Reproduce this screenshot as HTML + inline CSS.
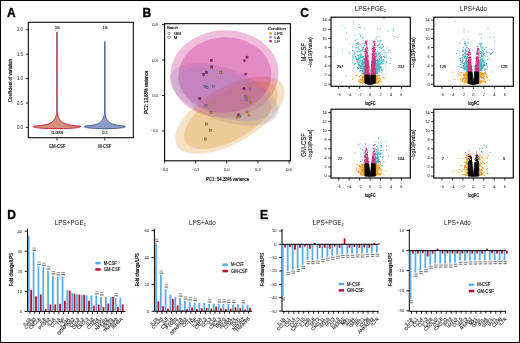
<!DOCTYPE html>
<html><head><meta charset="utf-8"><style>
html,body{margin:0;padding:0;background:#fff;}
body{width:520px;height:343px;overflow:hidden;}
svg{display:block;will-change:transform;}
text{font-family:"Liberation Sans",sans-serif;}
</style></head><body>
<svg width="520" height="343" viewBox="0 0 520 343">
<rect x="0" y="0" width="520" height="343" fill="#fff"/>
<text x="7.00" y="16.60" font-size="12" text-anchor="start" font-weight="bold" fill="#000" stroke="#000" stroke-width="0.35">A</text>
<text x="142.60" y="16.80" font-size="12" text-anchor="start" font-weight="bold" fill="#000" stroke="#000" stroke-width="0.35">B</text>
<text x="300.20" y="16.80" font-size="12" text-anchor="start" font-weight="bold" fill="#000" stroke="#000" stroke-width="0.35">C</text>
<text x="7.20" y="218.90" font-size="12" text-anchor="start" font-weight="bold" fill="#000" stroke="#000" stroke-width="0.35">D</text>
<text x="259.90" y="218.60" font-size="12" text-anchor="start" font-weight="bold" fill="#000" stroke="#000" stroke-width="0.35">E</text>
<rect x="28.3" y="22.3" width="105.00000000000001" height="115.39999999999999" fill="none" stroke="#000" stroke-width="1.05"/>
<line x1="25.80" y1="127.40" x2="28.30" y2="127.40" stroke="#000" stroke-width="0.8"/>
<text x="22.90" y="129.00" font-size="4.5" text-anchor="end" fill="#3a3a3a" stroke="#3a3a3a" stroke-width="0.05" textLength="6.0" lengthAdjust="spacingAndGlyphs">0.0</text>
<line x1="25.80" y1="103.00" x2="28.30" y2="103.00" stroke="#000" stroke-width="0.8"/>
<text x="22.90" y="104.60" font-size="4.5" text-anchor="end" fill="#3a3a3a" stroke="#3a3a3a" stroke-width="0.05" textLength="6.0" lengthAdjust="spacingAndGlyphs">0.5</text>
<line x1="25.80" y1="78.60" x2="28.30" y2="78.60" stroke="#000" stroke-width="0.8"/>
<text x="22.90" y="80.20" font-size="4.5" text-anchor="end" fill="#3a3a3a" stroke="#3a3a3a" stroke-width="0.05" textLength="6.0" lengthAdjust="spacingAndGlyphs">1.0</text>
<line x1="25.80" y1="54.20" x2="28.30" y2="54.20" stroke="#000" stroke-width="0.8"/>
<text x="22.90" y="55.80" font-size="4.5" text-anchor="end" fill="#3a3a3a" stroke="#3a3a3a" stroke-width="0.05" textLength="6.0" lengthAdjust="spacingAndGlyphs">1.5</text>
<line x1="25.80" y1="29.80" x2="28.30" y2="29.80" stroke="#000" stroke-width="0.8"/>
<text x="22.90" y="31.40" font-size="4.5" text-anchor="end" fill="#3a3a3a" stroke="#3a3a3a" stroke-width="0.05" textLength="6.0" lengthAdjust="spacingAndGlyphs">2.0</text>
<text x="12.40" y="80.60" font-size="5.4" text-anchor="middle" transform="rotate(-90 12.40 80.60)" fill="#111" stroke="#111" stroke-width="0.2" textLength="43" lengthAdjust="spacingAndGlyphs">Coefficient of variation</text>
<line x1="57.00" y1="137.70" x2="57.00" y2="140.50" stroke="#000" stroke-width="0.8"/>
<text x="57.00" y="148.30" font-size="5.0" text-anchor="middle" fill="#111" stroke="#111" stroke-width="0.14" textLength="16.5" lengthAdjust="spacingAndGlyphs">GM-CSF</text>
<text x="57.30" y="29.10" font-size="4.4" text-anchor="middle" fill="#111" stroke="#111" stroke-width="0.14" textLength="5.0" lengthAdjust="spacingAndGlyphs">15</text>
<text x="57.30" y="134.00" font-size="4.4" text-anchor="middle" fill="#111" stroke="#111" stroke-width="0.14" textLength="11.4" lengthAdjust="spacingAndGlyphs">0.088</text>
<path d="M56.75,32.00 L56.75,32.48 L56.75,32.95 L56.75,33.43 L56.75,33.90 L56.75,34.38 L56.75,34.86 L56.75,35.33 L56.75,35.81 L56.75,36.28 L56.75,36.76 L56.75,37.23 L56.75,37.71 L56.75,38.19 L56.75,38.66 L56.75,39.14 L56.75,39.61 L56.75,40.09 L56.75,40.57 L56.75,41.04 L56.75,41.52 L56.75,41.99 L56.75,42.47 L56.75,42.95 L56.75,43.42 L56.75,43.90 L56.75,44.37 L56.75,44.85 L56.75,45.32 L56.75,45.80 L56.75,46.28 L56.75,46.75 L56.75,47.23 L56.75,47.70 L56.75,48.18 L56.75,48.66 L56.75,49.13 L56.75,49.61 L56.75,50.08 L56.75,50.56 L56.75,51.04 L56.75,51.51 L56.75,51.99 L56.75,52.46 L56.75,52.94 L56.75,53.41 L56.75,53.89 L56.75,54.37 L56.75,54.84 L56.75,55.32 L56.75,55.79 L56.75,56.27 L56.75,56.75 L56.75,57.22 L56.75,57.70 L56.75,58.17 L56.75,58.65 L56.75,59.13 L56.75,59.60 L56.75,60.08 L56.75,60.55 L56.75,61.03 L56.75,61.50 L56.75,61.98 L56.75,62.46 L56.75,62.93 L56.75,63.41 L56.75,63.88 L56.75,64.36 L56.75,64.84 L56.75,65.31 L56.75,65.79 L56.75,66.26 L56.75,66.74 L56.75,67.22 L56.75,67.69 L56.75,68.17 L56.75,68.64 L56.75,69.12 L56.75,69.59 L56.75,70.07 L56.75,70.55 L56.75,71.02 L56.75,71.50 L56.75,71.97 L56.75,72.45 L56.75,72.93 L56.75,73.40 L56.75,73.88 L56.75,74.35 L56.75,74.83 L56.75,75.31 L56.75,75.78 L56.75,76.26 L56.75,76.73 L56.75,77.21 L56.75,77.68 L56.75,78.16 L56.75,78.64 L56.75,79.11 L56.75,79.59 L56.75,80.06 L56.75,80.54 L56.75,81.02 L56.75,81.49 L56.75,81.97 L56.75,82.44 L56.75,82.92 L56.75,83.39 L56.75,83.87 L56.75,84.35 L56.75,84.82 L56.75,85.30 L56.75,85.77 L56.75,86.25 L56.75,86.73 L56.75,87.20 L56.75,87.68 L56.75,88.15 L56.75,88.63 L56.75,89.11 L56.75,89.58 L56.75,90.06 L56.75,90.53 L56.75,91.01 L56.75,91.48 L56.75,91.96 L56.75,92.44 L56.75,92.91 L56.75,93.39 L56.75,93.86 L56.75,94.34 L56.75,94.82 L56.75,95.29 L56.75,95.77 L56.75,96.24 L56.75,96.72 L56.75,97.20 L56.75,97.67 L56.75,98.15 L56.75,98.62 L56.75,99.10 L56.75,99.57 L56.75,100.05 L56.75,100.53 L56.75,101.00 L56.75,101.48 L56.75,101.95 L56.75,102.43 L56.75,102.91 L56.75,103.38 L56.75,103.86 L56.75,104.33 L56.75,104.81 L56.75,105.29 L56.75,105.76 L56.75,106.24 L56.75,106.71 L56.75,107.19 L56.75,107.66 L56.75,108.14 L56.75,108.62 L56.75,109.09 L56.75,109.57 L56.75,110.04 L56.75,110.52 L56.75,111.00 L56.75,111.47 L56.75,111.95 L56.75,112.42 L56.72,112.90 L56.63,113.38 L56.54,113.85 L56.44,114.33 L56.32,114.80 L56.20,115.28 L56.06,115.75 L55.92,116.23 L55.75,116.71 L55.57,117.18 L55.38,117.66 L55.16,118.13 L54.92,118.61 L54.65,119.09 L54.36,119.56 L54.03,120.04 L53.65,120.51 L53.23,120.99 L52.75,121.47 L52.20,121.94 L51.55,122.42 L50.78,122.89 L49.84,123.37 L48.67,123.84 L47.17,124.32 L45.14,124.80 L42.25,125.27 L37.76,125.75 L33.45,126.22 L33.45,126.70 L33.41,126.77 L33.46,126.84 L33.53,126.91 L33.63,126.98 L33.75,127.04 L33.91,127.11 L34.10,127.18 L34.32,127.25 L34.57,127.32 L34.85,127.39 L35.16,127.46 L35.52,127.53 L35.90,127.60 L36.33,127.67 L36.80,127.73 L37.32,127.80 L37.88,127.87 L38.50,127.94 L39.17,128.01 L39.91,128.08 L40.72,128.15 L41.62,128.22 L42.63,128.29 L43.75,128.36 L45.04,128.42 L46.55,128.49 L48.39,128.56 L50.86,128.63 L56.70,128.70 L57.30,128.70 L63.14,128.63 L65.61,128.56 L67.45,128.49 L68.96,128.42 L70.25,128.36 L71.37,128.29 L72.38,128.22 L73.28,128.15 L74.09,128.08 L74.83,128.01 L75.50,127.94 L76.12,127.87 L76.68,127.80 L77.20,127.73 L77.67,127.67 L78.10,127.60 L78.48,127.53 L78.84,127.46 L79.15,127.39 L79.43,127.32 L79.68,127.25 L79.90,127.18 L80.09,127.11 L80.25,127.04 L80.37,126.98 L80.47,126.91 L80.54,126.84 L80.59,126.77 L80.55,126.70 L80.55,126.22 L76.24,125.75 L71.75,125.27 L68.86,124.80 L66.83,124.32 L65.33,123.84 L64.16,123.37 L63.22,122.89 L62.45,122.42 L61.80,121.94 L61.25,121.47 L60.77,120.99 L60.35,120.51 L59.97,120.04 L59.64,119.56 L59.35,119.09 L59.08,118.61 L58.84,118.13 L58.62,117.66 L58.43,117.18 L58.25,116.71 L58.08,116.23 L57.94,115.75 L57.80,115.28 L57.68,114.80 L57.56,114.33 L57.46,113.85 L57.37,113.38 L57.28,112.90 L57.25,112.42 L57.25,111.95 L57.25,111.47 L57.25,111.00 L57.25,110.52 L57.25,110.04 L57.25,109.57 L57.25,109.09 L57.25,108.62 L57.25,108.14 L57.25,107.66 L57.25,107.19 L57.25,106.71 L57.25,106.24 L57.25,105.76 L57.25,105.29 L57.25,104.81 L57.25,104.33 L57.25,103.86 L57.25,103.38 L57.25,102.91 L57.25,102.43 L57.25,101.95 L57.25,101.48 L57.25,101.00 L57.25,100.53 L57.25,100.05 L57.25,99.57 L57.25,99.10 L57.25,98.62 L57.25,98.15 L57.25,97.67 L57.25,97.20 L57.25,96.72 L57.25,96.24 L57.25,95.77 L57.25,95.29 L57.25,94.82 L57.25,94.34 L57.25,93.86 L57.25,93.39 L57.25,92.91 L57.25,92.44 L57.25,91.96 L57.25,91.48 L57.25,91.01 L57.25,90.53 L57.25,90.06 L57.25,89.58 L57.25,89.11 L57.25,88.63 L57.25,88.15 L57.25,87.68 L57.25,87.20 L57.25,86.73 L57.25,86.25 L57.25,85.77 L57.25,85.30 L57.25,84.82 L57.25,84.35 L57.25,83.87 L57.25,83.39 L57.25,82.92 L57.25,82.44 L57.25,81.97 L57.25,81.49 L57.25,81.02 L57.25,80.54 L57.25,80.06 L57.25,79.59 L57.25,79.11 L57.25,78.64 L57.25,78.16 L57.25,77.68 L57.25,77.21 L57.25,76.73 L57.25,76.26 L57.25,75.78 L57.25,75.31 L57.25,74.83 L57.25,74.35 L57.25,73.88 L57.25,73.40 L57.25,72.93 L57.25,72.45 L57.25,71.97 L57.25,71.50 L57.25,71.02 L57.25,70.55 L57.25,70.07 L57.25,69.59 L57.25,69.12 L57.25,68.64 L57.25,68.17 L57.25,67.69 L57.25,67.22 L57.25,66.74 L57.25,66.26 L57.25,65.79 L57.25,65.31 L57.25,64.84 L57.25,64.36 L57.25,63.88 L57.25,63.41 L57.25,62.93 L57.25,62.46 L57.25,61.98 L57.25,61.50 L57.25,61.03 L57.25,60.55 L57.25,60.08 L57.25,59.60 L57.25,59.13 L57.25,58.65 L57.25,58.17 L57.25,57.70 L57.25,57.22 L57.25,56.75 L57.25,56.27 L57.25,55.79 L57.25,55.32 L57.25,54.84 L57.25,54.37 L57.25,53.89 L57.25,53.41 L57.25,52.94 L57.25,52.46 L57.25,51.99 L57.25,51.51 L57.25,51.04 L57.25,50.56 L57.25,50.08 L57.25,49.61 L57.25,49.13 L57.25,48.66 L57.25,48.18 L57.25,47.70 L57.25,47.23 L57.25,46.75 L57.25,46.28 L57.25,45.80 L57.25,45.32 L57.25,44.85 L57.25,44.37 L57.25,43.90 L57.25,43.42 L57.25,42.95 L57.25,42.47 L57.25,41.99 L57.25,41.52 L57.25,41.04 L57.25,40.57 L57.25,40.09 L57.25,39.61 L57.25,39.14 L57.25,38.66 L57.25,38.19 L57.25,37.71 L57.25,37.23 L57.25,36.76 L57.25,36.28 L57.25,35.81 L57.25,35.33 L57.25,34.86 L57.25,34.38 L57.25,33.90 L57.25,33.43 L57.25,32.95 L57.25,32.48 L57.25,32.00 Z" fill="#d48f7c" stroke="#bb1535" stroke-width="0.9" stroke-linejoin="round"/>
<line x1="104.80" y1="137.70" x2="104.80" y2="140.50" stroke="#000" stroke-width="0.8"/>
<text x="104.80" y="148.30" font-size="5.0" text-anchor="middle" fill="#111" stroke="#111" stroke-width="0.14" textLength="13.2" lengthAdjust="spacingAndGlyphs">M-CSF</text>
<text x="105.10" y="29.10" font-size="4.4" text-anchor="middle" fill="#111" stroke="#111" stroke-width="0.14" textLength="5.0" lengthAdjust="spacingAndGlyphs">15</text>
<text x="105.10" y="134.00" font-size="4.4" text-anchor="middle" fill="#111" stroke="#111" stroke-width="0.14" textLength="5.6" lengthAdjust="spacingAndGlyphs">0.1</text>
<path d="M104.55,41.70 L104.55,42.13 L104.55,42.55 L104.55,42.98 L104.55,43.41 L104.55,43.84 L104.55,44.26 L104.55,44.69 L104.55,45.12 L104.55,45.54 L104.55,45.97 L104.55,46.40 L104.55,46.83 L104.55,47.25 L104.55,47.68 L104.55,48.11 L104.55,48.53 L104.55,48.96 L104.55,49.39 L104.55,49.82 L104.55,50.24 L104.55,50.67 L104.55,51.10 L104.55,51.52 L104.55,51.95 L104.55,52.38 L104.55,52.81 L104.55,53.23 L104.55,53.66 L104.55,54.09 L104.55,54.51 L104.55,54.94 L104.55,55.37 L104.55,55.80 L104.55,56.22 L104.55,56.65 L104.55,57.08 L104.55,57.50 L104.55,57.93 L104.55,58.36 L104.55,58.79 L104.55,59.21 L104.55,59.64 L104.55,60.07 L104.55,60.49 L104.55,60.92 L104.55,61.35 L104.55,61.78 L104.55,62.20 L104.55,62.63 L104.55,63.06 L104.55,63.48 L104.55,63.91 L104.55,64.34 L104.55,64.77 L104.55,65.19 L104.55,65.62 L104.55,66.05 L104.55,66.47 L104.55,66.90 L104.55,67.33 L104.55,67.76 L104.55,68.18 L104.55,68.61 L104.55,69.04 L104.55,69.46 L104.55,69.89 L104.55,70.32 L104.55,70.75 L104.55,71.17 L104.55,71.60 L104.55,72.03 L104.55,72.45 L104.55,72.88 L104.55,73.31 L104.55,73.74 L104.55,74.16 L104.55,74.59 L104.55,75.02 L104.55,75.44 L104.55,75.87 L104.55,76.30 L104.55,76.73 L104.55,77.15 L104.55,77.58 L104.55,78.01 L104.55,78.43 L104.55,78.86 L104.55,79.29 L104.55,79.72 L104.55,80.14 L104.55,80.57 L104.55,81.00 L104.55,81.42 L104.55,81.85 L104.55,82.28 L104.55,82.71 L104.55,83.13 L104.55,83.56 L104.55,83.99 L104.55,84.41 L104.55,84.84 L104.55,85.27 L104.55,85.69 L104.55,86.12 L104.55,86.55 L104.55,86.98 L104.55,87.40 L104.55,87.83 L104.55,88.26 L104.55,88.68 L104.55,89.11 L104.55,89.54 L104.55,89.97 L104.55,90.39 L104.55,90.82 L104.55,91.25 L104.55,91.67 L104.55,92.10 L104.55,92.53 L104.55,92.96 L104.55,93.38 L104.55,93.81 L104.55,94.24 L104.55,94.66 L104.55,95.09 L104.55,95.52 L104.55,95.95 L104.55,96.37 L104.55,96.80 L104.55,97.23 L104.55,97.65 L104.55,98.08 L104.55,98.51 L104.55,98.94 L104.55,99.36 L104.55,99.79 L104.55,100.22 L104.55,100.64 L104.55,101.07 L104.55,101.50 L104.55,101.93 L104.55,102.35 L104.55,102.78 L104.55,103.21 L104.55,103.63 L104.55,104.06 L104.55,104.49 L104.55,104.92 L104.55,105.34 L104.55,105.77 L104.55,106.20 L104.55,106.62 L104.55,107.05 L104.55,107.48 L104.55,107.91 L104.55,108.33 L104.55,108.76 L104.55,109.19 L104.55,109.61 L104.55,110.04 L104.55,110.47 L104.55,110.90 L104.55,111.32 L104.55,111.75 L104.55,112.18 L104.55,112.60 L104.55,113.03 L104.52,113.46 L104.45,113.89 L104.37,114.31 L104.28,114.74 L104.19,115.17 L104.08,115.59 L103.97,116.02 L103.85,116.45 L103.72,116.88 L103.57,117.30 L103.42,117.73 L103.24,118.16 L103.06,118.58 L102.85,119.01 L102.63,119.44 L102.38,119.87 L102.10,120.29 L101.79,120.72 L101.45,121.15 L101.06,121.57 L100.61,122.00 L100.10,122.43 L99.50,122.86 L98.78,123.28 L97.92,123.71 L96.84,124.14 L95.46,124.56 L93.62,124.99 L91.01,125.42 L87.01,125.85 L84.35,126.27 L84.35,126.70 L84.31,126.77 L84.35,126.84 L84.41,126.91 L84.50,126.98 L84.61,127.04 L84.74,127.11 L84.91,127.18 L85.10,127.25 L85.31,127.32 L85.56,127.39 L85.83,127.46 L86.14,127.53 L86.48,127.60 L86.85,127.67 L87.26,127.73 L87.70,127.80 L88.19,127.87 L88.73,127.94 L89.31,128.01 L89.96,128.08 L90.66,128.15 L91.44,128.22 L92.31,128.29 L93.29,128.36 L94.41,128.42 L95.72,128.49 L97.32,128.56 L99.46,128.63 L104.50,128.70 L105.10,128.70 L110.14,128.63 L112.28,128.56 L113.88,128.49 L115.19,128.42 L116.31,128.36 L117.29,128.29 L118.16,128.22 L118.94,128.15 L119.64,128.08 L120.29,128.01 L120.87,127.94 L121.41,127.87 L121.90,127.80 L122.34,127.73 L122.75,127.67 L123.12,127.60 L123.46,127.53 L123.77,127.46 L124.04,127.39 L124.29,127.32 L124.50,127.25 L124.69,127.18 L124.86,127.11 L124.99,127.04 L125.10,126.98 L125.19,126.91 L125.25,126.84 L125.29,126.77 L125.25,126.70 L125.25,126.27 L122.59,125.85 L118.59,125.42 L115.98,124.99 L114.14,124.56 L112.76,124.14 L111.68,123.71 L110.82,123.28 L110.10,122.86 L109.50,122.43 L108.99,122.00 L108.54,121.57 L108.15,121.15 L107.81,120.72 L107.50,120.29 L107.22,119.87 L106.97,119.44 L106.75,119.01 L106.54,118.58 L106.36,118.16 L106.18,117.73 L106.03,117.30 L105.88,116.88 L105.75,116.45 L105.63,116.02 L105.52,115.59 L105.41,115.17 L105.32,114.74 L105.23,114.31 L105.15,113.89 L105.08,113.46 L105.05,113.03 L105.05,112.60 L105.05,112.18 L105.05,111.75 L105.05,111.32 L105.05,110.90 L105.05,110.47 L105.05,110.04 L105.05,109.61 L105.05,109.19 L105.05,108.76 L105.05,108.33 L105.05,107.91 L105.05,107.48 L105.05,107.05 L105.05,106.62 L105.05,106.20 L105.05,105.77 L105.05,105.34 L105.05,104.92 L105.05,104.49 L105.05,104.06 L105.05,103.63 L105.05,103.21 L105.05,102.78 L105.05,102.35 L105.05,101.93 L105.05,101.50 L105.05,101.07 L105.05,100.64 L105.05,100.22 L105.05,99.79 L105.05,99.36 L105.05,98.94 L105.05,98.51 L105.05,98.08 L105.05,97.65 L105.05,97.23 L105.05,96.80 L105.05,96.37 L105.05,95.95 L105.05,95.52 L105.05,95.09 L105.05,94.66 L105.05,94.24 L105.05,93.81 L105.05,93.38 L105.05,92.96 L105.05,92.53 L105.05,92.10 L105.05,91.67 L105.05,91.25 L105.05,90.82 L105.05,90.39 L105.05,89.97 L105.05,89.54 L105.05,89.11 L105.05,88.68 L105.05,88.26 L105.05,87.83 L105.05,87.40 L105.05,86.98 L105.05,86.55 L105.05,86.12 L105.05,85.69 L105.05,85.27 L105.05,84.84 L105.05,84.41 L105.05,83.99 L105.05,83.56 L105.05,83.13 L105.05,82.71 L105.05,82.28 L105.05,81.85 L105.05,81.42 L105.05,81.00 L105.05,80.57 L105.05,80.14 L105.05,79.72 L105.05,79.29 L105.05,78.86 L105.05,78.43 L105.05,78.01 L105.05,77.58 L105.05,77.15 L105.05,76.73 L105.05,76.30 L105.05,75.87 L105.05,75.44 L105.05,75.02 L105.05,74.59 L105.05,74.16 L105.05,73.74 L105.05,73.31 L105.05,72.88 L105.05,72.45 L105.05,72.03 L105.05,71.60 L105.05,71.17 L105.05,70.75 L105.05,70.32 L105.05,69.89 L105.05,69.46 L105.05,69.04 L105.05,68.61 L105.05,68.18 L105.05,67.76 L105.05,67.33 L105.05,66.90 L105.05,66.47 L105.05,66.05 L105.05,65.62 L105.05,65.19 L105.05,64.77 L105.05,64.34 L105.05,63.91 L105.05,63.48 L105.05,63.06 L105.05,62.63 L105.05,62.20 L105.05,61.78 L105.05,61.35 L105.05,60.92 L105.05,60.49 L105.05,60.07 L105.05,59.64 L105.05,59.21 L105.05,58.79 L105.05,58.36 L105.05,57.93 L105.05,57.50 L105.05,57.08 L105.05,56.65 L105.05,56.22 L105.05,55.80 L105.05,55.37 L105.05,54.94 L105.05,54.51 L105.05,54.09 L105.05,53.66 L105.05,53.23 L105.05,52.81 L105.05,52.38 L105.05,51.95 L105.05,51.52 L105.05,51.10 L105.05,50.67 L105.05,50.24 L105.05,49.82 L105.05,49.39 L105.05,48.96 L105.05,48.53 L105.05,48.11 L105.05,47.68 L105.05,47.25 L105.05,46.83 L105.05,46.40 L105.05,45.97 L105.05,45.54 L105.05,45.12 L105.05,44.69 L105.05,44.26 L105.05,43.84 L105.05,43.41 L105.05,42.98 L105.05,42.55 L105.05,42.13 L105.05,41.70 Z" fill="#8f9cc9" stroke="#34528f" stroke-width="0.9" stroke-linejoin="round"/>
<clipPath id="cb"><rect x="164.6" y="23.7" width="125.79999999999998" height="137.10000000000002"/></clipPath>
<g clip-path="url(#cb)">
<ellipse cx="229.9" cy="115.1" rx="61" ry="28" transform="rotate(-29.65 229.9 115.1)" fill="#da9024" fill-opacity="0.27"/>
<ellipse cx="224.5" cy="74" rx="54.1" ry="43.7" transform="rotate(-2.9 224.5 74)" fill="#c5097f" fill-opacity="0.27"/>
<ellipse cx="224" cy="94.5" rx="57" ry="26" transform="rotate(20 224 94.5)" fill="#9b8abb" fill-opacity="0.27"/>
<ellipse cx="230.9" cy="115.2" rx="52.6" ry="24" transform="rotate(-31 230.9 115.2)" fill="#da9024" fill-opacity="0.27"/>
<ellipse cx="224.9" cy="74.9" rx="46.4" ry="37.7" transform="rotate(-2.2 224.9 74.9)" fill="#c5097f" fill-opacity="0.27"/>
<ellipse cx="224" cy="94.5" rx="49" ry="22.4" transform="rotate(20 224 94.5)" fill="#9b8abb" fill-opacity="0.27"/>
</g>
<rect x="164.6" y="23.7" width="125.79999999999998" height="137.10000000000002" fill="none" stroke="#000" stroke-width="1.1"/>
<line x1="162.00" y1="24.52" x2="164.60" y2="24.52" stroke="#000" stroke-width="0.8"/>
<text x="157.90" y="26.02" font-size="4.2" text-anchor="end" fill="#3a3a3a" stroke="#3a3a3a" stroke-width="0.05" textLength="5.7" lengthAdjust="spacingAndGlyphs">0.6</text>
<line x1="162.00" y1="60.01" x2="164.60" y2="60.01" stroke="#000" stroke-width="0.8"/>
<text x="157.90" y="61.51" font-size="4.2" text-anchor="end" fill="#3a3a3a" stroke="#3a3a3a" stroke-width="0.05" textLength="5.7" lengthAdjust="spacingAndGlyphs">0.3</text>
<line x1="162.00" y1="95.50" x2="164.60" y2="95.50" stroke="#000" stroke-width="0.8"/>
<text x="157.90" y="97.00" font-size="4.2" text-anchor="end" fill="#3a3a3a" stroke="#3a3a3a" stroke-width="0.05" textLength="5.7" lengthAdjust="spacingAndGlyphs">0.0</text>
<line x1="162.00" y1="130.99" x2="164.60" y2="130.99" stroke="#000" stroke-width="0.8"/>
<text x="157.90" y="132.49" font-size="4.2" text-anchor="end" fill="#3a3a3a" stroke="#3a3a3a" stroke-width="0.05" textLength="7.2" lengthAdjust="spacingAndGlyphs">−0.3</text>
<line x1="164.58" y1="160.80" x2="164.58" y2="163.40" stroke="#000" stroke-width="0.8"/>
<text x="164.58" y="170.60" font-size="4.2" text-anchor="middle" fill="#3a3a3a" stroke="#3a3a3a" stroke-width="0.05" textLength="7.2" lengthAdjust="spacingAndGlyphs">−0.6</text>
<line x1="195.69" y1="160.80" x2="195.69" y2="163.40" stroke="#000" stroke-width="0.8"/>
<text x="195.69" y="170.60" font-size="4.2" text-anchor="middle" fill="#3a3a3a" stroke="#3a3a3a" stroke-width="0.05" textLength="7.2" lengthAdjust="spacingAndGlyphs">−0.3</text>
<line x1="226.80" y1="160.80" x2="226.80" y2="163.40" stroke="#000" stroke-width="0.8"/>
<text x="226.80" y="170.60" font-size="4.2" text-anchor="middle" fill="#3a3a3a" stroke="#3a3a3a" stroke-width="0.05" textLength="5.7" lengthAdjust="spacingAndGlyphs">0.0</text>
<line x1="257.91" y1="160.80" x2="257.91" y2="163.40" stroke="#000" stroke-width="0.8"/>
<text x="257.91" y="170.60" font-size="4.2" text-anchor="middle" fill="#3a3a3a" stroke="#3a3a3a" stroke-width="0.05" textLength="5.7" lengthAdjust="spacingAndGlyphs">0.3</text>
<line x1="289.02" y1="160.80" x2="289.02" y2="163.40" stroke="#000" stroke-width="0.8"/>
<text x="289.02" y="170.60" font-size="4.2" text-anchor="middle" fill="#3a3a3a" stroke="#3a3a3a" stroke-width="0.05" textLength="5.7" lengthAdjust="spacingAndGlyphs">0.6</text>
<text x="227.60" y="180.60" font-size="6.2" text-anchor="middle" fill="#111" stroke="#111" stroke-width="0.22" textLength="43" lengthAdjust="spacingAndGlyphs">PC1: 54.33% variance</text>
<text x="147.80" y="92.20" font-size="5.6" text-anchor="middle" transform="rotate(-90 147.80 92.20)" fill="#111" stroke="#111" stroke-width="0.22" textLength="43" lengthAdjust="spacingAndGlyphs">PC2: 13.68% variance</text>
<text x="166.90" y="29.40" font-size="4.2" text-anchor="start" fill="#111" stroke="#111" stroke-width="0.14" textLength="11.0" lengthAdjust="spacingAndGlyphs">Batch</text>
<circle cx="169.0" cy="33.5" r="1.15" fill="none" stroke="#555" stroke-width="0.6"/>
<rect x="167.9" y="36.2" width="2.2" height="2.2" fill="none" stroke="#555" stroke-width="0.6"/>
<text x="173.90" y="35.00" font-size="4.3" text-anchor="start" fill="#111" stroke="#111" stroke-width="0.14" textLength="7.0" lengthAdjust="spacingAndGlyphs">GM</text>
<text x="173.90" y="38.80" font-size="4.3" text-anchor="start" fill="#111" stroke="#111" stroke-width="0.14" textLength="3.3" lengthAdjust="spacingAndGlyphs">M</text>
<text x="267.80" y="29.70" font-size="4.3" text-anchor="start" fill="#111" stroke="#111" stroke-width="0.14" textLength="18.1" lengthAdjust="spacingAndGlyphs">Condition</text>
<circle cx="270.5" cy="33.50" r="1.3" fill="#f08c1a"/>
<text x="274.60" y="35.00" font-size="4.3" text-anchor="start" fill="#111" stroke="#111" stroke-width="0.14">LPS</text>
<circle cx="270.5" cy="37.30" r="1.3" fill="#8c86cc"/>
<text x="274.60" y="38.80" font-size="4.3" text-anchor="start" fill="#111" stroke="#111" stroke-width="0.14">LA</text>
<circle cx="270.5" cy="41.10" r="1.3" fill="#c0107a"/>
<text x="274.60" y="42.60" font-size="4.3" text-anchor="start" fill="#111" stroke="#111" stroke-width="0.14">LP</text>
<rect x="210.30" y="59.30" width="2.2" height="2.2" fill="#b0126e" stroke="#333" stroke-width="0.35"/>
<rect x="210.70" y="65.90" width="2.2" height="2.2" fill="#b0126e" stroke="#333" stroke-width="0.35"/>
<rect x="205.40" y="71.40" width="2.2" height="2.2" fill="#b0126e" stroke="#333" stroke-width="0.35"/>
<rect x="202.70" y="73.40" width="2.2" height="2.2" fill="#b0126e" stroke="#333" stroke-width="0.35"/>
<rect x="219.70" y="71.10" width="2.2" height="2.2" fill="#e8921c" stroke="#333" stroke-width="0.35"/>
<rect x="203.90" y="85.30" width="2.2" height="2.2" fill="#8a86c6" stroke="#333" stroke-width="0.35"/>
<rect x="206.10" y="86.50" width="2.2" height="2.2" fill="#8a86c6" stroke="#333" stroke-width="0.35"/>
<rect x="212.30" y="85.40" width="2.2" height="2.2" fill="#8a86c6" stroke="#333" stroke-width="0.35"/>
<circle cx="247.00" cy="57.20" r="1.2" fill="#b0126e" stroke="#333" stroke-width="0.35"/>
<circle cx="244.40" cy="60.60" r="1.2" fill="#b0126e" stroke="#333" stroke-width="0.35"/>
<circle cx="245.60" cy="74.10" r="1.2" fill="#b0126e" stroke="#333" stroke-width="0.35"/>
<circle cx="244.00" cy="88.50" r="1.2" fill="#b0126e" stroke="#333" stroke-width="0.35"/>
<circle cx="250.00" cy="89.00" r="1.2" fill="#8a86c6" stroke="#333" stroke-width="0.35"/>
<rect x="198.70" y="97.50" width="2.2" height="2.2" fill="#b0126e" stroke="#333" stroke-width="0.35"/>
<rect x="204.90" y="104.20" width="2.2" height="2.2" fill="#8a86c6" stroke="#333" stroke-width="0.35"/>
<rect x="209.90" y="111.40" width="2.2" height="2.2" fill="#e8921c" stroke="#333" stroke-width="0.35"/>
<rect x="205.50" y="122.90" width="2.2" height="2.2" fill="#e8921c" stroke="#333" stroke-width="0.35"/>
<rect x="209.30" y="129.40" width="2.2" height="2.2" fill="#e8921c" stroke="#333" stroke-width="0.35"/>
<rect x="204.40" y="137.90" width="2.2" height="2.2" fill="#e8921c" stroke="#333" stroke-width="0.35"/>
<circle cx="245.40" cy="96.70" r="1.2" fill="#8a86c6" stroke="#333" stroke-width="0.35"/>
<circle cx="246.30" cy="99.80" r="1.2" fill="#8a86c6" stroke="#333" stroke-width="0.35"/>
<circle cx="248.50" cy="97.50" r="1.2" fill="#e8921c" stroke="#333" stroke-width="0.35"/>
<circle cx="250.60" cy="102.30" r="1.2" fill="#e8921c" stroke="#333" stroke-width="0.35"/>
<circle cx="247.00" cy="112.00" r="1.2" fill="#e8921c" stroke="#333" stroke-width="0.35"/>
<circle cx="249.00" cy="115.30" r="1.2" fill="#e8921c" stroke="#333" stroke-width="0.35"/>
<circle cx="238.50" cy="114.80" r="1.2" fill="#b0126e" stroke="#333" stroke-width="0.35"/>
<circle cx="237.00" cy="117.30" r="1.2" fill="#e8921c" stroke="#333" stroke-width="0.35"/>
<circle cx="240.00" cy="116.30" r="1.2" fill="#8a86c6" stroke="#333" stroke-width="0.35"/>
<text x="354.70" y="10.60" font-size="6.4" text-anchor="start" fill="#111">LPS+PGE<tspan font-size="3.8" dy="1.3">2</tspan></text>
<text x="460.10" y="10.60" font-size="6.4" text-anchor="start" fill="#111" textLength="26.8" lengthAdjust="spacingAndGlyphs">LPS+Ado</text>
<text x="306.00" y="52.30" font-size="7.0" text-anchor="middle" transform="rotate(-90 306.00 52.30)" fill="#111" stroke="#111" stroke-width="0.1" textLength="18.5" lengthAdjust="spacingAndGlyphs">M-CSF</text>
<text x="306.00" y="144.90" font-size="7.0" text-anchor="middle" transform="rotate(-90 306.00 144.90)" fill="#111" stroke="#111" stroke-width="0.1" textLength="23.6" lengthAdjust="spacingAndGlyphs">GM-CSF</text>
<text x="311.80" y="52.30" font-size="4.8" text-anchor="middle" transform="rotate(-90 311.80 52.30)" fill="#111" stroke="#111" stroke-width="0.1" textLength="30.0" lengthAdjust="spacingAndGlyphs">−log10(Pvalue)</text>
<text x="311.80" y="144.50" font-size="4.8" text-anchor="middle" transform="rotate(-90 311.80 144.50)" fill="#111" stroke="#111" stroke-width="0.1" textLength="30.0" lengthAdjust="spacingAndGlyphs">−log10(Pvalue)</text>
<text x="414.60" y="52.30" font-size="4.8" text-anchor="middle" transform="rotate(-90 414.60 52.30)" fill="#111" stroke="#111" stroke-width="0.1" textLength="30.0" lengthAdjust="spacingAndGlyphs">−log10(Pvalue)</text>
<text x="414.60" y="144.50" font-size="4.8" text-anchor="middle" transform="rotate(-90 414.60 144.50)" fill="#111" stroke="#111" stroke-width="0.1" textLength="30.0" lengthAdjust="spacingAndGlyphs">−log10(Pvalue)</text>
<rect x="331.0" y="17.2" width="79.30000000000001" height="69.1" fill="none" stroke="#000" stroke-width="1.15"/>
<line x1="328.20" y1="84.30" x2="331.00" y2="84.30" stroke="#000" stroke-width="0.75"/>
<text x="326.80" y="85.65" font-size="3.9" text-anchor="end" fill="#3a3a3a" stroke="#3a3a3a" stroke-width="0.05" textLength="2.2" lengthAdjust="spacingAndGlyphs">0</text>
<line x1="328.20" y1="75.12" x2="331.00" y2="75.12" stroke="#000" stroke-width="0.75"/>
<text x="326.80" y="76.47" font-size="3.9" text-anchor="end" fill="#3a3a3a" stroke="#3a3a3a" stroke-width="0.05" textLength="2.2" lengthAdjust="spacingAndGlyphs">2</text>
<line x1="328.20" y1="65.94" x2="331.00" y2="65.94" stroke="#000" stroke-width="0.75"/>
<text x="326.80" y="67.29" font-size="3.9" text-anchor="end" fill="#3a3a3a" stroke="#3a3a3a" stroke-width="0.05" textLength="2.2" lengthAdjust="spacingAndGlyphs">4</text>
<line x1="328.20" y1="56.76" x2="331.00" y2="56.76" stroke="#000" stroke-width="0.75"/>
<text x="326.80" y="58.11" font-size="3.9" text-anchor="end" fill="#3a3a3a" stroke="#3a3a3a" stroke-width="0.05" textLength="2.2" lengthAdjust="spacingAndGlyphs">6</text>
<line x1="328.20" y1="47.58" x2="331.00" y2="47.58" stroke="#000" stroke-width="0.75"/>
<text x="326.80" y="48.93" font-size="3.9" text-anchor="end" fill="#3a3a3a" stroke="#3a3a3a" stroke-width="0.05" textLength="2.2" lengthAdjust="spacingAndGlyphs">8</text>
<line x1="328.20" y1="38.40" x2="331.00" y2="38.40" stroke="#000" stroke-width="0.75"/>
<text x="326.80" y="39.75" font-size="3.9" text-anchor="end" fill="#3a3a3a" stroke="#3a3a3a" stroke-width="0.05" textLength="4.4" lengthAdjust="spacingAndGlyphs">10</text>
<line x1="328.20" y1="29.22" x2="331.00" y2="29.22" stroke="#000" stroke-width="0.75"/>
<text x="326.80" y="30.57" font-size="3.9" text-anchor="end" fill="#3a3a3a" stroke="#3a3a3a" stroke-width="0.05" textLength="4.4" lengthAdjust="spacingAndGlyphs">12</text>
<line x1="328.20" y1="20.04" x2="331.00" y2="20.04" stroke="#000" stroke-width="0.75"/>
<text x="326.80" y="21.39" font-size="3.9" text-anchor="end" fill="#3a3a3a" stroke="#3a3a3a" stroke-width="0.05" textLength="4.4" lengthAdjust="spacingAndGlyphs">14</text>
<line x1="338.72" y1="86.30" x2="338.72" y2="88.90" stroke="#000" stroke-width="0.75"/>
<text x="338.72" y="96.30" font-size="3.9" text-anchor="middle" fill="#3a3a3a" stroke="#3a3a3a" stroke-width="0.05" textLength="4.0" lengthAdjust="spacingAndGlyphs">−6</text>
<line x1="349.18" y1="86.30" x2="349.18" y2="88.90" stroke="#000" stroke-width="0.75"/>
<text x="349.18" y="96.30" font-size="3.9" text-anchor="middle" fill="#3a3a3a" stroke="#3a3a3a" stroke-width="0.05" textLength="4.0" lengthAdjust="spacingAndGlyphs">−4</text>
<line x1="359.64" y1="86.30" x2="359.64" y2="88.90" stroke="#000" stroke-width="0.75"/>
<text x="359.64" y="96.30" font-size="3.9" text-anchor="middle" fill="#3a3a3a" stroke="#3a3a3a" stroke-width="0.05" textLength="4.0" lengthAdjust="spacingAndGlyphs">−2</text>
<line x1="370.10" y1="86.30" x2="370.10" y2="88.90" stroke="#000" stroke-width="0.75"/>
<text x="370.10" y="96.30" font-size="3.9" text-anchor="middle" fill="#3a3a3a" stroke="#3a3a3a" stroke-width="0.05" textLength="2.2" lengthAdjust="spacingAndGlyphs">0</text>
<line x1="380.56" y1="86.30" x2="380.56" y2="88.90" stroke="#000" stroke-width="0.75"/>
<text x="380.56" y="96.30" font-size="3.9" text-anchor="middle" fill="#3a3a3a" stroke="#3a3a3a" stroke-width="0.05" textLength="2.2" lengthAdjust="spacingAndGlyphs">2</text>
<line x1="391.02" y1="86.30" x2="391.02" y2="88.90" stroke="#000" stroke-width="0.75"/>
<text x="391.02" y="96.30" font-size="3.9" text-anchor="middle" fill="#3a3a3a" stroke="#3a3a3a" stroke-width="0.05" textLength="2.2" lengthAdjust="spacingAndGlyphs">4</text>
<line x1="401.48" y1="86.30" x2="401.48" y2="88.90" stroke="#000" stroke-width="0.75"/>
<text x="401.48" y="96.30" font-size="3.9" text-anchor="middle" fill="#3a3a3a" stroke="#3a3a3a" stroke-width="0.05" textLength="2.2" lengthAdjust="spacingAndGlyphs">6</text>
<text x="370.40" y="105.30" font-size="5.2" text-anchor="middle" fill="#111" stroke="#111" stroke-width="0.22" textLength="10.7" lengthAdjust="spacingAndGlyphs">logFC</text>
<text x="340.00" y="68.00" font-size="4.0" text-anchor="middle" fill="#111" stroke="#111" stroke-width="0.14" textLength="6.6000000000000005" lengthAdjust="spacingAndGlyphs">257</text>
<text x="401.10" y="68.00" font-size="4.0" text-anchor="middle" fill="#111" stroke="#111" stroke-width="0.14" textLength="6.6000000000000005" lengthAdjust="spacingAndGlyphs">232</text>
<path d="M352 78.5h1.5v1h-1.5zM362.5 78.5h1v1h-1zM364 78.5h1v1h-1zM375 78.5h1.5v1h-1.5zM377 78.5h1v1h-1zM380 78.5h1v1h-1zM362 78h1.5v1h-1.5zM364 78h1v1h-1zM375 78h2v1h-2zM377 78h1.5v1h-1.5zM379.5 78h1v1h-1zM384 78h1v1h-1zM346 75.5h1v1h-1zM362.5 75.5h1.5v1h-1.5zM375 75.5h1v1h-1zM377 75.5h1v1h-1zM356 75h1v1h-1zM360 75h1v1h-1zM361.5 75h1v1h-1zM363 75h1v1h-1zM364 75h1v1h-1zM375.5 75h1v1h-1zM376.5 75h1v1h-1zM377.5 75h1v1h-1zM379 75h1.5v1h-1.5zM362 83h1v1h-1zM375 83h1.5v1h-1.5zM377 83h1v1h-1zM359 79.5h1v1h-1zM360 79.5h1.5v1h-1.5zM361.5 79.5h2.5v1h-2.5zM364 79.5h1.5v1h-1.5zM375 79.5h2.5v1h-2.5zM379.5 79.5h1v1h-1zM359.5 81h1v1h-1zM362.5 81h1v1h-1zM363.5 81h1v1h-1zM375 81h1.5v1h-1.5zM376.5 81h1v1h-1zM380.5 81h1v1h-1zM360.5 82h1.5v1h-1.5zM363 82h2v1h-2zM375 82h1v1h-1zM376 82h1v1h-1zM377 82h1v1h-1zM378 82h1v1h-1zM362 76.5h2v1h-2zM364 76.5h1v1h-1zM375 76.5h2v1h-2zM377.5 76.5h1v1h-1zM382.5 76.5h1v1h-1zM363 74.5h1v1h-1zM364 74.5h1v1h-1zM360 79h1v1h-1zM361 79h1v1h-1zM362 79h1.5v1h-1.5zM363.5 79h1.5v1h-1.5zM375.5 79h1.5v1h-1.5zM377 79h1v1h-1zM359 76h1v1h-1zM364 76h1v1h-1zM375 76h2v1h-2zM379 76h1v1h-1zM358.5 80.5h1v1h-1zM361.5 80.5h1v1h-1zM363.5 80.5h2v1h-2zM375.5 80.5h1.5v1h-1.5zM377.5 80.5h1.5v1h-1.5zM380 80.5h1v1h-1zM361.5 77h2v1h-2zM363.5 77h1.5v1h-1.5zM375 77h1v1h-1zM377 77h1v1h-1zM359 82.5h1v1h-1zM363 82.5h1v1h-1zM375 82.5h3v1h-3zM359.5 77.5h1v1h-1zM362 77.5h1v1h-1zM363 77.5h2v1h-2zM375.5 77.5h1v1h-1zM377 77.5h1v1h-1zM378 77.5h1.5v1h-1.5zM383 77.5h1v1h-1zM358 81.5h1v1h-1zM360 81.5h1v1h-1zM362.5 81.5h1v1h-1zM364 81.5h1.5v1h-1.5zM375 81.5h1v1h-1zM376 81.5h1.5v1h-1.5zM378.5 81.5h1.5v1h-1.5zM380.5 81.5h1v1h-1zM360.5 80h1v1h-1zM363 80h1.5v1h-1.5zM375 80h1v1h-1zM376 80h1v1h-1zM379 80h1v1h-1z" fill="#f0a020"/>
<path d="M358 65.5h1v1h-1zM359.5 65.5h1v1h-1zM360.5 65.5h1.5v1h-1.5zM362.5 65.5h2v1h-2zM376 65.5h3v1h-3zM353.5 54h1v1h-1zM359 54h1.5v1h-1.5zM361 54h1v1h-1zM376 54h1v1h-1zM378 54h1v1h-1zM380.5 54h1v1h-1zM357 42.5h1.5v1h-1.5zM379 42.5h1v1h-1zM358 64h1v1h-1zM359 64h1v1h-1zM361.5 64h2v1h-2zM377 64h2v1h-2zM379.5 64h1.5v1h-1.5zM353.5 67.5h1v1h-1zM359 67.5h1v1h-1zM360 67.5h1.5v1h-1.5zM362.5 67.5h2.5v1h-2.5zM375.5 67.5h1v1h-1zM377.5 67.5h1.5v1h-1.5zM379 67.5h1.5v1h-1.5zM357 68.5h1v1h-1zM360 68.5h2v1h-2zM362.5 68.5h3v1h-3zM375 68.5h1.5v1h-1.5zM377 68.5h3.5v1h-3.5zM381 68.5h1v1h-1zM382.5 68.5h1v1h-1zM354 63.5h2v1h-2zM360.5 63.5h1v1h-1zM361.5 63.5h1v1h-1zM362.5 63.5h1v1h-1zM363.5 63.5h1v1h-1zM375 63.5h1v1h-1zM376 63.5h1v1h-1zM377.5 63.5h1v1h-1zM378.5 63.5h1.5v1h-1.5zM380 63.5h1.5v1h-1.5zM382.5 63.5h1.5v1h-1.5zM384.5 63.5h1v1h-1zM359.5 70h2v1h-2zM362 70h1v1h-1zM363 70h2v1h-2zM375 70h2.5v1h-2.5zM379 70h1v1h-1zM381.5 70h1v1h-1zM346 32.5h1v1h-1zM353 50.5h1v1h-1zM357.5 50.5h1v1h-1zM359 50.5h1.5v1h-1.5zM360.5 50.5h1.5v1h-1.5zM384.5 50.5h1v1h-1zM389.5 50.5h1v1h-1zM357 61.5h1.5v1h-1.5zM361.5 61.5h2v1h-2zM364.5 61.5h1v1h-1zM375.5 61.5h1v1h-1zM377 61.5h2v1h-2zM382.5 61.5h1v1h-1zM352 62.5h1v1h-1zM358 62.5h1v1h-1zM359 62.5h1.5v1h-1.5zM361 62.5h1v1h-1zM362 62.5h1.5v1h-1.5zM363.5 62.5h1v1h-1zM376 62.5h2.5v1h-2.5zM380 62.5h1.5v1h-1.5zM381.5 62.5h1v1h-1zM359.5 66.5h1v1h-1zM362.5 66.5h1v1h-1zM375.5 66.5h1v1h-1zM377.5 66.5h2v1h-2zM379.5 66.5h2v1h-2zM385 66.5h1v1h-1zM357 55h1v1h-1zM358 55h1v1h-1zM360 55h1v1h-1zM376 55h1.5v1h-1.5zM380 55h1v1h-1zM363.5 69h1.5v1h-1.5zM375 69h1.5v1h-1.5zM376.5 69h1v1h-1zM377.5 69h1v1h-1zM379 69h1v1h-1zM359 57.5h1v1h-1zM360 57.5h1v1h-1zM361 57.5h1.5v1h-1.5zM362.5 57.5h1v1h-1zM375 57.5h2v1h-2zM378.5 57.5h1v1h-1zM385.5 57.5h1v1h-1zM352 55.5h1v1h-1zM361 55.5h1v1h-1zM375.5 55.5h1v1h-1zM384.5 55.5h1v1h-1zM386 55.5h1v1h-1zM363.5 73.5h2v1h-2zM375 73.5h3v1h-3zM356 44.5h1v1h-1zM376.5 44.5h1v1h-1zM378 44.5h1.5v1h-1.5zM362.5 71.5h1v1h-1zM364 71.5h1v1h-1zM375 71.5h3v1h-3zM379 71.5h1v1h-1zM358 58.5h1v1h-1zM364 58.5h1v1h-1zM359 65h1.5v1h-1.5zM360.5 65h1.5v1h-1.5zM362.5 65h2.5v1h-2.5zM375 65h2v1h-2zM377 65h1v1h-1zM378 65h1.5v1h-1.5zM360 66h1v1h-1zM361 66h4v1h-4zM375.5 66h2v1h-2zM377.5 66h1v1h-1zM378.5 66h2v1h-2zM355.5 63h1v1h-1zM362 63h1v1h-1zM364 63h1v1h-1zM375 63h1v1h-1zM376 63h1v1h-1zM378.5 63h1v1h-1zM382 63h1v1h-1zM389.5 63h1v1h-1zM363.5 72h1.5v1h-1.5zM375.5 72h2v1h-2zM361.5 70.5h1.5v1h-1.5zM363.5 70.5h1.5v1h-1.5zM375 70.5h2.5v1h-2.5zM378 70.5h1.5v1h-1.5zM382 70.5h1v1h-1zM352.5 57h1v1h-1zM355.5 57h1v1h-1zM358 57h1v1h-1zM360.5 57h1v1h-1zM361.5 57h1v1h-1zM362.5 57h1v1h-1zM375 57h1v1h-1zM380 57h1v1h-1zM381 57h1v1h-1zM384 57h1v1h-1zM349.5 43h1v1h-1zM355.5 43h1v1h-1zM362.5 43h1v1h-1zM359.5 62h1v1h-1zM361.5 62h1.5v1h-1.5zM363 62h1.5v1h-1.5zM380.5 62h1.5v1h-1.5zM385.5 62h1v1h-1zM355 47.5h1v1h-1zM357.5 47.5h1v1h-1zM379.5 47.5h1v1h-1zM386.5 47.5h1v1h-1zM359.5 71h1v1h-1zM362 71h3.5v1h-3.5zM375 71h2.5v1h-2.5zM378.5 71h1v1h-1zM353.5 56h1v1h-1zM355 56h1v1h-1zM358.5 56h1v1h-1zM360 56h1v1h-1zM361.5 56h1.5v1h-1.5zM363 56h1v1h-1zM375 56h1.5v1h-1.5zM376.5 56h1v1h-1zM378.5 56h1.5v1h-1.5zM380.5 56h1v1h-1zM383 56h1.5v1h-1.5zM357 60.5h1v1h-1zM358.5 60.5h1.5v1h-1.5zM360 60.5h1v1h-1zM362 60.5h1v1h-1zM364 60.5h1v1h-1zM377 60.5h2v1h-2zM379 60.5h1v1h-1zM380 60.5h1v1h-1zM381.5 60.5h1v1h-1zM383.5 60.5h1v1h-1zM362 69.5h1v1h-1zM363.5 69.5h1.5v1h-1.5zM375.5 69.5h1v1h-1zM376.5 69.5h2v1h-2zM381.5 69.5h1v1h-1zM375 52h1v1h-1zM380 52h1v1h-1zM383.5 52h1v1h-1zM387.5 52h1v1h-1zM358 64.5h1.5v1h-1.5zM362.5 64.5h1.5v1h-1.5zM364 64.5h1v1h-1zM375 64.5h1v1h-1zM376.5 64.5h1v1h-1zM377.5 64.5h3v1h-3zM361.5 61h1v1h-1zM362.5 61h1v1h-1zM363.5 61h1v1h-1zM375.5 61h1v1h-1zM378 61h1v1h-1zM383.5 61h1v1h-1zM386 61h1v1h-1zM356 59h1v1h-1zM357 59h1v1h-1zM362.5 59h2.5v1h-2.5zM377 59h1v1h-1zM378.5 59h1v1h-1zM379.5 59h1v1h-1zM381.5 59h1v1h-1zM383 59h1v1h-1zM358 44h1v1h-1zM379 44h1v1h-1zM381.5 44h1v1h-1zM358 68h1v1h-1zM360.5 68h2.5v1h-2.5zM363 68h1v1h-1zM364 68h1v1h-1zM375 68h1.5v1h-1.5zM376.5 68h1v1h-1zM377.5 68h1.5v1h-1.5zM361 72.5h1v1h-1zM362.5 72.5h3v1h-3zM375 72.5h1v1h-1zM376 72.5h2v1h-2zM381 72.5h1v1h-1zM352 59.5h1v1h-1zM358 59.5h1v1h-1zM360 59.5h1v1h-1zM361.5 59.5h2.5v1h-2.5zM375 59.5h1v1h-1zM377 59.5h1v1h-1zM381 59.5h1v1h-1zM383 59.5h1v1h-1zM362 73h1v1h-1zM363 73h1v1h-1zM364 73h1v1h-1zM375 73h2.5v1h-2.5zM357 43.5h1v1h-1zM358.5 43.5h1v1h-1zM360 43.5h1v1h-1zM375 43.5h1v1h-1zM358.5 49h1v1h-1zM361.5 49h1.5v1h-1.5zM363.5 49h1v1h-1zM355.5 58h1v1h-1zM356.5 58h1v1h-1zM358.5 58h1v1h-1zM363.5 58h1v1h-1zM379.5 58h1v1h-1zM381 58h1v1h-1zM390.5 58h1v1h-1zM376 36.5h1v1h-1zM349 52.5h1v1h-1zM375.5 52.5h1v1h-1zM378 52.5h1.5v1h-1.5zM385.5 52.5h1v1h-1zM360 60h1v1h-1zM361.5 60h1v1h-1zM364 60h1v1h-1zM376 60h1v1h-1zM377.5 60h1v1h-1zM378.5 60h1v1h-1zM381.5 60h1v1h-1zM377 40.5h1v1h-1zM378.5 40.5h1v1h-1zM379.5 40.5h1v1h-1zM380.5 40.5h1v1h-1zM356.5 51h1v1h-1zM359.5 51h1v1h-1zM364 51h1v1h-1zM376.5 51h1v1h-1zM387.5 30.5h1v1h-1zM355 40h1v1h-1zM352 50h1v1h-1zM361.5 50h1.5v1h-1.5zM353.5 23.5h1v1h-1zM375 53.5h1v1h-1zM384.5 53.5h1v1h-1zM355.5 38.5h1v1h-1zM357.5 38.5h1v1h-1zM375.5 38.5h1v1h-1zM361.5 56.5h1.5v1h-1.5zM376.5 56.5h1v1h-1zM381 56.5h1v1h-1zM356 47h1v1h-1zM361.5 47h1v1h-1zM363 47h1v1h-1zM379 47h1v1h-1zM382 47h1v1h-1zM383 46h1v1h-1zM357 67h1v1h-1zM360 67h1v1h-1zM361 67h1v1h-1zM363 67h1v1h-1zM375.5 67h1.5v1h-1.5zM380 67h1.5v1h-1.5zM364 28.5h1v1h-1zM377 28.5h1v1h-1zM379.5 28.5h1v1h-1zM392.5 28.5h1v1h-1zM352 46.5h1v1h-1zM357.5 46.5h1v1h-1zM363 46.5h1v1h-1zM379.5 46.5h1v1h-1zM380.5 46.5h1v1h-1zM354 53h1v1h-1zM360.5 53h1v1h-1zM376.5 53h1v1h-1zM378.5 53h1.5v1h-1.5zM364 45h1v1h-1zM377 45h1v1h-1zM393 30h1v1h-1zM354.5 34.5h1v1h-1zM360.5 34.5h1v1h-1zM354 51.5h1v1h-1zM357.5 51.5h1v1h-1zM363 51.5h1v1h-1zM362.5 74h1v1h-1zM363.5 74h1.5v1h-1.5zM362 37.5h1v1h-1zM362.5 36h1v1h-1zM378.5 36h1v1h-1zM393.5 36h1v1h-1zM357.5 42h1v1h-1zM342 49.5h1v1h-1zM383 49.5h1v1h-1zM388 49.5h1v1h-1zM397 37h1v1h-1zM359 27h1v1h-1zM360 27h1v1h-1zM362.5 48h1v1h-1zM381 48h1v1h-1zM361.5 45.5h1v1h-1zM383 45.5h1v1h-1zM354.5 54.5h1v1h-1zM379 54.5h1v1h-1zM358.5 24.5h1v1h-1zM358.5 33.5h1v1h-1zM383.5 18h1v1h-1zM341.5 25h1v1h-1zM353 21h1v1h-1zM360 35.5h1v1h-1zM344.5 27.5h1v1h-1z" fill="#4fb5c5"/>
<path d="M365 63.5h2v1h-2zM367 63.5h2v1h-2zM371 63.5h2v1h-2zM373 63.5h2.5v1h-2.5zM364.5 69h4v1h-4zM370.5 69h4v1h-4zM374.5 69h1v1h-1zM365 68h4.5v1h-4.5zM371 68h4.5v1h-4.5zM364.5 73.5h5.5v1h-5.5zM370.5 73.5h5.5v1h-5.5zM365 56h1v1h-1zM367 56h1.5v1h-1.5zM372 56h1v1h-1zM374 56h1.5v1h-1.5zM364.5 71.5h5v1h-5zM370.5 71.5h2.5v1h-2.5zM373 71.5h3v1h-3zM364.5 72.5h5v1h-5zM370.5 72.5h5.5v1h-5.5zM364.5 63h2.5v1h-2.5zM367.5 63h1.5v1h-1.5zM371.5 63h1v1h-1zM372.5 63h2.5v1h-2.5zM364.5 69.5h1.5v1h-1.5zM366.5 69.5h1v1h-1zM367.5 69.5h2v1h-2zM370.5 69.5h1.5v1h-1.5zM372 69.5h3.5v1h-3.5zM364.5 67.5h5v1h-5zM371.5 67.5h2v1h-2zM373.5 67.5h2v1h-2zM365.5 50h1v1h-1zM367.5 50h1v1h-1zM372.5 50h1v1h-1zM374 50h1.5v1h-1.5zM364.5 74h5.5v1h-5.5zM370.5 74h5v1h-5zM364.5 72h5v1h-5zM371 72h5v1h-5zM365 54.5h1v1h-1zM367 54.5h1.5v1h-1.5zM371.5 54.5h2v1h-2zM373.5 54.5h1.5v1h-1.5zM365.5 59h1v1h-1zM366.5 59h2v1h-2zM372 59h3v1h-3zM375 59h1v1h-1zM364.5 61.5h2.5v1h-2.5zM367 61.5h1v1h-1zM368 61.5h1v1h-1zM371 61.5h1v1h-1zM372 61.5h2.5v1h-2.5zM374.5 61.5h1v1h-1zM364.5 66h2.5v1h-2.5zM367 66h2.5v1h-2.5zM371 66h2v1h-2zM373 66h2v1h-2zM365 51h1v1h-1zM366.5 51h1v1h-1zM372 51h1.5v1h-1.5zM373.5 51h2v1h-2zM364.5 55.5h1v1h-1zM365.5 55.5h2v1h-2zM372 55.5h1.5v1h-1.5zM373.5 55.5h1.5v1h-1.5zM364.5 62h4v1h-4zM371 62h1v1h-1zM372.5 62h1v1h-1zM375 62h1v1h-1zM364.5 66.5h1v1h-1zM365.5 66.5h1v1h-1zM366.5 66.5h2.5v1h-2.5zM371 66.5h4.5v1h-4.5zM365 64.5h1.5v1h-1.5zM366.5 64.5h2.5v1h-2.5zM371 64.5h1v1h-1zM372.5 64.5h1.5v1h-1.5zM374 64.5h1.5v1h-1.5zM364.5 65.5h4.5v1h-4.5zM371 65.5h1v1h-1zM372 65.5h2.5v1h-2.5zM374.5 65.5h1v1h-1zM364.5 71h1v1h-1zM365.5 71h3.5v1h-3.5zM370.5 71h5.5v1h-5.5zM365 70h3v1h-3zM368 70h1.5v1h-1.5zM370.5 70h1v1h-1zM371.5 70h4v1h-4zM364.5 74.5h5.5v1h-5.5zM370.5 74.5h1.5v1h-1.5zM372 74.5h3.5v1h-3.5zM365 62.5h1v1h-1zM366.5 62.5h1.5v1h-1.5zM371.5 62.5h1.5v1h-1.5zM373 62.5h3v1h-3zM364.5 60.5h1.5v1h-1.5zM366 60.5h1v1h-1zM367 60.5h1v1h-1zM368 60.5h1v1h-1zM373 60.5h1.5v1h-1.5zM375 60.5h1v1h-1zM364.5 43h1v1h-1zM366 43h1v1h-1zM374 43h1v1h-1zM365 67h4.5v1h-4.5zM371 67h1v1h-1zM372 67h1.5v1h-1.5zM373.5 67h1v1h-1zM374.5 67h1v1h-1zM364.5 65h2v1h-2zM366.5 65h2.5v1h-2.5zM371 65h1.5v1h-1.5zM372.5 65h3v1h-3zM365.5 47.5h2v1h-2zM373 47.5h1v1h-1zM374 47.5h1v1h-1zM365 61h1.5v1h-1.5zM367 61h1v1h-1zM368 61h1v1h-1zM371 61h2v1h-2zM374 61h1.5v1h-1.5zM364.5 73h5.5v1h-5.5zM370.5 73h1.5v1h-1.5zM372 73h3.5v1h-3.5zM364.5 53h3v1h-3zM372 53h1.5v1h-1.5zM374 53h1v1h-1zM366.5 54h1v1h-1zM373 54h2.5v1h-2.5zM364.5 59.5h1v1h-1zM366 59.5h2.5v1h-2.5zM371.5 59.5h1.5v1h-1.5zM373.5 59.5h1v1h-1zM374.5 59.5h1v1h-1zM365 58.5h2v1h-2zM367.5 58.5h1v1h-1zM372 58.5h1.5v1h-1.5zM373.5 58.5h1v1h-1zM365 64h2.5v1h-2.5zM367.5 64h1.5v1h-1.5zM371 64h1.5v1h-1.5zM372.5 64h1.5v1h-1.5zM374 64h1.5v1h-1.5zM364.5 68.5h2v1h-2zM366.5 68.5h3v1h-3zM371 68.5h3.5v1h-3.5zM374.5 68.5h1.5v1h-1.5zM365 70.5h4v1h-4zM370.5 70.5h2v1h-2zM372.5 70.5h1.5v1h-1.5zM374 70.5h1.5v1h-1.5zM366.5 46h1v1h-1zM372.5 46h1v1h-1zM366.5 47h1v1h-1zM373.5 47h1v1h-1zM374.5 47h1v1h-1zM364.5 51.5h1v1h-1zM365.5 51.5h1v1h-1zM366.5 51.5h1.5v1h-1.5zM373 51.5h1.5v1h-1.5zM366 57h1v1h-1zM367.5 57h1v1h-1zM372 57h1.5v1h-1.5zM374 57h1v1h-1zM364.5 55h1v1h-1zM366.5 55h1v1h-1zM367.5 55h1v1h-1zM372.5 55h1.5v1h-1.5zM365 49h1.5v1h-1.5zM372.5 49h1v1h-1zM373.5 49h1v1h-1zM375 49h1v1h-1zM364.5 58h2v1h-2zM366.5 58h1.5v1h-1.5zM371.5 58h1v1h-1zM372.5 58h3v1h-3zM366 52h1v1h-1zM367 52h1v1h-1zM366.5 48h1.5v1h-1.5zM372 48h1v1h-1zM365 53.5h2.5v1h-2.5zM372.5 53.5h1.5v1h-1.5zM366 49.5h1v1h-1zM372 49.5h1v1h-1zM365 56.5h1.5v1h-1.5zM366.5 56.5h2v1h-2zM372.5 56.5h1v1h-1zM374.5 56.5h1.5v1h-1.5zM364.5 60h1v1h-1zM365.5 60h1v1h-1zM367.5 60h1v1h-1zM371.5 60h1v1h-1zM373 60h2v1h-2zM364.5 57.5h2.5v1h-2.5zM371.5 57.5h1v1h-1zM373.5 57.5h1.5v1h-1.5zM365.5 44.5h2v1h-2zM365 50.5h1v1h-1zM366 50.5h1v1h-1zM373.5 50.5h1.5v1h-1.5zM365 41h1v1h-1zM366.5 41h1v1h-1zM373.5 41h1v1h-1zM374.5 41h1v1h-1zM366 46.5h1v1h-1zM372.5 46.5h1v1h-1zM373.5 45h1v1h-1zM374.5 45h1v1h-1zM364.5 48.5h1.5v1h-1.5zM367 48.5h1v1h-1zM372.5 48.5h1.5v1h-1.5zM374.5 48.5h1v1h-1zM372.5 41.5h1v1h-1zM374 44h1v1h-1zM365.5 40.5h1v1h-1zM366.5 40.5h1v1h-1zM373.5 40.5h1v1h-1zM372.5 52.5h1v1h-1zM373.5 52.5h1v1h-1zM365 42h1v1h-1zM366 42h1v1h-1zM373 42h1v1h-1zM366 43.5h1v1h-1zM365.5 42.5h1v1h-1zM373.5 42.5h1v1h-1z" fill="#c8397f"/>
<path d="M364.87,75.12 L364.96,75.12 L365.05,75.12 L365.14,75.12 L365.22,75.12 L365.31,75.12 L365.40,75.12 L365.49,75.12 L365.58,75.12 L365.67,75.12 L365.76,75.12 L365.85,75.12 L365.93,75.12 L366.02,75.12 L366.11,75.12 L366.20,75.12 L366.29,75.12 L366.38,75.12 L366.47,75.12 L366.55,75.12 L366.64,75.12 L366.73,75.12 L366.82,75.12 L366.91,75.12 L367.00,75.12 L367.09,75.12 L367.17,75.12 L367.26,75.12 L367.35,75.12 L367.44,75.12 L367.53,75.12 L367.62,75.12 L367.71,75.12 L367.80,75.12 L367.88,75.12 L367.97,75.12 L368.06,75.12 L368.15,75.12 L368.24,75.12 L368.33,75.12 L368.42,75.12 L368.50,75.12 L368.59,75.12 L368.68,75.12 L368.77,75.12 L368.86,75.12 L368.95,75.12 L369.04,75.12 L369.12,75.12 L369.21,75.12 L369.30,75.12 L369.39,75.12 L369.48,75.22 L369.57,76.52 L369.66,77.82 L369.75,79.11 L369.83,80.41 L369.92,81.71 L370.01,83.00 L370.10,84.30 L370.19,83.00 L370.28,81.71 L370.37,80.41 L370.45,79.11 L370.54,77.82 L370.63,76.52 L370.72,75.22 L370.81,75.12 L370.90,75.12 L370.99,75.12 L371.08,75.12 L371.16,75.12 L371.25,75.12 L371.34,75.12 L371.43,75.12 L371.52,75.12 L371.61,75.12 L371.70,75.12 L371.78,75.12 L371.87,75.12 L371.96,75.12 L372.05,75.12 L372.14,75.12 L372.23,75.12 L372.32,75.12 L372.40,75.12 L372.49,75.12 L372.58,75.12 L372.67,75.12 L372.76,75.12 L372.85,75.12 L372.94,75.12 L373.03,75.12 L373.11,75.12 L373.20,75.12 L373.29,75.12 L373.38,75.12 L373.47,75.12 L373.56,75.12 L373.65,75.12 L373.73,75.12 L373.82,75.12 L373.91,75.12 L374.00,75.12 L374.09,75.12 L374.18,75.12 L374.27,75.12 L374.35,75.12 L374.44,75.12 L374.53,75.12 L374.62,75.12 L374.71,75.12 L374.80,75.12 L374.89,75.12 L374.98,75.12 L375.06,75.12 L375.15,75.12 L375.24,75.12 L375.33,75.12 L375.33,83.17 L375.24,83.21 L375.15,83.24 L375.06,83.27 L374.98,83.31 L374.89,83.34 L374.80,83.38 L374.71,83.41 L374.62,83.44 L374.53,83.48 L374.44,83.51 L374.35,83.54 L374.27,83.57 L374.18,83.60 L374.09,83.63 L374.00,83.67 L373.91,83.70 L373.82,83.73 L373.73,83.76 L373.65,83.79 L373.56,83.82 L373.47,83.85 L373.38,83.88 L373.29,83.91 L373.20,83.94 L373.11,83.96 L373.03,83.99 L372.94,84.02 L372.85,84.05 L372.76,84.08 L372.67,84.10 L372.58,84.13 L372.49,84.16 L372.40,84.19 L372.32,84.21 L372.23,84.24 L372.14,84.26 L372.05,84.29 L371.96,84.32 L371.87,84.34 L371.78,84.37 L371.70,84.39 L371.61,84.42 L371.52,84.44 L371.43,84.46 L371.34,84.49 L371.25,84.51 L371.16,84.54 L371.08,84.56 L370.99,84.58 L370.90,84.60 L370.81,84.63 L370.72,84.65 L370.63,84.67 L370.54,84.69 L370.45,84.72 L370.37,84.74 L370.28,84.76 L370.19,84.78 L370.10,84.80 L370.01,84.78 L369.92,84.76 L369.83,84.74 L369.75,84.72 L369.66,84.69 L369.57,84.67 L369.48,84.65 L369.39,84.63 L369.30,84.60 L369.21,84.58 L369.12,84.56 L369.04,84.54 L368.95,84.51 L368.86,84.49 L368.77,84.46 L368.68,84.44 L368.59,84.42 L368.50,84.39 L368.42,84.37 L368.33,84.34 L368.24,84.32 L368.15,84.29 L368.06,84.26 L367.97,84.24 L367.88,84.21 L367.80,84.19 L367.71,84.16 L367.62,84.13 L367.53,84.10 L367.44,84.08 L367.35,84.05 L367.26,84.02 L367.17,83.99 L367.09,83.96 L367.00,83.94 L366.91,83.91 L366.82,83.88 L366.73,83.85 L366.64,83.82 L366.55,83.79 L366.47,83.76 L366.38,83.73 L366.29,83.70 L366.20,83.67 L366.11,83.63 L366.02,83.60 L365.93,83.57 L365.85,83.54 L365.76,83.51 L365.67,83.48 L365.58,83.44 L365.49,83.41 L365.40,83.38 L365.31,83.34 L365.22,83.31 L365.14,83.27 L365.05,83.24 L364.96,83.21 L364.87,83.17Z" fill="#000" stroke="#000" stroke-width="0.8" stroke-linejoin="round"/>
<rect x="433.8" y="17.2" width="79.49999999999994" height="69.1" fill="none" stroke="#000" stroke-width="1.15"/>
<line x1="431.00" y1="84.30" x2="433.80" y2="84.30" stroke="#000" stroke-width="0.75"/>
<text x="429.60" y="85.65" font-size="3.9" text-anchor="end" fill="#3a3a3a" stroke="#3a3a3a" stroke-width="0.05" textLength="2.2" lengthAdjust="spacingAndGlyphs">0</text>
<line x1="431.00" y1="75.12" x2="433.80" y2="75.12" stroke="#000" stroke-width="0.75"/>
<text x="429.60" y="76.47" font-size="3.9" text-anchor="end" fill="#3a3a3a" stroke="#3a3a3a" stroke-width="0.05" textLength="2.2" lengthAdjust="spacingAndGlyphs">2</text>
<line x1="431.00" y1="65.94" x2="433.80" y2="65.94" stroke="#000" stroke-width="0.75"/>
<text x="429.60" y="67.29" font-size="3.9" text-anchor="end" fill="#3a3a3a" stroke="#3a3a3a" stroke-width="0.05" textLength="2.2" lengthAdjust="spacingAndGlyphs">4</text>
<line x1="431.00" y1="56.76" x2="433.80" y2="56.76" stroke="#000" stroke-width="0.75"/>
<text x="429.60" y="58.11" font-size="3.9" text-anchor="end" fill="#3a3a3a" stroke="#3a3a3a" stroke-width="0.05" textLength="2.2" lengthAdjust="spacingAndGlyphs">6</text>
<line x1="431.00" y1="47.58" x2="433.80" y2="47.58" stroke="#000" stroke-width="0.75"/>
<text x="429.60" y="48.93" font-size="3.9" text-anchor="end" fill="#3a3a3a" stroke="#3a3a3a" stroke-width="0.05" textLength="2.2" lengthAdjust="spacingAndGlyphs">8</text>
<line x1="431.00" y1="38.40" x2="433.80" y2="38.40" stroke="#000" stroke-width="0.75"/>
<text x="429.60" y="39.75" font-size="3.9" text-anchor="end" fill="#3a3a3a" stroke="#3a3a3a" stroke-width="0.05" textLength="4.4" lengthAdjust="spacingAndGlyphs">10</text>
<line x1="431.00" y1="29.22" x2="433.80" y2="29.22" stroke="#000" stroke-width="0.75"/>
<text x="429.60" y="30.57" font-size="3.9" text-anchor="end" fill="#3a3a3a" stroke="#3a3a3a" stroke-width="0.05" textLength="4.4" lengthAdjust="spacingAndGlyphs">12</text>
<line x1="431.00" y1="20.04" x2="433.80" y2="20.04" stroke="#000" stroke-width="0.75"/>
<text x="429.60" y="21.39" font-size="3.9" text-anchor="end" fill="#3a3a3a" stroke="#3a3a3a" stroke-width="0.05" textLength="4.4" lengthAdjust="spacingAndGlyphs">14</text>
<line x1="442.02" y1="86.30" x2="442.02" y2="88.90" stroke="#000" stroke-width="0.75"/>
<text x="442.02" y="96.30" font-size="3.9" text-anchor="middle" fill="#3a3a3a" stroke="#3a3a3a" stroke-width="0.05" textLength="4.0" lengthAdjust="spacingAndGlyphs">−6</text>
<line x1="452.48" y1="86.30" x2="452.48" y2="88.90" stroke="#000" stroke-width="0.75"/>
<text x="452.48" y="96.30" font-size="3.9" text-anchor="middle" fill="#3a3a3a" stroke="#3a3a3a" stroke-width="0.05" textLength="4.0" lengthAdjust="spacingAndGlyphs">−4</text>
<line x1="462.94" y1="86.30" x2="462.94" y2="88.90" stroke="#000" stroke-width="0.75"/>
<text x="462.94" y="96.30" font-size="3.9" text-anchor="middle" fill="#3a3a3a" stroke="#3a3a3a" stroke-width="0.05" textLength="4.0" lengthAdjust="spacingAndGlyphs">−2</text>
<line x1="473.40" y1="86.30" x2="473.40" y2="88.90" stroke="#000" stroke-width="0.75"/>
<text x="473.40" y="96.30" font-size="3.9" text-anchor="middle" fill="#3a3a3a" stroke="#3a3a3a" stroke-width="0.05" textLength="2.2" lengthAdjust="spacingAndGlyphs">0</text>
<line x1="483.86" y1="86.30" x2="483.86" y2="88.90" stroke="#000" stroke-width="0.75"/>
<text x="483.86" y="96.30" font-size="3.9" text-anchor="middle" fill="#3a3a3a" stroke="#3a3a3a" stroke-width="0.05" textLength="2.2" lengthAdjust="spacingAndGlyphs">2</text>
<line x1="494.32" y1="86.30" x2="494.32" y2="88.90" stroke="#000" stroke-width="0.75"/>
<text x="494.32" y="96.30" font-size="3.9" text-anchor="middle" fill="#3a3a3a" stroke="#3a3a3a" stroke-width="0.05" textLength="2.2" lengthAdjust="spacingAndGlyphs">4</text>
<line x1="504.78" y1="86.30" x2="504.78" y2="88.90" stroke="#000" stroke-width="0.75"/>
<text x="504.78" y="96.30" font-size="3.9" text-anchor="middle" fill="#3a3a3a" stroke="#3a3a3a" stroke-width="0.05" textLength="2.2" lengthAdjust="spacingAndGlyphs">6</text>
<text x="473.70" y="105.30" font-size="5.2" text-anchor="middle" fill="#111" stroke="#111" stroke-width="0.22" textLength="10.7" lengthAdjust="spacingAndGlyphs">logFC</text>
<text x="442.80" y="68.00" font-size="4.0" text-anchor="middle" fill="#111" stroke="#111" stroke-width="0.14" textLength="6.6000000000000005" lengthAdjust="spacingAndGlyphs">128</text>
<text x="504.10" y="68.00" font-size="4.0" text-anchor="middle" fill="#111" stroke="#111" stroke-width="0.14" textLength="6.6000000000000005" lengthAdjust="spacingAndGlyphs">128</text>
<path d="M459.5 72h1v1h-1zM461 72h1v1h-1zM465.5 72h3v1h-3zM478.5 72h2.5v1h-2.5zM484.5 72h1v1h-1zM459.5 75h1v1h-1zM463 75h1v1h-1zM464 75h1.5v1h-1.5zM465.5 75h1.5v1h-1.5zM467 75h1v1h-1zM478.5 75h3v1h-3zM482.5 75h1v1h-1zM464 76h1v1h-1zM465.5 76h1v1h-1zM466.5 76h1.5v1h-1.5zM478.5 76h3.5v1h-3.5zM483.5 76h1v1h-1zM462 81.5h1v1h-1zM463.5 81.5h1.5v1h-1.5zM466 81.5h1v1h-1zM467 81.5h1.5v1h-1.5zM478 81.5h3.5v1h-3.5zM483.5 81.5h1v1h-1zM485 81.5h1v1h-1zM461.5 81h1v1h-1zM464 81h3.5v1h-3.5zM467.5 81h1v1h-1zM478.5 81h1.5v1h-1.5zM481 81h1v1h-1zM483 81h1v1h-1zM484.5 81h1v1h-1zM463 74.5h1.5v1h-1.5zM464.5 74.5h1.5v1h-1.5zM466 74.5h1v1h-1zM467 74.5h1.5v1h-1.5zM478 74.5h1v1h-1zM479 74.5h1v1h-1zM480.5 74.5h1v1h-1zM483 74.5h1v1h-1zM484.5 74.5h1v1h-1zM465 73h1v1h-1zM466.5 73h1v1h-1zM478.5 73h1.5v1h-1.5zM480 73h1v1h-1zM481 73h1v1h-1zM482.5 73h1v1h-1zM483.5 73h1v1h-1zM462.5 72.5h1v1h-1zM464.5 72.5h1v1h-1zM465.5 72.5h2v1h-2zM478.5 72.5h2v1h-2zM480.5 72.5h1v1h-1zM482 72.5h1v1h-1zM484 72.5h1v1h-1zM485 72.5h1v1h-1zM459.5 74h1v1h-1zM464 74h1v1h-1zM478 74h2.5v1h-2.5zM481 74h1.5v1h-1.5zM483.5 74h1v1h-1zM463.5 82.5h1v1h-1zM464.5 82.5h1v1h-1zM467.5 82.5h1v1h-1zM479 82.5h1.5v1h-1.5zM480.5 82.5h1v1h-1zM481.5 82.5h1v1h-1zM463.5 77.5h1v1h-1zM465 77.5h1v1h-1zM466 77.5h2.5v1h-2.5zM478.5 77.5h1.5v1h-1.5zM481 77.5h2v1h-2zM462.5 77h1v1h-1zM464 77h1v1h-1zM465 77h1v1h-1zM467.5 77h1v1h-1zM478.5 77h1.5v1h-1.5zM480.5 77h1v1h-1zM482 77h1.5v1h-1.5zM487 77h1v1h-1zM463.5 82h1.5v1h-1.5zM466.5 82h1v1h-1zM478.5 82h1.5v1h-1.5zM480 82h1.5v1h-1.5zM484.5 82h1v1h-1zM452.5 78h1v1h-1zM462.5 78h1v1h-1zM464.5 78h1.5v1h-1.5zM466 78h1v1h-1zM467 78h1v1h-1zM478.5 78h1.5v1h-1.5zM483 78h1v1h-1zM484.5 78h1v1h-1zM460 78.5h1v1h-1zM464.5 78.5h1v1h-1zM480.5 78.5h1v1h-1zM462 80h1v1h-1zM464.5 80h4v1h-4zM478 80h1.5v1h-1.5zM480 80h1v1h-1zM483.5 80h1v1h-1zM457.5 73.5h1v1h-1zM459.5 73.5h1v1h-1zM463 73.5h1v1h-1zM465.5 73.5h1.5v1h-1.5zM467 73.5h1v1h-1zM479.5 73.5h1.5v1h-1.5zM482 73.5h2v1h-2zM485 73.5h1v1h-1zM486 73.5h1v1h-1zM459.5 80.5h1v1h-1zM464.5 80.5h1.5v1h-1.5zM467 80.5h1v1h-1zM479 80.5h1.5v1h-1.5zM480.5 80.5h2v1h-2zM482.5 80.5h1v1h-1zM452.5 71.5h1v1h-1zM466 71.5h1.5v1h-1.5zM467.5 71.5h1v1h-1zM481 71.5h1v1h-1zM491.5 71.5h1v1h-1zM460.5 79.5h1v1h-1zM465 79.5h1v1h-1zM466.5 79.5h2v1h-2zM479 79.5h1v1h-1zM489 79.5h1v1h-1zM454.5 79h1v1h-1zM462 79h2v1h-2zM465 79h1.5v1h-1.5zM466.5 79h2v1h-2zM478.5 79h1.5v1h-1.5zM483.5 79h1v1h-1zM461 75.5h1v1h-1zM463.5 75.5h1v1h-1zM466 75.5h1v1h-1zM467.5 75.5h1v1h-1zM478 75.5h1.5v1h-1.5zM480 75.5h1.5v1h-1.5zM481.5 75.5h1v1h-1zM482.5 75.5h1v1h-1zM486 75.5h1v1h-1zM487.5 75.5h1v1h-1zM466.5 76.5h1v1h-1zM479 76.5h1v1h-1zM480 76.5h1v1h-1zM481 76.5h1v1h-1zM486 76.5h1v1h-1zM467 83h1v1h-1zM479 83h1v1h-1z" fill="#f0a020"/>
<path d="M480.5 46.5h1v1h-1zM482.5 46.5h1v1h-1zM461 66.5h1v1h-1zM463.5 66.5h4.5v1h-4.5zM479 66.5h2.5v1h-2.5zM481.5 66.5h2v1h-2zM487 66.5h1v1h-1zM463 55.5h1v1h-1zM481 55.5h1v1h-1zM482.5 55.5h1.5v1h-1.5zM484.5 55.5h1v1h-1zM487 55.5h1v1h-1zM463 65h1v1h-1zM466 65h1v1h-1zM467 65h1.5v1h-1.5zM479 65h2v1h-2zM481 65h1v1h-1zM482.5 65h1v1h-1zM483.5 65h1.5v1h-1.5zM485.5 65h1v1h-1zM465.5 59h1v1h-1zM480 59h1.5v1h-1.5zM482 59h1v1h-1zM487 59h1v1h-1zM461.5 57h1v1h-1zM464 57h1v1h-1zM467 57h1.5v1h-1.5zM479 57h1v1h-1zM480 57h1v1h-1zM483.5 57h1v1h-1zM461.5 64.5h1v1h-1zM463 64.5h1v1h-1zM464 64.5h1.5v1h-1.5zM465.5 64.5h2v1h-2zM467.5 64.5h1v1h-1zM478 64.5h1.5v1h-1.5zM479.5 64.5h1v1h-1zM481 64.5h1v1h-1zM485.5 64.5h1v1h-1zM463.5 63.5h1v1h-1zM464.5 63.5h1v1h-1zM467 63.5h1.5v1h-1.5zM478.5 63.5h1.5v1h-1.5zM480 63.5h1v1h-1zM486 63.5h1v1h-1zM464 69h1v1h-1zM465.5 69h3v1h-3zM478 69h1v1h-1zM479 69h3v1h-3zM485.5 69h1v1h-1zM466.5 51.5h1v1h-1zM478.5 51.5h1.5v1h-1.5zM481 51.5h1v1h-1zM482.5 51.5h1v1h-1zM463.5 70h1v1h-1zM466 70h1v1h-1zM467 70h1.5v1h-1.5zM478.5 70h3v1h-3zM484 70h1v1h-1zM460.5 67h1v1h-1zM463 67h1v1h-1zM464 67h3v1h-3zM467 67h1v1h-1zM478.5 67h1.5v1h-1.5zM480 67h2.5v1h-2.5zM465 52h1v1h-1zM478.5 52h1v1h-1zM486.5 52h1v1h-1zM488.5 52h1v1h-1zM492 52h1v1h-1zM464.5 45.5h1v1h-1zM480.5 45.5h1v1h-1zM465.5 69.5h2.5v1h-2.5zM478 69.5h3v1h-3zM481.5 69.5h1v1h-1zM460 60h1v1h-1zM461.5 60h1v1h-1zM463 60h1v1h-1zM465.5 60h1.5v1h-1.5zM467.5 60h1v1h-1zM479 60h1v1h-1zM480 60h1v1h-1zM482 60h1v1h-1zM484.5 60h1v1h-1zM460 64h1v1h-1zM463.5 64h1v1h-1zM464.5 64h1v1h-1zM466 64h2v1h-2zM479.5 64h1v1h-1zM480.5 64h1.5v1h-1.5zM482.5 64h1v1h-1zM483.5 64h1.5v1h-1.5zM462.5 51h1.5v1h-1.5zM467.5 51h1v1h-1zM480 51h1v1h-1zM485.5 51h1v1h-1zM463.5 56.5h1v1h-1zM465.5 56.5h1v1h-1zM466.5 56.5h1v1h-1zM479 56.5h1.5v1h-1.5zM462.5 66h1v1h-1zM465 66h1.5v1h-1.5zM466.5 66h1.5v1h-1.5zM478.5 66h2v1h-2zM481.5 66h1v1h-1zM482.5 66h1.5v1h-1.5zM466.5 70.5h2v1h-2zM478 70.5h2v1h-2zM458.5 58h1v1h-1zM460 58h1v1h-1zM464.5 58h1v1h-1zM465.5 58h1.5v1h-1.5zM467 58h1v1h-1zM481 58h1.5v1h-1.5zM478.5 49h1v1h-1zM482.5 49h1v1h-1zM484 49h1v1h-1zM458.5 65.5h1v1h-1zM463 65.5h1.5v1h-1.5zM478 65.5h3.5v1h-3.5zM482 65.5h1.5v1h-1.5zM463.5 49.5h1v1h-1zM465 49.5h1v1h-1zM466.5 49.5h1v1h-1zM479 49.5h1v1h-1zM460.5 62.5h1v1h-1zM463.5 62.5h1v1h-1zM465 62.5h1v1h-1zM466 62.5h2.5v1h-2.5zM478.5 62.5h1v1h-1zM479.5 62.5h1v1h-1zM481.5 62.5h1v1h-1zM483 62.5h1v1h-1zM460 58.5h1v1h-1zM462 58.5h1v1h-1zM463 58.5h1v1h-1zM465 58.5h2.5v1h-2.5zM483.5 58.5h1v1h-1zM489 58.5h1v1h-1zM462.5 67.5h1v1h-1zM464 67.5h3v1h-3zM467 67.5h1.5v1h-1.5zM478.5 67.5h2.5v1h-2.5zM481 67.5h1v1h-1zM482 67.5h1v1h-1zM464 57.5h1v1h-1zM466 57.5h1.5v1h-1.5zM478.5 57.5h1v1h-1zM480 57.5h1v1h-1zM487.5 57.5h1v1h-1zM466.5 45h1v1h-1zM480 45h1v1h-1zM463 68h1v1h-1zM464 68h1.5v1h-1.5zM465.5 68h2v1h-2zM479 68h1.5v1h-1.5zM482 68h1v1h-1zM484.5 68h1v1h-1zM457.5 50h1v1h-1zM463 50h1v1h-1zM482 50h1v1h-1zM466 59.5h1v1h-1zM478 59.5h1v1h-1zM479 59.5h1v1h-1zM480 59.5h1v1h-1zM481 59.5h1v1h-1zM482 59.5h1v1h-1zM483 59.5h1v1h-1zM464 56h1v1h-1zM465 56h1.5v1h-1.5zM467 56h1v1h-1zM481 56h1.5v1h-1.5zM465 60.5h3.5v1h-3.5zM479.5 60.5h1.5v1h-1.5zM481.5 60.5h1v1h-1zM483 60.5h1v1h-1zM461.5 61h1.5v1h-1.5zM466.5 61h1v1h-1zM478.5 61h1.5v1h-1.5zM480.5 61h1.5v1h-1.5zM482 61h1.5v1h-1.5zM465 61.5h1.5v1h-1.5zM466.5 61.5h1v1h-1zM467.5 61.5h1v1h-1zM478 61.5h1.5v1h-1.5zM481 61.5h1v1h-1zM482.5 61.5h1v1h-1zM484.5 61.5h1v1h-1zM456 53h1v1h-1zM464.5 53h1.5v1h-1.5zM467 53h1v1h-1zM480 53h1v1h-1zM482.5 53h1.5v1h-1.5zM484 53h1v1h-1zM490 53h1v1h-1zM491 53h1v1h-1zM480.5 38h1v1h-1zM458 42.5h1v1h-1zM459.5 42.5h1v1h-1zM467.5 42.5h1v1h-1zM480.5 42.5h1v1h-1zM462 63h1v1h-1zM463 63h1v1h-1zM464 63h1v1h-1zM466 63h2.5v1h-2.5zM479 63h1v1h-1zM480.5 63h1v1h-1zM481.5 63h1v1h-1zM484.5 63h1v1h-1zM486 63h1v1h-1zM464.5 68.5h1v1h-1zM465.5 68.5h2.5v1h-2.5zM478.5 68.5h2v1h-2zM480.5 68.5h1.5v1h-1.5zM483.5 68.5h1v1h-1zM484.5 68.5h1v1h-1zM462 55h1v1h-1zM464.5 55h1v1h-1zM467.5 55h1v1h-1zM478.5 55h1v1h-1zM480.5 55h1v1h-1zM482.5 55h1v1h-1zM484.5 55h1v1h-1zM463 47h1v1h-1zM466.5 47h1v1h-1zM480.5 47h1v1h-1zM485.5 47h1v1h-1zM493.5 37h1v1h-1zM462.5 54h1.5v1h-1.5zM466 54h1v1h-1zM467 54h1v1h-1zM483 54h1v1h-1zM490 54h1v1h-1zM465 44h1v1h-1zM461.5 62h1v1h-1zM463.5 62h1.5v1h-1.5zM479.5 62h1.5v1h-1.5zM482.5 62h1v1h-1zM484 62h1v1h-1zM466 47.5h1v1h-1zM482 47.5h1v1h-1zM464 53.5h1v1h-1zM466 53.5h2v1h-2zM479 53.5h1.5v1h-1.5zM481.5 53.5h1v1h-1zM464.5 41h1v1h-1zM494 41h1v1h-1zM462 50.5h1.5v1h-1.5zM465 50.5h1v1h-1zM466 50.5h1v1h-1zM465.5 43.5h1v1h-1zM479.5 43.5h1v1h-1zM480.5 43.5h1v1h-1zM481.5 43.5h1v1h-1zM466.5 71h2v1h-2zM478.5 71h1v1h-1zM464 52.5h1v1h-1zM481 52.5h1v1h-1zM482.5 52.5h1v1h-1zM479.5 34h1v1h-1zM459.5 54.5h1v1h-1zM465 54.5h1v1h-1zM466.5 54.5h1v1h-1zM478.5 54.5h1v1h-1zM481 54.5h1v1h-1zM484.5 54.5h1v1h-1zM481 33.5h1v1h-1zM463.5 38.5h1v1h-1zM467.5 38.5h1v1h-1zM465 48.5h1v1h-1zM463.5 31.5h1v1h-1zM467.5 31.5h1v1h-1zM454.5 21h1v1h-1zM463.5 29h1v1h-1zM464 43h1v1h-1zM465 43h1v1h-1zM478.5 43h1v1h-1zM487.5 28h1v1h-1zM489 36.5h1v1h-1zM480.5 48h1v1h-1z" fill="#4fb5c5"/>
<path d="M468 64h1.5v1h-1.5zM469.5 64h2v1h-2zM475.5 64h3v1h-3zM468 70.5h1v1h-1zM469 70.5h2.5v1h-2.5zM471.5 70.5h1v1h-1zM474.5 70.5h4.5v1h-4.5zM468 60h1v1h-1zM469 60h1v1h-1zM470 60h1v1h-1zM476 60h1.5v1h-1.5zM478 60h1v1h-1zM468 64.5h2v1h-2zM470 64.5h1.5v1h-1.5zM475.5 64.5h2.5v1h-2.5zM478 64.5h1v1h-1zM468 62.5h2v1h-2zM470 62.5h1.5v1h-1.5zM475.5 62.5h1v1h-1zM477 62.5h2v1h-2zM467.5 69h4v1h-4zM471.5 69h1v1h-1zM474.5 69h4.5v1h-4.5zM468 67h2.5v1h-2.5zM471 67h1v1h-1zM475 67h2v1h-2zM477 67h2v1h-2zM469 49.5h1v1h-1zM478 49.5h1v1h-1zM469 63h2.5v1h-2.5zM477.5 63h1.5v1h-1.5zM467.5 67.5h4.5v1h-4.5zM474.5 67.5h2.5v1h-2.5zM477.5 67.5h1v1h-1zM468 65.5h1v1h-1zM469.5 65.5h2.5v1h-2.5zM475 65.5h3v1h-3zM468 70h4v1h-4zM475 70h4v1h-4zM468.5 61.5h1v1h-1zM469.5 61.5h1v1h-1zM476 61.5h1.5v1h-1.5zM477.5 61.5h1.5v1h-1.5zM467.5 71h5v1h-5zM474.5 71h4.5v1h-4.5zM468 63.5h1.5v1h-1.5zM469.5 63.5h1v1h-1zM475.5 63.5h2v1h-2zM477.5 63.5h1.5v1h-1.5zM468 68h2v1h-2zM470 68h2v1h-2zM474.5 68h4.5v1h-4.5zM468 68.5h2.5v1h-2.5zM470.5 68.5h1.5v1h-1.5zM475 68.5h3.5v1h-3.5zM468 62h1.5v1h-1.5zM469.5 62h1.5v1h-1.5zM477 62h1v1h-1zM478 62h1v1h-1zM467.5 66.5h1v1h-1zM468.5 66.5h3.5v1h-3.5zM475 66.5h4v1h-4zM467.5 65h1v1h-1zM468.5 65h2v1h-2zM470.5 65h1v1h-1zM475 65h2.5v1h-2.5zM478 65h1v1h-1zM467.5 69.5h4.5v1h-4.5zM475 69.5h1.5v1h-1.5zM476.5 69.5h2.5v1h-2.5zM477 46h1v1h-1zM467.5 66h3v1h-3zM470.5 66h1v1h-1zM474.5 66h1.5v1h-1.5zM476 66h2v1h-2zM468 59.5h1v1h-1zM469 59.5h1v1h-1zM476.5 59.5h2.5v1h-2.5zM468 60.5h1v1h-1zM469.5 60.5h2v1h-2zM475.5 60.5h1.5v1h-1.5zM468.5 52h1v1h-1zM469.5 52h1v1h-1zM476.5 52h1v1h-1zM467.5 58.5h2v1h-2zM470 58.5h1v1h-1zM476 58.5h1v1h-1zM477 58.5h1v1h-1zM478 58.5h1v1h-1zM468 48h1v1h-1zM477 48h1v1h-1zM478 48h1v1h-1zM468 57h2v1h-2zM470 57h1v1h-1zM476 57h1v1h-1zM477 57h2v1h-2zM468 55h1.5v1h-1.5zM467.5 61h2v1h-2zM469.5 61h1.5v1h-1.5zM475.5 61h1v1h-1zM476.5 61h1.5v1h-1.5zM478 61h1v1h-1zM469.5 71.5h1v1h-1zM470.5 71.5h1.5v1h-1.5zM475 71.5h2v1h-2zM477 71.5h2v1h-2zM476 53.5h1v1h-1zM469.5 58h1v1h-1zM475.5 58h1.5v1h-1.5zM467.5 54h1v1h-1zM468.5 54h1v1h-1zM470 54h1v1h-1zM476.5 54h1v1h-1zM477.5 54h1v1h-1zM468 51.5h1v1h-1zM476.5 51.5h2v1h-2zM469 59h1.5v1h-1.5zM470.5 59h1v1h-1zM476 59h1v1h-1zM477 59h1v1h-1zM469.5 57.5h1v1h-1zM477 57.5h1v1h-1zM477 50h1v1h-1zM469 50.5h1v1h-1zM477.5 50.5h1v1h-1zM468.5 56.5h1.5v1h-1.5zM470 56.5h1v1h-1zM476 56.5h1v1h-1zM477 56.5h1v1h-1zM476.5 55.5h1v1h-1zM478 55.5h1v1h-1zM469.5 53h1v1h-1zM476.5 53h1v1h-1zM477.5 53h1.5v1h-1.5zM468.5 51h1v1h-1zM468 52.5h1v1h-1zM477.5 52.5h1v1h-1zM477 49h1v1h-1z" fill="#c8397f"/>
<path d="M468.17,71.91 L468.26,71.91 L468.35,71.91 L468.44,71.91 L468.52,71.91 L468.61,71.91 L468.70,71.91 L468.79,71.91 L468.88,71.91 L468.97,71.91 L469.06,71.91 L469.15,71.91 L469.23,71.91 L469.32,71.91 L469.41,71.91 L469.50,71.91 L469.59,71.91 L469.68,71.91 L469.77,71.91 L469.85,71.91 L469.94,71.91 L470.03,71.91 L470.12,71.91 L470.21,71.91 L470.30,71.91 L470.39,71.91 L470.47,71.91 L470.56,71.91 L470.65,71.91 L470.74,71.91 L470.83,71.91 L470.92,71.91 L471.01,71.91 L471.10,71.91 L471.18,71.91 L471.27,71.91 L471.36,71.91 L471.45,71.91 L471.54,71.91 L471.63,71.91 L471.72,71.91 L471.80,71.91 L471.89,71.91 L471.98,71.91 L472.07,71.91 L472.16,72.20 L472.25,73.06 L472.34,73.93 L472.42,74.79 L472.51,75.66 L472.60,76.52 L472.69,77.38 L472.78,78.25 L472.87,79.11 L472.96,79.98 L473.05,80.84 L473.13,81.71 L473.22,82.57 L473.31,83.44 L473.40,84.30 L473.49,83.44 L473.58,82.57 L473.67,81.71 L473.75,80.84 L473.84,79.98 L473.93,79.11 L474.02,78.25 L474.11,77.38 L474.20,76.52 L474.29,75.66 L474.38,74.79 L474.46,73.93 L474.55,73.06 L474.64,72.20 L474.73,71.91 L474.82,71.91 L474.91,71.91 L475.00,71.91 L475.08,71.91 L475.17,71.91 L475.26,71.91 L475.35,71.91 L475.44,71.91 L475.53,71.91 L475.62,71.91 L475.70,71.91 L475.79,71.91 L475.88,71.91 L475.97,71.91 L476.06,71.91 L476.15,71.91 L476.24,71.91 L476.33,71.91 L476.41,71.91 L476.50,71.91 L476.59,71.91 L476.68,71.91 L476.77,71.91 L476.86,71.91 L476.95,71.91 L477.03,71.91 L477.12,71.91 L477.21,71.91 L477.30,71.91 L477.39,71.91 L477.48,71.91 L477.57,71.91 L477.65,71.91 L477.74,71.91 L477.83,71.91 L477.92,71.91 L478.01,71.91 L478.10,71.91 L478.19,71.91 L478.28,71.91 L478.36,71.91 L478.45,71.91 L478.54,71.91 L478.63,71.91 L478.63,83.44 L478.54,83.47 L478.45,83.49 L478.36,83.52 L478.28,83.55 L478.19,83.58 L478.10,83.61 L478.01,83.63 L477.92,83.66 L477.83,83.69 L477.74,83.71 L477.65,83.74 L477.57,83.77 L477.48,83.79 L477.39,83.82 L477.30,83.84 L477.21,83.87 L477.12,83.90 L477.03,83.92 L476.95,83.95 L476.86,83.97 L476.77,83.99 L476.68,84.02 L476.59,84.04 L476.50,84.07 L476.41,84.09 L476.33,84.12 L476.24,84.14 L476.15,84.16 L476.06,84.19 L475.97,84.21 L475.88,84.23 L475.79,84.25 L475.70,84.28 L475.62,84.30 L475.53,84.32 L475.44,84.34 L475.35,84.36 L475.26,84.39 L475.17,84.41 L475.08,84.43 L475.00,84.45 L474.91,84.47 L474.82,84.49 L474.73,84.51 L474.64,84.53 L474.55,84.55 L474.46,84.57 L474.38,84.59 L474.29,84.61 L474.20,84.63 L474.11,84.65 L474.02,84.67 L473.93,84.69 L473.84,84.71 L473.75,84.73 L473.67,84.75 L473.58,84.76 L473.49,84.78 L473.40,84.80 L473.31,84.78 L473.22,84.76 L473.13,84.75 L473.05,84.73 L472.96,84.71 L472.87,84.69 L472.78,84.67 L472.69,84.65 L472.60,84.63 L472.51,84.61 L472.42,84.59 L472.34,84.57 L472.25,84.55 L472.16,84.53 L472.07,84.51 L471.98,84.49 L471.89,84.47 L471.80,84.45 L471.72,84.43 L471.63,84.41 L471.54,84.39 L471.45,84.36 L471.36,84.34 L471.27,84.32 L471.18,84.30 L471.10,84.28 L471.01,84.25 L470.92,84.23 L470.83,84.21 L470.74,84.19 L470.65,84.16 L470.56,84.14 L470.47,84.12 L470.39,84.09 L470.30,84.07 L470.21,84.04 L470.12,84.02 L470.03,83.99 L469.94,83.97 L469.85,83.95 L469.77,83.92 L469.68,83.90 L469.59,83.87 L469.50,83.84 L469.41,83.82 L469.32,83.79 L469.23,83.77 L469.15,83.74 L469.06,83.71 L468.97,83.69 L468.88,83.66 L468.79,83.63 L468.70,83.61 L468.61,83.58 L468.52,83.55 L468.44,83.52 L468.35,83.49 L468.26,83.47 L468.17,83.44Z" fill="#000" stroke="#000" stroke-width="0.8" stroke-linejoin="round"/>
<rect x="331.0" y="109.2" width="79.30000000000001" height="68.8" fill="none" stroke="#000" stroke-width="1.15"/>
<line x1="328.20" y1="176.10" x2="331.00" y2="176.10" stroke="#000" stroke-width="0.75"/>
<text x="326.80" y="177.45" font-size="3.9" text-anchor="end" fill="#3a3a3a" stroke="#3a3a3a" stroke-width="0.05" textLength="2.2" lengthAdjust="spacingAndGlyphs">0</text>
<line x1="328.20" y1="167.02" x2="331.00" y2="167.02" stroke="#000" stroke-width="0.75"/>
<text x="326.80" y="168.37" font-size="3.9" text-anchor="end" fill="#3a3a3a" stroke="#3a3a3a" stroke-width="0.05" textLength="2.2" lengthAdjust="spacingAndGlyphs">2</text>
<line x1="328.20" y1="157.94" x2="331.00" y2="157.94" stroke="#000" stroke-width="0.75"/>
<text x="326.80" y="159.29" font-size="3.9" text-anchor="end" fill="#3a3a3a" stroke="#3a3a3a" stroke-width="0.05" textLength="2.2" lengthAdjust="spacingAndGlyphs">4</text>
<line x1="328.20" y1="148.86" x2="331.00" y2="148.86" stroke="#000" stroke-width="0.75"/>
<text x="326.80" y="150.21" font-size="3.9" text-anchor="end" fill="#3a3a3a" stroke="#3a3a3a" stroke-width="0.05" textLength="2.2" lengthAdjust="spacingAndGlyphs">6</text>
<line x1="328.20" y1="139.78" x2="331.00" y2="139.78" stroke="#000" stroke-width="0.75"/>
<text x="326.80" y="141.13" font-size="3.9" text-anchor="end" fill="#3a3a3a" stroke="#3a3a3a" stroke-width="0.05" textLength="2.2" lengthAdjust="spacingAndGlyphs">8</text>
<line x1="328.20" y1="130.70" x2="331.00" y2="130.70" stroke="#000" stroke-width="0.75"/>
<text x="326.80" y="132.05" font-size="3.9" text-anchor="end" fill="#3a3a3a" stroke="#3a3a3a" stroke-width="0.05" textLength="4.4" lengthAdjust="spacingAndGlyphs">10</text>
<line x1="328.20" y1="121.62" x2="331.00" y2="121.62" stroke="#000" stroke-width="0.75"/>
<text x="326.80" y="122.97" font-size="3.9" text-anchor="end" fill="#3a3a3a" stroke="#3a3a3a" stroke-width="0.05" textLength="4.4" lengthAdjust="spacingAndGlyphs">12</text>
<line x1="328.20" y1="112.54" x2="331.00" y2="112.54" stroke="#000" stroke-width="0.75"/>
<text x="326.80" y="113.89" font-size="3.9" text-anchor="end" fill="#3a3a3a" stroke="#3a3a3a" stroke-width="0.05" textLength="4.4" lengthAdjust="spacingAndGlyphs">14</text>
<line x1="338.72" y1="178.00" x2="338.72" y2="180.60" stroke="#000" stroke-width="0.75"/>
<text x="338.72" y="188.00" font-size="3.9" text-anchor="middle" fill="#3a3a3a" stroke="#3a3a3a" stroke-width="0.05" textLength="4.0" lengthAdjust="spacingAndGlyphs">−6</text>
<line x1="349.18" y1="178.00" x2="349.18" y2="180.60" stroke="#000" stroke-width="0.75"/>
<text x="349.18" y="188.00" font-size="3.9" text-anchor="middle" fill="#3a3a3a" stroke="#3a3a3a" stroke-width="0.05" textLength="4.0" lengthAdjust="spacingAndGlyphs">−4</text>
<line x1="359.64" y1="178.00" x2="359.64" y2="180.60" stroke="#000" stroke-width="0.75"/>
<text x="359.64" y="188.00" font-size="3.9" text-anchor="middle" fill="#3a3a3a" stroke="#3a3a3a" stroke-width="0.05" textLength="4.0" lengthAdjust="spacingAndGlyphs">−2</text>
<line x1="370.10" y1="178.00" x2="370.10" y2="180.60" stroke="#000" stroke-width="0.75"/>
<text x="370.10" y="188.00" font-size="3.9" text-anchor="middle" fill="#3a3a3a" stroke="#3a3a3a" stroke-width="0.05" textLength="2.2" lengthAdjust="spacingAndGlyphs">0</text>
<line x1="380.56" y1="178.00" x2="380.56" y2="180.60" stroke="#000" stroke-width="0.75"/>
<text x="380.56" y="188.00" font-size="3.9" text-anchor="middle" fill="#3a3a3a" stroke="#3a3a3a" stroke-width="0.05" textLength="2.2" lengthAdjust="spacingAndGlyphs">2</text>
<line x1="391.02" y1="178.00" x2="391.02" y2="180.60" stroke="#000" stroke-width="0.75"/>
<text x="391.02" y="188.00" font-size="3.9" text-anchor="middle" fill="#3a3a3a" stroke="#3a3a3a" stroke-width="0.05" textLength="2.2" lengthAdjust="spacingAndGlyphs">4</text>
<line x1="401.48" y1="178.00" x2="401.48" y2="180.60" stroke="#000" stroke-width="0.75"/>
<text x="401.48" y="188.00" font-size="3.9" text-anchor="middle" fill="#3a3a3a" stroke="#3a3a3a" stroke-width="0.05" textLength="2.2" lengthAdjust="spacingAndGlyphs">6</text>
<text x="370.40" y="197.00" font-size="5.2" text-anchor="middle" fill="#111" stroke="#111" stroke-width="0.22" textLength="10.7" lengthAdjust="spacingAndGlyphs">logFC</text>
<text x="340.00" y="159.80" font-size="4.0" text-anchor="middle" fill="#111" stroke="#111" stroke-width="0.14" textLength="4.4" lengthAdjust="spacingAndGlyphs">22</text>
<text x="401.10" y="159.80" font-size="4.0" text-anchor="middle" fill="#111" stroke="#111" stroke-width="0.14" textLength="6.6000000000000005" lengthAdjust="spacingAndGlyphs">104</text>
<path d="M359.5 172h1v1h-1zM362.5 172h1v1h-1zM363.5 172h1.5v1h-1.5zM375 172h1.5v1h-1.5zM376.5 172h1v1h-1zM377.5 172h1v1h-1zM362 168.5h1.5v1h-1.5zM375 168.5h1.5v1h-1.5zM378 168.5h1.5v1h-1.5zM361.5 167h1v1h-1zM362.5 167h2.5v1h-2.5zM375.5 167h1.5v1h-1.5zM378 167h1v1h-1zM379 167h1v1h-1zM358.5 165.5h1v1h-1zM361.5 165.5h1v1h-1zM363 165.5h2v1h-2zM375 165.5h2v1h-2zM378 165.5h1v1h-1zM359 166.5h1v1h-1zM360 166.5h1v1h-1zM362 166.5h1v1h-1zM363.5 166.5h2v1h-2zM375 166.5h2v1h-2zM377 166.5h1.5v1h-1.5zM359 165h1v1h-1zM360.5 165h1v1h-1zM362.5 165h1.5v1h-1.5zM364 165h1v1h-1zM375 165h2.5v1h-2.5zM377.5 165h1v1h-1zM379 165h1v1h-1zM381.5 165h1v1h-1zM360 173.5h1v1h-1zM361 173.5h1v1h-1zM362.5 173.5h2.5v1h-2.5zM375 173.5h1.5v1h-1.5zM377 173.5h1v1h-1zM378.5 173.5h1v1h-1zM380 173.5h1v1h-1zM361 173h1v1h-1zM363.5 173h1.5v1h-1.5zM375 173h4v1h-4zM379 173h1v1h-1zM380 173h1v1h-1zM359.5 171h1v1h-1zM362 171h3v1h-3zM375 171h3v1h-3zM385.5 171h1v1h-1zM356 169.5h1.5v1h-1.5zM363 169.5h2v1h-2zM375 169.5h2.5v1h-2.5zM377.5 169.5h1v1h-1zM379 169.5h1v1h-1zM360.5 174h1v1h-1zM361.5 174h1v1h-1zM362.5 174h1v1h-1zM363.5 174h1.5v1h-1.5zM375 174h2v1h-2zM377.5 174h1v1h-1zM378.5 174h1.5v1h-1.5zM380 174h1v1h-1zM383.5 174h1v1h-1zM359 166h1v1h-1zM360 166h1.5v1h-1.5zM363 166h1.5v1h-1.5zM375 166h1v1h-1zM376 166h1v1h-1zM377.5 166h1v1h-1zM360 167.5h2v1h-2zM362 167.5h1v1h-1zM363 167.5h2.5v1h-2.5zM375 167.5h2.5v1h-2.5zM377.5 167.5h2.5v1h-2.5zM356.5 164h1.5v1h-1.5zM361.5 164h3.5v1h-3.5zM375 164h2v1h-2zM377.5 164h1v1h-1zM379.5 164h1v1h-1zM356.5 170h1v1h-1zM358 170h1v1h-1zM360.5 170h1v1h-1zM361.5 170h1.5v1h-1.5zM364 170h1.5v1h-1.5zM375 170h1v1h-1zM376 170h1.5v1h-1.5zM377.5 170h1v1h-1zM379.5 170h1v1h-1zM380.5 170h1v1h-1zM362 163.5h1.5v1h-1.5zM375 163.5h1.5v1h-1.5zM377 163.5h1v1h-1zM380 163.5h1v1h-1zM357 171.5h1v1h-1zM358 171.5h1v1h-1zM361 171.5h1v1h-1zM362 171.5h1v1h-1zM364.5 171.5h1v1h-1zM375 171.5h3.5v1h-3.5zM358.5 168h1v1h-1zM361 168h1.5v1h-1.5zM362.5 168h1v1h-1zM363.5 168h1v1h-1zM375 168h1.5v1h-1.5zM376.5 168h1v1h-1zM377.5 168h1v1h-1zM380 168h1v1h-1zM358.5 172.5h1v1h-1zM360.5 172.5h1.5v1h-1.5zM362.5 172.5h1.5v1h-1.5zM364 172.5h1v1h-1zM375 172.5h1v1h-1zM376 172.5h1v1h-1zM377.5 172.5h1v1h-1zM381 172.5h1v1h-1zM358 170.5h1.5v1h-1.5zM361.5 170.5h1.5v1h-1.5zM363.5 170.5h1v1h-1zM375.5 170.5h1.5v1h-1.5zM377 170.5h1v1h-1zM356 169h1v1h-1zM359.5 169h1v1h-1zM360.5 169h1v1h-1zM362 169h1.5v1h-1.5zM363.5 169h1.5v1h-1.5zM375 169h2v1h-2zM377.5 169h1.5v1h-1.5zM381 169h1v1h-1zM361 164.5h4.5v1h-4.5zM376 164.5h1v1h-1zM377.5 164.5h1v1h-1zM361.5 175h1v1h-1zM363.5 175h1v1h-1zM375 175h2v1h-2zM360.5 174.5h1v1h-1zM361.5 174.5h3v1h-3zM375.5 174.5h1v1h-1zM376.5 174.5h1v1h-1zM377.5 174.5h1v1h-1zM379.5 174.5h1v1h-1z" fill="#f0a020"/>
<path d="M375 162h1v1h-1zM376 162h2v1h-2zM375 160.5h2v1h-2zM377 160.5h2.5v1h-2.5zM362 149h1v1h-1zM375.5 149h1.5v1h-1.5zM386 149h1v1h-1zM375.5 161.5h2v1h-2zM377.5 161.5h1.5v1h-1.5zM380 161.5h1v1h-1zM383.5 161.5h1v1h-1zM376 151.5h1v1h-1zM377 151.5h1v1h-1zM379.5 151.5h1v1h-1zM354.5 152.5h1v1h-1zM363 152.5h1v1h-1zM380.5 152.5h1.5v1h-1.5zM382.5 152.5h1v1h-1zM380.5 145h1v1h-1zM380 150h1.5v1h-1.5zM382.5 150h1v1h-1zM364 155.5h1v1h-1zM379.5 155.5h1v1h-1zM388 155.5h1v1h-1zM375 154h2v1h-2zM377 154h1v1h-1zM379 154h1v1h-1zM380 154h1.5v1h-1.5zM375 157h1v1h-1zM376 157h1v1h-1zM382 157h1v1h-1zM375 163h1v1h-1zM376 163h1v1h-1zM381 145.5h1v1h-1zM386 145.5h1v1h-1zM378 137.5h1v1h-1zM375 158h2v1h-2zM377.5 158h1v1h-1zM375.5 158.5h2v1h-2zM377.5 158.5h1v1h-1zM381.5 158.5h1v1h-1zM376.5 159h1v1h-1zM378 159h1.5v1h-1.5zM360.5 153.5h1v1h-1zM376 153.5h1v1h-1zM377.5 153.5h1v1h-1zM376.5 154.5h1v1h-1zM377.5 154.5h1v1h-1zM378 142.5h1v1h-1zM380.5 142.5h1v1h-1zM377 153h1v1h-1zM378 153h1v1h-1zM379.5 153h1v1h-1zM360.5 156h1v1h-1zM375 156h1v1h-1zM376.5 156h1v1h-1zM378 156h1v1h-1zM380 156h1v1h-1zM382.5 156h1v1h-1zM363 162.5h1.5v1h-1.5zM375 162.5h2v1h-2zM378 162.5h1v1h-1zM364 160h1v1h-1zM375 160h1.5v1h-1.5zM377 160h1.5v1h-1.5zM360 161h1v1h-1zM375 161h2.5v1h-2.5zM379 161h1v1h-1zM376 151h1v1h-1zM364 156.5h1v1h-1zM375.5 156.5h1v1h-1zM377 156.5h1.5v1h-1.5zM377 157.5h2v1h-2zM378 152h1v1h-1zM359.5 143.5h1v1h-1zM377 155h1.5v1h-1.5zM362 159.5h1v1h-1zM377.5 159.5h1v1h-1zM377 149.5h1v1h-1zM378 149.5h1v1h-1zM377 147.5h1v1h-1zM375.5 141.5h1v1h-1zM385.5 141.5h1v1h-1zM378 138h1v1h-1zM375.5 150.5h1v1h-1zM379.5 146.5h1v1h-1zM358 144h1v1h-1zM381 147h1v1h-1zM376 146h1v1h-1z" fill="#4fb5c5"/>
<path d="M364.5 162.5h4.5v1h-4.5zM371 162.5h4.5v1h-4.5zM365 154h1v1h-1zM366 154h2v1h-2zM374 154h1v1h-1zM373 151h1v1h-1zM374 151h1v1h-1zM364.5 157h2v1h-2zM367.5 157h1v1h-1zM372.5 157h1.5v1h-1.5zM374.5 157h1v1h-1zM366.5 149.5h1v1h-1zM374 149.5h1v1h-1zM365 155.5h1v1h-1zM366.5 155.5h1.5v1h-1.5zM372 155.5h2v1h-2zM374 155.5h1.5v1h-1.5zM364.5 152h1v1h-1zM367 152h1v1h-1zM365.5 150.5h1v1h-1zM364.5 160h2v1h-2zM366.5 160h2v1h-2zM371.5 160h3.5v1h-3.5zM365 159.5h1v1h-1zM366 159.5h1v1h-1zM367 159.5h1.5v1h-1.5zM371.5 159.5h3.5v1h-3.5zM366 158.5h1v1h-1zM367.5 158.5h1v1h-1zM372.5 158.5h1v1h-1zM373.5 158.5h1.5v1h-1.5zM375 158.5h1v1h-1zM364.5 156.5h2v1h-2zM366.5 156.5h1v1h-1zM372 156.5h1v1h-1zM364.5 156h1.5v1h-1.5zM366.5 156h1v1h-1zM373 156h1v1h-1zM364.5 163h4.5v1h-4.5zM371 163h4.5v1h-4.5zM364.5 160.5h4v1h-4zM371.5 160.5h1v1h-1zM372.5 160.5h3v1h-3zM364.5 155h1v1h-1zM366.5 155h1.5v1h-1.5zM372 155h1v1h-1zM374.5 155h1v1h-1zM364.5 161.5h1.5v1h-1.5zM366 161.5h3v1h-3zM371.5 161.5h4v1h-4zM364.5 151.5h1v1h-1zM365.5 151.5h1v1h-1zM367 151.5h1v1h-1zM372.5 151.5h1.5v1h-1.5zM364.5 159h2.5v1h-2.5zM367 159h1v1h-1zM371.5 159h1.5v1h-1.5zM373 159h2.5v1h-2.5zM364.5 162h3.5v1h-3.5zM368 162h1v1h-1zM371 162h1v1h-1zM372 162h3.5v1h-3.5zM366.5 157.5h1.5v1h-1.5zM372 157.5h1.5v1h-1.5zM373.5 157.5h1v1h-1zM374.5 157.5h1v1h-1zM364.5 158h1v1h-1zM366 158h1.5v1h-1.5zM367.5 158h1v1h-1zM372 158h2v1h-2zM374 158h1v1h-1zM365 161h4v1h-4zM371.5 161h1v1h-1zM373.5 161h2v1h-2zM366 153.5h1v1h-1zM373 153.5h1.5v1h-1.5zM365 163.5h2.5v1h-2.5zM371 163.5h1.5v1h-1.5zM372.5 163.5h1.5v1h-1.5zM365 154.5h1.5v1h-1.5zM366.5 154.5h1.5v1h-1.5zM372.5 154.5h1v1h-1zM374.5 144h1v1h-1zM365.5 153h1v1h-1zM372.5 153h1v1h-1zM374.5 153h1.5v1h-1.5zM364.5 150h1v1h-1zM366.5 150h1v1h-1zM374 150h1v1h-1zM364.5 152.5h1v1h-1zM372.5 152.5h1v1h-1zM374.5 152.5h1v1h-1zM366 148h1v1h-1zM373 148h1v1h-1zM374.5 148h1v1h-1zM365 148.5h1v1h-1zM373.5 145h1v1h-1zM364.5 146.5h1v1h-1zM365 143.5h1v1h-1zM366 149h1v1h-1z" fill="#c8397f"/>
<path d="M364.87,163.84 L364.96,163.84 L365.05,163.84 L365.14,163.84 L365.22,163.84 L365.31,163.84 L365.40,163.84 L365.49,163.84 L365.58,163.84 L365.67,163.84 L365.76,163.84 L365.85,163.84 L365.93,163.84 L366.02,163.84 L366.11,163.84 L366.20,163.84 L366.29,163.84 L366.38,163.84 L366.47,163.84 L366.55,163.84 L366.64,163.84 L366.73,163.84 L366.82,163.84 L366.91,163.84 L367.00,163.84 L367.09,163.84 L367.17,163.84 L367.26,163.84 L367.35,163.84 L367.44,163.84 L367.53,163.84 L367.62,163.84 L367.71,163.84 L367.80,163.84 L367.88,163.84 L367.97,163.84 L368.06,163.84 L368.15,163.84 L368.24,163.84 L368.33,163.84 L368.42,163.84 L368.50,163.84 L368.59,163.84 L368.68,163.84 L368.77,163.95 L368.86,164.76 L368.95,165.57 L369.04,166.38 L369.12,167.19 L369.21,168.00 L369.30,168.81 L369.39,169.62 L369.48,170.43 L369.57,171.24 L369.66,172.05 L369.75,172.86 L369.83,173.67 L369.92,174.48 L370.01,175.29 L370.10,176.10 L370.19,175.29 L370.28,174.48 L370.37,173.67 L370.45,172.86 L370.54,172.05 L370.63,171.24 L370.72,170.43 L370.81,169.62 L370.90,168.81 L370.99,168.00 L371.08,167.19 L371.16,166.38 L371.25,165.57 L371.34,164.76 L371.43,163.95 L371.52,163.84 L371.61,163.84 L371.70,163.84 L371.78,163.84 L371.87,163.84 L371.96,163.84 L372.05,163.84 L372.14,163.84 L372.23,163.84 L372.32,163.84 L372.40,163.84 L372.49,163.84 L372.58,163.84 L372.67,163.84 L372.76,163.84 L372.85,163.84 L372.94,163.84 L373.03,163.84 L373.11,163.84 L373.20,163.84 L373.29,163.84 L373.38,163.84 L373.47,163.84 L373.56,163.84 L373.65,163.84 L373.73,163.84 L373.82,163.84 L373.91,163.84 L374.00,163.84 L374.09,163.84 L374.18,163.84 L374.27,163.84 L374.35,163.84 L374.44,163.84 L374.53,163.84 L374.62,163.84 L374.71,163.84 L374.80,163.84 L374.89,163.84 L374.98,163.84 L375.06,163.84 L375.15,163.84 L375.24,163.84 L375.33,163.84 L375.33,176.10 L375.24,176.11 L375.15,176.12 L375.06,176.13 L374.98,176.14 L374.89,176.14 L374.80,176.15 L374.71,176.16 L374.62,176.17 L374.53,176.18 L374.44,176.19 L374.35,176.20 L374.27,176.21 L374.18,176.22 L374.09,176.23 L374.00,176.24 L373.91,176.24 L373.82,176.25 L373.73,176.26 L373.65,176.27 L373.56,176.28 L373.47,176.29 L373.38,176.30 L373.29,176.31 L373.20,176.31 L373.11,176.32 L373.03,176.33 L372.94,176.34 L372.85,176.35 L372.76,176.36 L372.67,176.37 L372.58,176.37 L372.49,176.38 L372.40,176.39 L372.32,176.40 L372.23,176.41 L372.14,176.42 L372.05,176.43 L371.96,176.43 L371.87,176.44 L371.78,176.45 L371.70,176.46 L371.61,176.47 L371.52,176.47 L371.43,176.48 L371.34,176.49 L371.25,176.50 L371.16,176.51 L371.08,176.51 L370.99,176.52 L370.90,176.53 L370.81,176.54 L370.72,176.55 L370.63,176.55 L370.54,176.56 L370.45,176.57 L370.37,176.58 L370.28,176.58 L370.19,176.59 L370.10,176.60 L370.01,176.59 L369.92,176.58 L369.83,176.58 L369.75,176.57 L369.66,176.56 L369.57,176.55 L369.48,176.55 L369.39,176.54 L369.30,176.53 L369.21,176.52 L369.12,176.51 L369.04,176.51 L368.95,176.50 L368.86,176.49 L368.77,176.48 L368.68,176.47 L368.59,176.47 L368.50,176.46 L368.42,176.45 L368.33,176.44 L368.24,176.43 L368.15,176.43 L368.06,176.42 L367.97,176.41 L367.88,176.40 L367.80,176.39 L367.71,176.38 L367.62,176.37 L367.53,176.37 L367.44,176.36 L367.35,176.35 L367.26,176.34 L367.17,176.33 L367.09,176.32 L367.00,176.31 L366.91,176.31 L366.82,176.30 L366.73,176.29 L366.64,176.28 L366.55,176.27 L366.47,176.26 L366.38,176.25 L366.29,176.24 L366.20,176.24 L366.11,176.23 L366.02,176.22 L365.93,176.21 L365.85,176.20 L365.76,176.19 L365.67,176.18 L365.58,176.17 L365.49,176.16 L365.40,176.15 L365.31,176.14 L365.22,176.14 L365.14,176.13 L365.05,176.12 L364.96,176.11 L364.87,176.10Z" fill="#000" stroke="#000" stroke-width="0.8" stroke-linejoin="round"/>
<rect x="433.8" y="109.2" width="79.49999999999994" height="68.8" fill="none" stroke="#000" stroke-width="1.15"/>
<line x1="431.00" y1="176.10" x2="433.80" y2="176.10" stroke="#000" stroke-width="0.75"/>
<text x="429.60" y="177.45" font-size="3.9" text-anchor="end" fill="#3a3a3a" stroke="#3a3a3a" stroke-width="0.05" textLength="2.2" lengthAdjust="spacingAndGlyphs">0</text>
<line x1="431.00" y1="167.02" x2="433.80" y2="167.02" stroke="#000" stroke-width="0.75"/>
<text x="429.60" y="168.37" font-size="3.9" text-anchor="end" fill="#3a3a3a" stroke="#3a3a3a" stroke-width="0.05" textLength="2.2" lengthAdjust="spacingAndGlyphs">2</text>
<line x1="431.00" y1="157.94" x2="433.80" y2="157.94" stroke="#000" stroke-width="0.75"/>
<text x="429.60" y="159.29" font-size="3.9" text-anchor="end" fill="#3a3a3a" stroke="#3a3a3a" stroke-width="0.05" textLength="2.2" lengthAdjust="spacingAndGlyphs">4</text>
<line x1="431.00" y1="148.86" x2="433.80" y2="148.86" stroke="#000" stroke-width="0.75"/>
<text x="429.60" y="150.21" font-size="3.9" text-anchor="end" fill="#3a3a3a" stroke="#3a3a3a" stroke-width="0.05" textLength="2.2" lengthAdjust="spacingAndGlyphs">6</text>
<line x1="431.00" y1="139.78" x2="433.80" y2="139.78" stroke="#000" stroke-width="0.75"/>
<text x="429.60" y="141.13" font-size="3.9" text-anchor="end" fill="#3a3a3a" stroke="#3a3a3a" stroke-width="0.05" textLength="2.2" lengthAdjust="spacingAndGlyphs">8</text>
<line x1="431.00" y1="130.70" x2="433.80" y2="130.70" stroke="#000" stroke-width="0.75"/>
<text x="429.60" y="132.05" font-size="3.9" text-anchor="end" fill="#3a3a3a" stroke="#3a3a3a" stroke-width="0.05" textLength="4.4" lengthAdjust="spacingAndGlyphs">10</text>
<line x1="431.00" y1="121.62" x2="433.80" y2="121.62" stroke="#000" stroke-width="0.75"/>
<text x="429.60" y="122.97" font-size="3.9" text-anchor="end" fill="#3a3a3a" stroke="#3a3a3a" stroke-width="0.05" textLength="4.4" lengthAdjust="spacingAndGlyphs">12</text>
<line x1="431.00" y1="112.54" x2="433.80" y2="112.54" stroke="#000" stroke-width="0.75"/>
<text x="429.60" y="113.89" font-size="3.9" text-anchor="end" fill="#3a3a3a" stroke="#3a3a3a" stroke-width="0.05" textLength="4.4" lengthAdjust="spacingAndGlyphs">14</text>
<line x1="442.02" y1="178.00" x2="442.02" y2="180.60" stroke="#000" stroke-width="0.75"/>
<text x="442.02" y="188.00" font-size="3.9" text-anchor="middle" fill="#3a3a3a" stroke="#3a3a3a" stroke-width="0.05" textLength="4.0" lengthAdjust="spacingAndGlyphs">−6</text>
<line x1="452.48" y1="178.00" x2="452.48" y2="180.60" stroke="#000" stroke-width="0.75"/>
<text x="452.48" y="188.00" font-size="3.9" text-anchor="middle" fill="#3a3a3a" stroke="#3a3a3a" stroke-width="0.05" textLength="4.0" lengthAdjust="spacingAndGlyphs">−4</text>
<line x1="462.94" y1="178.00" x2="462.94" y2="180.60" stroke="#000" stroke-width="0.75"/>
<text x="462.94" y="188.00" font-size="3.9" text-anchor="middle" fill="#3a3a3a" stroke="#3a3a3a" stroke-width="0.05" textLength="4.0" lengthAdjust="spacingAndGlyphs">−2</text>
<line x1="473.40" y1="178.00" x2="473.40" y2="180.60" stroke="#000" stroke-width="0.75"/>
<text x="473.40" y="188.00" font-size="3.9" text-anchor="middle" fill="#3a3a3a" stroke="#3a3a3a" stroke-width="0.05" textLength="2.2" lengthAdjust="spacingAndGlyphs">0</text>
<line x1="483.86" y1="178.00" x2="483.86" y2="180.60" stroke="#000" stroke-width="0.75"/>
<text x="483.86" y="188.00" font-size="3.9" text-anchor="middle" fill="#3a3a3a" stroke="#3a3a3a" stroke-width="0.05" textLength="2.2" lengthAdjust="spacingAndGlyphs">2</text>
<line x1="494.32" y1="178.00" x2="494.32" y2="180.60" stroke="#000" stroke-width="0.75"/>
<text x="494.32" y="188.00" font-size="3.9" text-anchor="middle" fill="#3a3a3a" stroke="#3a3a3a" stroke-width="0.05" textLength="2.2" lengthAdjust="spacingAndGlyphs">4</text>
<line x1="504.78" y1="178.00" x2="504.78" y2="180.60" stroke="#000" stroke-width="0.75"/>
<text x="504.78" y="188.00" font-size="3.9" text-anchor="middle" fill="#3a3a3a" stroke="#3a3a3a" stroke-width="0.05" textLength="2.2" lengthAdjust="spacingAndGlyphs">6</text>
<text x="473.70" y="197.00" font-size="5.2" text-anchor="middle" fill="#111" stroke="#111" stroke-width="0.22" textLength="10.7" lengthAdjust="spacingAndGlyphs">logFC</text>
<text x="442.80" y="159.80" font-size="4.0" text-anchor="middle" fill="#111" stroke="#111" stroke-width="0.14" textLength="2.2" lengthAdjust="spacingAndGlyphs">2</text>
<text x="504.10" y="159.80" font-size="4.0" text-anchor="middle" fill="#111" stroke="#111" stroke-width="0.14" textLength="2.2" lengthAdjust="spacingAndGlyphs">5</text>
<path d="M464 167h1v1h-1zM465 167h1v1h-1zM466 167h1v1h-1zM478 167h1.5v1h-1.5zM482 167h1v1h-1zM478.5 163.5h1v1h-1zM479.5 163.5h1v1h-1zM465.5 173.5h1v1h-1zM478 173.5h1v1h-1zM479 173.5h1v1h-1zM480 173.5h1.5v1h-1.5zM481.5 173.5h1v1h-1zM462 174.5h1v1h-1zM464 174.5h1v1h-1zM465.5 174.5h2v1h-2zM478.5 174.5h1.5v1h-1.5zM480.5 174.5h1.5v1h-1.5zM482.5 174.5h1v1h-1zM484 174.5h1v1h-1zM479 159.5h1v1h-1zM480 159.5h1v1h-1zM463 174h1v1h-1zM464 174h1v1h-1zM465 174h1v1h-1zM481.5 174h1v1h-1zM482.5 174h1v1h-1zM467.5 157.5h1v1h-1zM478.5 157.5h1.5v1h-1.5zM481.5 157.5h1v1h-1zM482.5 157.5h1v1h-1zM487 157.5h1v1h-1zM465.5 164.5h1v1h-1zM467.5 164.5h1v1h-1zM478.5 164.5h1.5v1h-1.5zM480 164.5h1v1h-1zM466 164h1v1h-1zM479 164h1v1h-1zM458.5 169h1v1h-1zM463.5 169h1v1h-1zM465.5 169h1.5v1h-1.5zM478.5 169h2v1h-2zM481 169h1v1h-1zM466 159h1v1h-1zM464 168.5h1v1h-1zM467 168.5h1.5v1h-1.5zM479 168.5h1.5v1h-1.5zM486 168.5h1v1h-1zM466 155h1v1h-1zM467.5 155h1v1h-1zM480 155h1v1h-1zM488 155h1v1h-1zM464 166h2.5v1h-2.5zM467.5 166h1v1h-1zM479.5 166h1v1h-1zM465.5 165.5h1v1h-1zM478.5 165.5h1v1h-1zM485.5 165.5h1v1h-1zM465 157h1v1h-1zM466 157h1v1h-1zM467.5 157h1v1h-1zM479.5 157h1v1h-1zM481.5 157h1v1h-1zM465.5 175h1.5v1h-1.5zM478.5 175h2v1h-2zM466.5 173h1.5v1h-1.5zM478.5 173h1v1h-1zM482 173h1v1h-1zM487 173h1v1h-1zM489 173h1v1h-1zM466 161h1v1h-1zM467.5 161h1v1h-1zM460 165h1v1h-1zM461.5 165h1v1h-1zM464.5 165h1v1h-1zM478.5 165h1v1h-1zM480 165h1v1h-1zM452.5 170.5h1v1h-1zM456.5 170.5h1v1h-1zM461 170.5h1v1h-1zM465.5 170.5h1v1h-1zM478 170.5h1v1h-1zM479 170.5h1.5v1h-1.5zM480.5 170.5h1v1h-1zM481.5 170.5h1v1h-1zM464.5 162h1v1h-1zM465.5 162h1v1h-1zM466.5 162h1.5v1h-1.5zM480 162h1v1h-1zM467 160h1v1h-1zM462 171h1v1h-1zM464.5 171h1v1h-1zM465.5 172h1v1h-1zM467 172h1.5v1h-1.5zM479.5 172h1v1h-1zM480.5 172h1.5v1h-1.5zM483.5 172h1v1h-1zM465.5 163h1v1h-1zM466.5 163h1v1h-1zM467.5 163h1v1h-1zM478 163h1v1h-1zM481 163h1v1h-1zM484 163h1v1h-1zM467.5 166.5h1v1h-1zM481 166.5h1v1h-1zM464.5 161.5h1v1h-1zM478.5 161.5h1v1h-1zM482 161.5h1v1h-1zM459.5 172.5h1v1h-1zM466.5 172.5h1v1h-1zM481 172.5h1v1h-1zM466 158.5h1v1h-1zM467.5 158.5h1v1h-1zM479 158.5h1.5v1h-1.5zM481 156.5h1.5v1h-1.5zM466.5 168h1v1h-1zM478 168h1.5v1h-1.5zM481.5 168h1v1h-1zM487 168h1v1h-1zM465.5 169.5h1v1h-1zM467 169.5h1.5v1h-1.5zM480.5 169.5h1v1h-1zM466.5 156h2v1h-2zM479 155.5h1v1h-1zM466 160.5h1v1h-1zM467.5 160.5h1v1h-1zM481.5 160.5h1v1h-1zM466.5 162.5h1v1h-1zM483.5 162.5h1v1h-1zM458.5 158h1v1h-1zM462.5 158h1v1h-1zM485.5 158h1v1h-1zM483 167.5h1v1h-1zM479 170h1v1h-1zM482 170h1v1h-1zM458 171.5h1v1h-1zM466.5 171.5h1v1h-1zM467.5 171.5h1v1h-1z" fill="#f0a020"/>
<path d="M486.5 145h1v1h-1zM481.5 152h1v1h-1zM479 148.5h1v1h-1zM484.5 145.5h1v1h-1zM481 151h1v1h-1zM465.5 153.5h1v1h-1z" fill="#4fb5c5"/>
<path d="M468 154h1v1h-1zM476.5 154h1v1h-1zM468.5 150.5h1v1h-1zM468.5 153.5h1v1h-1zM476 153.5h1v1h-1zM469.5 154.5h1v1h-1zM477.5 154.5h1v1h-1zM476 151.5h1v1h-1z" fill="#c8397f"/>
<path d="M468 156h2v1h-2zM470 156h1v1h-1zM476 156h1v1h-1zM477.5 156h1v1h-1zM469.5 157h1v1h-1zM475.5 157h1.5v1h-1.5zM477 157h1v1h-1zM468.5 162h1v1h-1zM470 162h1v1h-1zM471 162h1.5v1h-1.5zM474.5 162h1.5v1h-1.5zM477 162h1.5v1h-1.5zM469 160h1v1h-1zM470 160h2v1h-2zM475 160h1.5v1h-1.5zM476.5 160h1v1h-1zM469 162.5h1v1h-1zM470.5 162.5h1.5v1h-1.5zM475.5 162.5h1v1h-1zM476.5 162.5h2.5v1h-2.5zM469 161h1v1h-1zM470 161h2v1h-2zM477 161h1v1h-1zM478 161h1v1h-1zM467.5 158.5h2v1h-2zM469.5 158.5h1v1h-1zM471 158.5h1v1h-1zM476 158.5h1v1h-1zM469.5 156.5h1v1h-1zM471 156.5h1v1h-1zM475.5 156.5h1v1h-1zM469 159h1v1h-1zM474.5 159h1v1h-1zM476.5 159h2v1h-2zM470.5 157.5h1.5v1h-1.5zM476.5 157.5h1.5v1h-1.5zM471 159.5h1v1h-1zM476 159.5h1v1h-1zM477 159.5h1v1h-1zM468.5 160.5h1v1h-1zM469.5 160.5h1.5v1h-1.5zM476.5 160.5h2v1h-2zM468 161.5h1v1h-1zM470 161.5h1v1h-1zM475 161.5h1v1h-1zM476 161.5h1.5v1h-1.5zM469.5 155.5h1v1h-1zM476 155.5h1v1h-1zM477 155.5h1v1h-1zM468 158h1v1h-1zM470 158h1v1h-1zM475 158h1v1h-1zM477.5 158h1v1h-1zM475.5 155h1v1h-1zM477 155h1v1h-1z" fill="#000"/>
<path d="M468.17,162.93 L468.26,162.93 L468.35,162.93 L468.44,162.93 L468.52,162.93 L468.61,162.93 L468.70,162.93 L468.79,162.93 L468.88,162.93 L468.97,162.93 L469.06,162.93 L469.15,162.93 L469.23,162.93 L469.32,162.93 L469.41,162.93 L469.50,162.93 L469.59,162.93 L469.68,162.93 L469.77,162.93 L469.85,162.93 L469.94,162.93 L470.03,162.93 L470.12,162.93 L470.21,162.93 L470.30,162.93 L470.39,162.93 L470.47,162.93 L470.56,162.93 L470.65,162.93 L470.74,162.93 L470.83,162.93 L470.92,162.93 L471.01,162.93 L471.10,162.93 L471.18,162.93 L471.27,162.93 L471.36,162.93 L471.45,162.93 L471.54,162.93 L471.63,162.93 L471.72,162.93 L471.80,162.93 L471.89,162.93 L471.98,162.93 L472.07,163.28 L472.16,164.13 L472.25,164.99 L472.34,165.84 L472.42,166.70 L472.51,167.55 L472.60,168.41 L472.69,169.26 L472.78,170.12 L472.87,170.97 L472.96,171.83 L473.05,172.68 L473.13,173.54 L473.22,174.39 L473.31,175.25 L473.40,176.10 L473.49,175.25 L473.58,174.39 L473.67,173.54 L473.75,172.68 L473.84,171.83 L473.93,170.97 L474.02,170.12 L474.11,169.26 L474.20,168.41 L474.29,167.55 L474.38,166.70 L474.46,165.84 L474.55,164.99 L474.64,164.13 L474.73,163.28 L474.82,162.93 L474.91,162.93 L475.00,162.93 L475.08,162.93 L475.17,162.93 L475.26,162.93 L475.35,162.93 L475.44,162.93 L475.53,162.93 L475.62,162.93 L475.70,162.93 L475.79,162.93 L475.88,162.93 L475.97,162.93 L476.06,162.93 L476.15,162.93 L476.24,162.93 L476.33,162.93 L476.41,162.93 L476.50,162.93 L476.59,162.93 L476.68,162.93 L476.77,162.93 L476.86,162.93 L476.95,162.93 L477.03,162.93 L477.12,162.93 L477.21,162.93 L477.30,162.93 L477.39,162.93 L477.48,162.93 L477.57,162.93 L477.65,162.93 L477.74,162.93 L477.83,162.93 L477.92,162.93 L478.01,162.93 L478.10,162.93 L478.19,162.93 L478.28,162.93 L478.36,162.93 L478.45,162.93 L478.54,162.93 L478.63,162.93 L478.63,176.10 L478.54,176.11 L478.45,176.12 L478.36,176.13 L478.28,176.14 L478.19,176.14 L478.10,176.15 L478.01,176.16 L477.92,176.17 L477.83,176.18 L477.74,176.19 L477.65,176.20 L477.57,176.21 L477.48,176.22 L477.39,176.23 L477.30,176.24 L477.21,176.24 L477.12,176.25 L477.03,176.26 L476.95,176.27 L476.86,176.28 L476.77,176.29 L476.68,176.30 L476.59,176.31 L476.50,176.31 L476.41,176.32 L476.33,176.33 L476.24,176.34 L476.15,176.35 L476.06,176.36 L475.97,176.37 L475.88,176.37 L475.79,176.38 L475.70,176.39 L475.62,176.40 L475.53,176.41 L475.44,176.42 L475.35,176.43 L475.26,176.43 L475.17,176.44 L475.08,176.45 L475.00,176.46 L474.91,176.47 L474.82,176.47 L474.73,176.48 L474.64,176.49 L474.55,176.50 L474.46,176.51 L474.38,176.51 L474.29,176.52 L474.20,176.53 L474.11,176.54 L474.02,176.55 L473.93,176.55 L473.84,176.56 L473.75,176.57 L473.67,176.58 L473.58,176.58 L473.49,176.59 L473.40,176.60 L473.31,176.59 L473.22,176.58 L473.13,176.58 L473.05,176.57 L472.96,176.56 L472.87,176.55 L472.78,176.55 L472.69,176.54 L472.60,176.53 L472.51,176.52 L472.42,176.51 L472.34,176.51 L472.25,176.50 L472.16,176.49 L472.07,176.48 L471.98,176.47 L471.89,176.47 L471.80,176.46 L471.72,176.45 L471.63,176.44 L471.54,176.43 L471.45,176.43 L471.36,176.42 L471.27,176.41 L471.18,176.40 L471.10,176.39 L471.01,176.38 L470.92,176.37 L470.83,176.37 L470.74,176.36 L470.65,176.35 L470.56,176.34 L470.47,176.33 L470.39,176.32 L470.30,176.31 L470.21,176.31 L470.12,176.30 L470.03,176.29 L469.94,176.28 L469.85,176.27 L469.77,176.26 L469.68,176.25 L469.59,176.24 L469.50,176.24 L469.41,176.23 L469.32,176.22 L469.23,176.21 L469.15,176.20 L469.06,176.19 L468.97,176.18 L468.88,176.17 L468.79,176.16 L468.70,176.15 L468.61,176.14 L468.52,176.14 L468.44,176.13 L468.35,176.12 L468.26,176.11 L468.17,176.10Z" fill="#000" stroke="#000" stroke-width="0.8" stroke-linejoin="round"/>
<path d="M464.95 151.95h1.1v1.1h-1.1zM489.45 151.95h1.1v1.1h-1.1zM478.95 156.45h1.1v1.1h-1.1zM466.95 154.45h1.1v1.1h-1.1zM485.95 146.45h1.1v1.1h-1.1zM483.45 144.45h1.1v1.1h-1.1zM481.95 147.95h1.1v1.1h-1.1z" fill="#4fb5c5"/>
<path d="M469.45 154.95h1.1v1.1h-1.1zM476.95 157.45h1.1v1.1h-1.1zM470.45 156.45h1.1v1.1h-1.1zM476.45 155.95h1.1v1.1h-1.1z" fill="#c8397f"/>
<line x1="27.50" y1="228.70" x2="27.50" y2="311.50" stroke="#000" stroke-width="1.0"/>
<line x1="24.70" y1="311.50" x2="27.50" y2="311.50" stroke="#000" stroke-width="0.9"/>
<text x="22.10" y="312.95" font-size="4.1" text-anchor="end" fill="#3a3a3a" stroke="#3a3a3a" stroke-width="0.03" textLength="2.25" lengthAdjust="spacingAndGlyphs">0</text>
<line x1="24.70" y1="291.40" x2="27.50" y2="291.40" stroke="#000" stroke-width="0.9"/>
<text x="22.10" y="292.85" font-size="4.1" text-anchor="end" fill="#3a3a3a" stroke="#3a3a3a" stroke-width="0.03" textLength="4.5" lengthAdjust="spacingAndGlyphs">10</text>
<line x1="24.70" y1="271.30" x2="27.50" y2="271.30" stroke="#000" stroke-width="0.9"/>
<text x="22.10" y="272.75" font-size="4.1" text-anchor="end" fill="#3a3a3a" stroke="#3a3a3a" stroke-width="0.03" textLength="4.5" lengthAdjust="spacingAndGlyphs">20</text>
<line x1="24.70" y1="251.20" x2="27.50" y2="251.20" stroke="#000" stroke-width="0.9"/>
<text x="22.10" y="252.65" font-size="4.1" text-anchor="end" fill="#3a3a3a" stroke="#3a3a3a" stroke-width="0.03" textLength="4.5" lengthAdjust="spacingAndGlyphs">30</text>
<line x1="24.70" y1="231.10" x2="27.50" y2="231.10" stroke="#000" stroke-width="0.9"/>
<text x="22.10" y="232.55" font-size="4.1" text-anchor="end" fill="#3a3a3a" stroke="#3a3a3a" stroke-width="0.03" textLength="4.5" lengthAdjust="spacingAndGlyphs">40</text>
<rect x="27.90" y="235.52" width="1.75" height="75.98" fill="#5aaae6"/>
<rect x="30.25" y="289.99" width="1.80" height="21.51" fill="#b5122e"/>
<line x1="29.90" y1="311.50" x2="29.90" y2="313.90" stroke="#000" stroke-width="0.9"/>
<text x="31.30" y="319.50" font-size="4.5" text-anchor="end" transform="rotate(-45 31.30 319.50)" fill="#111" stroke="#111" stroke-width="0.1">IL1B</text>
<rect x="32.72" y="252.21" width="1.75" height="59.29" fill="#5aaae6"/>
<rect x="35.07" y="296.22" width="1.80" height="15.28" fill="#b5122e"/>
<line x1="34.72" y1="311.50" x2="34.72" y2="313.90" stroke="#000" stroke-width="0.9"/>
<text x="36.12" y="319.50" font-size="4.5" text-anchor="end" transform="rotate(-45 36.12 319.50)" fill="#111" stroke="#111" stroke-width="0.1">CCL20</text>
<rect x="37.54" y="266.27" width="1.75" height="45.23" fill="#5aaae6"/>
<rect x="39.89" y="294.42" width="1.80" height="17.08" fill="#b5122e"/>
<line x1="39.54" y1="311.50" x2="39.54" y2="313.90" stroke="#000" stroke-width="0.9"/>
<text x="40.94" y="319.50" font-size="4.5" text-anchor="end" transform="rotate(-45 40.94 319.50)" fill="#111" stroke="#111" stroke-width="0.1">CXCL8</text>
<rect x="42.36" y="267.28" width="1.75" height="44.22" fill="#5aaae6"/>
<rect x="44.71" y="308.89" width="1.80" height="2.61" fill="#b5122e"/>
<line x1="44.36" y1="311.50" x2="44.36" y2="313.90" stroke="#000" stroke-width="0.9"/>
<text x="45.76" y="319.50" font-size="4.5" text-anchor="end" transform="rotate(-45 45.76 319.50)" fill="#111" stroke="#111" stroke-width="0.1">IL6</text>
<rect x="47.18" y="270.90" width="1.75" height="40.60" fill="#5aaae6"/>
<rect x="49.53" y="304.46" width="1.80" height="7.04" fill="#b5122e"/>
<line x1="49.18" y1="311.50" x2="49.18" y2="313.90" stroke="#000" stroke-width="0.9"/>
<text x="50.58" y="319.50" font-size="4.5" text-anchor="end" transform="rotate(-45 50.58 319.50)" fill="#111" stroke="#111" stroke-width="0.1">PTGS2</text>
<rect x="52.00" y="275.72" width="1.75" height="35.78" fill="#5aaae6"/>
<rect x="54.35" y="304.46" width="1.80" height="7.04" fill="#b5122e"/>
<line x1="54.00" y1="311.50" x2="54.00" y2="313.90" stroke="#000" stroke-width="0.9"/>
<text x="55.40" y="319.50" font-size="4.5" text-anchor="end" transform="rotate(-45 55.40 319.50)" fill="#111" stroke="#111" stroke-width="0.1">IL1A</text>
<rect x="56.82" y="276.73" width="1.75" height="34.77" fill="#5aaae6"/>
<rect x="59.17" y="303.86" width="1.80" height="7.64" fill="#b5122e"/>
<line x1="58.82" y1="311.50" x2="58.82" y2="313.90" stroke="#000" stroke-width="0.9"/>
<text x="60.22" y="319.50" font-size="4.5" text-anchor="end" transform="rotate(-45 60.22 319.50)" fill="#111" stroke="#111" stroke-width="0.1">CCL4</text>
<rect x="61.64" y="276.53" width="1.75" height="34.97" fill="#5aaae6"/>
<rect x="63.99" y="300.85" width="1.80" height="10.65" fill="#b5122e"/>
<line x1="63.64" y1="311.50" x2="63.64" y2="313.90" stroke="#000" stroke-width="0.9"/>
<text x="65.04" y="319.50" font-size="4.5" text-anchor="end" transform="rotate(-45 65.04 319.50)" fill="#111" stroke="#111" stroke-width="0.1">TNF</text>
<rect x="66.46" y="289.99" width="1.75" height="21.51" fill="#5aaae6"/>
<rect x="68.81" y="290.60" width="1.80" height="20.90" fill="#b5122e"/>
<line x1="68.46" y1="311.50" x2="68.46" y2="313.90" stroke="#000" stroke-width="0.9"/>
<text x="69.86" y="319.50" font-size="4.5" text-anchor="end" transform="rotate(-45 69.86 319.50)" fill="#111" stroke="#111" stroke-width="0.1">IL23A</text>
<rect x="71.28" y="293.01" width="1.75" height="18.49" fill="#5aaae6"/>
<rect x="73.63" y="293.81" width="1.80" height="17.69" fill="#b5122e"/>
<line x1="73.28" y1="311.50" x2="73.28" y2="313.90" stroke="#000" stroke-width="0.9"/>
<text x="74.68" y="319.50" font-size="4.5" text-anchor="end" transform="rotate(-45 74.68 319.50)" fill="#111" stroke="#111" stroke-width="0.1">SERPINB2</text>
<rect x="76.10" y="294.42" width="1.75" height="17.08" fill="#5aaae6"/>
<rect x="78.45" y="294.62" width="1.80" height="16.88" fill="#b5122e"/>
<line x1="78.10" y1="311.50" x2="78.10" y2="313.90" stroke="#000" stroke-width="0.9"/>
<text x="79.50" y="319.50" font-size="4.5" text-anchor="end" transform="rotate(-45 79.50 319.50)" fill="#111" stroke="#111" stroke-width="0.1">CCL3</text>
<rect x="80.92" y="295.02" width="1.75" height="16.48" fill="#5aaae6"/>
<rect x="83.27" y="295.02" width="1.80" height="16.48" fill="#b5122e"/>
<line x1="82.92" y1="311.50" x2="82.92" y2="313.90" stroke="#000" stroke-width="0.9"/>
<text x="84.32" y="319.50" font-size="4.5" text-anchor="end" transform="rotate(-45 84.32 319.50)" fill="#111" stroke="#111" stroke-width="0.1">CXCL2</text>
<rect x="85.74" y="295.42" width="1.75" height="16.08" fill="#5aaae6"/>
<rect x="88.09" y="300.85" width="1.80" height="10.65" fill="#b5122e"/>
<line x1="87.74" y1="311.50" x2="87.74" y2="313.90" stroke="#000" stroke-width="0.9"/>
<text x="89.14" y="319.50" font-size="4.5" text-anchor="end" transform="rotate(-45 89.14 319.50)" fill="#111" stroke="#111" stroke-width="0.1">CXCL3</text>
<rect x="90.56" y="295.42" width="1.75" height="16.08" fill="#5aaae6"/>
<rect x="92.91" y="305.67" width="1.80" height="5.83" fill="#b5122e"/>
<line x1="92.56" y1="311.50" x2="92.56" y2="313.90" stroke="#000" stroke-width="0.9"/>
<text x="93.96" y="319.50" font-size="4.5" text-anchor="end" transform="rotate(-45 93.96 319.50)" fill="#111" stroke="#111" stroke-width="0.1">IL10</text>
<rect x="95.38" y="295.82" width="1.75" height="15.68" fill="#5aaae6"/>
<rect x="97.73" y="304.46" width="1.80" height="7.04" fill="#b5122e"/>
<line x1="97.38" y1="311.50" x2="97.38" y2="313.90" stroke="#000" stroke-width="0.9"/>
<text x="98.78" y="319.50" font-size="4.5" text-anchor="end" transform="rotate(-45 98.78 319.50)" fill="#111" stroke="#111" stroke-width="0.1">CD274</text>
<rect x="100.20" y="296.83" width="1.75" height="14.67" fill="#5aaae6"/>
<rect x="102.55" y="306.88" width="1.80" height="4.62" fill="#b5122e"/>
<line x1="102.20" y1="311.50" x2="102.20" y2="313.90" stroke="#000" stroke-width="0.9"/>
<text x="103.60" y="319.50" font-size="4.5" text-anchor="end" transform="rotate(-45 103.60 319.50)" fill="#111" stroke="#111" stroke-width="0.1">IDO1</text>
<rect x="105.02" y="296.83" width="1.75" height="14.67" fill="#5aaae6"/>
<rect x="107.37" y="303.46" width="1.80" height="8.04" fill="#b5122e"/>
<line x1="107.02" y1="311.50" x2="107.02" y2="313.90" stroke="#000" stroke-width="0.9"/>
<text x="108.42" y="319.50" font-size="4.5" text-anchor="end" transform="rotate(-45 108.42 319.50)" fill="#111" stroke="#111" stroke-width="0.1">NFKBIZ</text>
<rect x="109.84" y="296.83" width="1.75" height="14.67" fill="#5aaae6"/>
<rect x="112.19" y="296.83" width="1.80" height="14.67" fill="#b5122e"/>
<line x1="111.84" y1="311.50" x2="111.84" y2="313.90" stroke="#000" stroke-width="0.9"/>
<text x="113.24" y="319.50" font-size="4.5" text-anchor="end" transform="rotate(-45 113.24 319.50)" fill="#111" stroke="#111" stroke-width="0.1">EREG</text>
<rect x="114.66" y="297.63" width="1.75" height="13.87" fill="#5aaae6"/>
<rect x="117.01" y="306.88" width="1.80" height="4.62" fill="#b5122e"/>
<line x1="116.66" y1="311.50" x2="116.66" y2="313.90" stroke="#000" stroke-width="0.9"/>
<text x="118.06" y="319.50" font-size="4.5" text-anchor="end" transform="rotate(-45 118.06 319.50)" fill="#111" stroke="#111" stroke-width="0.1">TNFAIP6</text>
<rect x="119.48" y="297.63" width="1.75" height="13.87" fill="#5aaae6"/>
<rect x="121.83" y="304.46" width="1.80" height="7.04" fill="#b5122e"/>
<line x1="121.48" y1="311.50" x2="121.48" y2="313.90" stroke="#000" stroke-width="0.9"/>
<text x="122.88" y="319.50" font-size="4.5" text-anchor="end" transform="rotate(-45 122.88 319.50)" fill="#111" stroke="#111" stroke-width="0.1">INHBA</text>
<line x1="27.50" y1="311.50" x2="125.50" y2="311.50" stroke="#000" stroke-width="1.0"/>
<text x="54.80" y="224.50" font-size="6.3" text-anchor="start" fill="#111">LPS+PGE<tspan font-size="3.8" dy="1.3">2</tspan></text>
<rect x="95.30" y="261.90" width="5.40" height="2.40" fill="#5aaae6"/>
<text x="103.70" y="264.70" font-size="4.6" text-anchor="start" fill="#111" stroke="#111" stroke-width="0.14" textLength="13.1" lengthAdjust="spacingAndGlyphs">M-CSF</text>
<rect x="95.30" y="268.20" width="5.40" height="2.50" fill="#b5122e"/>
<text x="103.70" y="271.00" font-size="4.6" text-anchor="start" fill="#111" stroke="#111" stroke-width="0.14" textLength="16.6" lengthAdjust="spacingAndGlyphs">GM-CSF</text>
<text x="12.60" y="269.60" font-size="5.3" text-anchor="middle" transform="rotate(-90 12.60 269.60)" fill="#111" stroke="#111" stroke-width="0.2" textLength="33.3" lengthAdjust="spacingAndGlyphs">Fold change/LPS</text>
<line x1="32.32" y1="250.31" x2="36.12" y2="250.31" stroke="#666" stroke-width="1.1"/>
<line x1="32.52" y1="248.11" x2="35.92" y2="248.11" stroke="#222" stroke-width="0.5"/>
<line x1="37.14" y1="264.38" x2="40.94" y2="264.38" stroke="#666" stroke-width="1.1"/>
<line x1="37.34" y1="262.18" x2="40.74" y2="262.18" stroke="#222" stroke-width="0.5"/>
<line x1="41.96" y1="265.38" x2="45.76" y2="265.38" stroke="#666" stroke-width="1.1"/>
<line x1="42.16" y1="263.18" x2="45.56" y2="263.18" stroke="#222" stroke-width="0.5"/>
<line x1="46.78" y1="269.00" x2="50.58" y2="269.00" stroke="#666" stroke-width="1.1"/>
<line x1="46.98" y1="266.80" x2="50.38" y2="266.80" stroke="#222" stroke-width="0.5"/>
<line x1="51.60" y1="273.82" x2="55.40" y2="273.82" stroke="#666" stroke-width="1.1"/>
<line x1="51.80" y1="271.62" x2="55.20" y2="271.62" stroke="#222" stroke-width="0.5"/>
<line x1="56.42" y1="274.83" x2="60.22" y2="274.83" stroke="#666" stroke-width="1.1"/>
<line x1="56.62" y1="272.63" x2="60.02" y2="272.63" stroke="#222" stroke-width="0.5"/>
<line x1="61.24" y1="274.63" x2="65.04" y2="274.63" stroke="#666" stroke-width="1.1"/>
<line x1="61.44" y1="272.43" x2="64.84" y2="272.43" stroke="#222" stroke-width="0.5"/>
<line x1="94.98" y1="293.92" x2="98.78" y2="293.92" stroke="#666" stroke-width="1.1"/>
<line x1="95.18" y1="291.72" x2="98.58" y2="291.72" stroke="#222" stroke-width="0.5"/>
<line x1="99.80" y1="294.93" x2="103.60" y2="294.93" stroke="#666" stroke-width="1.1"/>
<line x1="100.00" y1="292.73" x2="103.40" y2="292.73" stroke="#222" stroke-width="0.5"/>
<line x1="114.26" y1="295.73" x2="118.06" y2="295.73" stroke="#666" stroke-width="1.1"/>
<line x1="114.46" y1="293.53" x2="117.86" y2="293.53" stroke="#222" stroke-width="0.5"/>
<line x1="154.40" y1="228.80" x2="154.40" y2="311.30" stroke="#000" stroke-width="1.0"/>
<line x1="151.60" y1="311.30" x2="154.40" y2="311.30" stroke="#000" stroke-width="0.9"/>
<text x="149.00" y="312.75" font-size="4.1" text-anchor="end" fill="#3a3a3a" stroke="#3a3a3a" stroke-width="0.03" textLength="2.25" lengthAdjust="spacingAndGlyphs">0</text>
<line x1="151.60" y1="284.40" x2="154.40" y2="284.40" stroke="#000" stroke-width="0.9"/>
<text x="149.00" y="285.85" font-size="4.1" text-anchor="end" fill="#3a3a3a" stroke="#3a3a3a" stroke-width="0.03" textLength="4.5" lengthAdjust="spacingAndGlyphs">20</text>
<line x1="151.60" y1="257.50" x2="154.40" y2="257.50" stroke="#000" stroke-width="0.9"/>
<text x="149.00" y="258.95" font-size="4.1" text-anchor="end" fill="#3a3a3a" stroke="#3a3a3a" stroke-width="0.03" textLength="4.5" lengthAdjust="spacingAndGlyphs">40</text>
<line x1="151.60" y1="230.60" x2="154.40" y2="230.60" stroke="#000" stroke-width="0.9"/>
<text x="149.00" y="232.05" font-size="4.1" text-anchor="end" fill="#3a3a3a" stroke="#3a3a3a" stroke-width="0.03" textLength="4.5" lengthAdjust="spacingAndGlyphs">60</text>
<rect x="155.10" y="243.24" width="1.75" height="68.06" fill="#5aaae6"/>
<rect x="157.45" y="301.35" width="1.80" height="9.95" fill="#b5122e"/>
<line x1="157.10" y1="311.30" x2="157.10" y2="313.70" stroke="#000" stroke-width="0.9"/>
<text x="158.50" y="319.30" font-size="4.5" text-anchor="end" transform="rotate(-45 158.50 319.30)" fill="#111" stroke="#111" stroke-width="0.1">IL1B</text>
<rect x="159.92" y="275.12" width="1.75" height="36.18" fill="#5aaae6"/>
<rect x="162.27" y="306.19" width="1.80" height="5.11" fill="#b5122e"/>
<line x1="161.92" y1="311.30" x2="161.92" y2="313.70" stroke="#000" stroke-width="0.9"/>
<text x="163.32" y="319.30" font-size="4.5" text-anchor="end" transform="rotate(-45 163.32 319.30)" fill="#111" stroke="#111" stroke-width="0.1">CCL20</text>
<rect x="164.74" y="288.97" width="1.75" height="22.33" fill="#5aaae6"/>
<rect x="167.09" y="308.61" width="1.80" height="2.69" fill="#b5122e"/>
<line x1="166.74" y1="311.30" x2="166.74" y2="313.70" stroke="#000" stroke-width="0.9"/>
<text x="168.14" y="319.30" font-size="4.5" text-anchor="end" transform="rotate(-45 168.14 319.30)" fill="#111" stroke="#111" stroke-width="0.1">IL6</text>
<rect x="169.56" y="294.49" width="1.75" height="16.81" fill="#5aaae6"/>
<rect x="171.91" y="298.93" width="1.80" height="12.37" fill="#b5122e"/>
<line x1="171.56" y1="311.30" x2="171.56" y2="313.70" stroke="#000" stroke-width="0.9"/>
<text x="172.96" y="319.30" font-size="4.5" text-anchor="end" transform="rotate(-45 172.96 319.30)" fill="#111" stroke="#111" stroke-width="0.1">CXCL8</text>
<rect x="174.38" y="297.31" width="1.75" height="13.99" fill="#5aaae6"/>
<rect x="176.73" y="305.38" width="1.80" height="5.92" fill="#b5122e"/>
<line x1="176.38" y1="311.30" x2="176.38" y2="313.70" stroke="#000" stroke-width="0.9"/>
<text x="177.78" y="319.30" font-size="4.5" text-anchor="end" transform="rotate(-45 177.78 319.30)" fill="#111" stroke="#111" stroke-width="0.1">PTGS2</text>
<rect x="179.20" y="297.98" width="1.75" height="13.32" fill="#5aaae6"/>
<rect x="181.55" y="310.09" width="1.80" height="1.21" fill="#b5122e"/>
<line x1="181.20" y1="311.30" x2="181.20" y2="313.70" stroke="#000" stroke-width="0.9"/>
<text x="182.60" y="319.30" font-size="4.5" text-anchor="end" transform="rotate(-45 182.60 319.30)" fill="#111" stroke="#111" stroke-width="0.1">IL1A</text>
<rect x="184.02" y="300.94" width="1.75" height="10.36" fill="#5aaae6"/>
<rect x="186.37" y="309.15" width="1.80" height="2.15" fill="#b5122e"/>
<line x1="186.02" y1="311.30" x2="186.02" y2="313.70" stroke="#000" stroke-width="0.9"/>
<text x="187.42" y="319.30" font-size="4.5" text-anchor="end" transform="rotate(-45 187.42 319.30)" fill="#111" stroke="#111" stroke-width="0.1">SERPINB2</text>
<rect x="188.84" y="301.75" width="1.75" height="9.55" fill="#5aaae6"/>
<rect x="191.19" y="307.53" width="1.80" height="3.77" fill="#b5122e"/>
<line x1="190.84" y1="311.30" x2="190.84" y2="313.70" stroke="#000" stroke-width="0.9"/>
<text x="192.24" y="319.30" font-size="4.5" text-anchor="end" transform="rotate(-45 192.24 319.30)" fill="#111" stroke="#111" stroke-width="0.1">CCL4</text>
<rect x="193.66" y="302.42" width="1.75" height="8.88" fill="#5aaae6"/>
<rect x="196.01" y="309.15" width="1.80" height="2.15" fill="#b5122e"/>
<line x1="195.66" y1="311.30" x2="195.66" y2="313.70" stroke="#000" stroke-width="0.9"/>
<text x="197.06" y="319.30" font-size="4.5" text-anchor="end" transform="rotate(-45 197.06 319.30)" fill="#111" stroke="#111" stroke-width="0.1">TNF</text>
<rect x="198.48" y="302.83" width="1.75" height="8.47" fill="#5aaae6"/>
<rect x="200.83" y="308.21" width="1.80" height="3.09" fill="#b5122e"/>
<line x1="200.48" y1="311.30" x2="200.48" y2="313.70" stroke="#000" stroke-width="0.9"/>
<text x="201.88" y="319.30" font-size="4.5" text-anchor="end" transform="rotate(-45 201.88 319.30)" fill="#111" stroke="#111" stroke-width="0.1">IL23A</text>
<rect x="203.30" y="302.83" width="1.75" height="8.47" fill="#5aaae6"/>
<rect x="205.65" y="307.80" width="1.80" height="3.50" fill="#b5122e"/>
<line x1="205.30" y1="311.30" x2="205.30" y2="313.70" stroke="#000" stroke-width="0.9"/>
<text x="206.70" y="319.30" font-size="4.5" text-anchor="end" transform="rotate(-45 206.70 319.30)" fill="#111" stroke="#111" stroke-width="0.1">CXCL2</text>
<rect x="208.12" y="303.90" width="1.75" height="7.40" fill="#5aaae6"/>
<rect x="210.47" y="308.61" width="1.80" height="2.69" fill="#b5122e"/>
<line x1="210.12" y1="311.30" x2="210.12" y2="313.70" stroke="#000" stroke-width="0.9"/>
<text x="211.52" y="319.30" font-size="4.5" text-anchor="end" transform="rotate(-45 211.52 319.30)" fill="#111" stroke="#111" stroke-width="0.1">CCL3</text>
<rect x="212.94" y="303.77" width="1.75" height="7.53" fill="#5aaae6"/>
<rect x="215.29" y="306.73" width="1.80" height="4.57" fill="#b5122e"/>
<line x1="214.94" y1="311.30" x2="214.94" y2="313.70" stroke="#000" stroke-width="0.9"/>
<text x="216.34" y="319.30" font-size="4.5" text-anchor="end" transform="rotate(-45 216.34 319.30)" fill="#111" stroke="#111" stroke-width="0.1">IL10</text>
<rect x="217.76" y="303.90" width="1.75" height="7.40" fill="#5aaae6"/>
<rect x="220.11" y="308.34" width="1.80" height="2.96" fill="#b5122e"/>
<line x1="219.76" y1="311.30" x2="219.76" y2="313.70" stroke="#000" stroke-width="0.9"/>
<text x="221.16" y="319.30" font-size="4.5" text-anchor="end" transform="rotate(-45 221.16 319.30)" fill="#111" stroke="#111" stroke-width="0.1">CXCL3</text>
<rect x="222.58" y="303.90" width="1.75" height="7.40" fill="#5aaae6"/>
<rect x="224.93" y="309.01" width="1.80" height="2.29" fill="#b5122e"/>
<line x1="224.58" y1="311.30" x2="224.58" y2="313.70" stroke="#000" stroke-width="0.9"/>
<text x="225.98" y="319.30" font-size="4.5" text-anchor="end" transform="rotate(-45 225.98 319.30)" fill="#111" stroke="#111" stroke-width="0.1">EREG</text>
<rect x="227.40" y="304.17" width="1.75" height="7.13" fill="#5aaae6"/>
<rect x="229.75" y="308.61" width="1.80" height="2.69" fill="#b5122e"/>
<line x1="229.40" y1="311.30" x2="229.40" y2="313.70" stroke="#000" stroke-width="0.9"/>
<text x="230.80" y="319.30" font-size="4.5" text-anchor="end" transform="rotate(-45 230.80 319.30)" fill="#111" stroke="#111" stroke-width="0.1">INHBA</text>
<rect x="232.22" y="304.44" width="1.75" height="6.86" fill="#5aaae6"/>
<rect x="234.57" y="307.26" width="1.80" height="4.04" fill="#b5122e"/>
<line x1="234.22" y1="311.30" x2="234.22" y2="313.70" stroke="#000" stroke-width="0.9"/>
<text x="235.62" y="319.30" font-size="4.5" text-anchor="end" transform="rotate(-45 235.62 319.30)" fill="#111" stroke="#111" stroke-width="0.1">CD274</text>
<rect x="237.04" y="304.17" width="1.75" height="7.13" fill="#5aaae6"/>
<rect x="239.39" y="308.21" width="1.80" height="3.09" fill="#b5122e"/>
<line x1="239.04" y1="311.30" x2="239.04" y2="313.70" stroke="#000" stroke-width="0.9"/>
<text x="240.44" y="319.30" font-size="4.5" text-anchor="end" transform="rotate(-45 240.44 319.30)" fill="#111" stroke="#111" stroke-width="0.1">IDO1</text>
<rect x="241.86" y="304.71" width="1.75" height="6.59" fill="#5aaae6"/>
<rect x="244.21" y="309.55" width="1.80" height="1.75" fill="#b5122e"/>
<line x1="243.86" y1="311.30" x2="243.86" y2="313.70" stroke="#000" stroke-width="0.9"/>
<text x="245.26" y="319.30" font-size="4.5" text-anchor="end" transform="rotate(-45 245.26 319.30)" fill="#111" stroke="#111" stroke-width="0.1">NFKBIZ</text>
<rect x="246.68" y="304.71" width="1.75" height="6.59" fill="#5aaae6"/>
<rect x="249.03" y="307.80" width="1.80" height="3.50" fill="#b5122e"/>
<line x1="248.68" y1="311.30" x2="248.68" y2="313.70" stroke="#000" stroke-width="0.9"/>
<text x="250.08" y="319.30" font-size="4.5" text-anchor="end" transform="rotate(-45 250.08 319.30)" fill="#111" stroke="#111" stroke-width="0.1">TNFAIP6</text>
<line x1="154.40" y1="311.30" x2="252.00" y2="311.30" stroke="#000" stroke-width="1.0"/>
<text x="189.00" y="224.50" font-size="6.3" text-anchor="start" fill="#111">LPS+Ado</text>
<rect x="222.50" y="263.50" width="5.40" height="2.40" fill="#5aaae6"/>
<text x="230.90" y="266.30" font-size="4.6" text-anchor="start" fill="#111" stroke="#111" stroke-width="0.14" textLength="13.1" lengthAdjust="spacingAndGlyphs">M-CSF</text>
<rect x="222.50" y="269.80" width="5.40" height="2.50" fill="#b5122e"/>
<text x="230.90" y="272.60" font-size="4.6" text-anchor="start" fill="#111" stroke="#111" stroke-width="0.14" textLength="16.6" lengthAdjust="spacingAndGlyphs">GM-CSF</text>
<text x="138.60" y="269.70" font-size="5.3" text-anchor="middle" transform="rotate(-90 138.60 269.70)" fill="#111" stroke="#111" stroke-width="0.2" textLength="33.3" lengthAdjust="spacingAndGlyphs">Fold change/LPS</text>
<line x1="154.70" y1="241.34" x2="158.50" y2="241.34" stroke="#666" stroke-width="1.1"/>
<line x1="154.90" y1="239.14" x2="158.30" y2="239.14" stroke="#222" stroke-width="0.5"/>
<line x1="159.52" y1="273.22" x2="163.32" y2="273.22" stroke="#666" stroke-width="1.1"/>
<line x1="159.72" y1="271.02" x2="163.12" y2="271.02" stroke="#222" stroke-width="0.5"/>
<line x1="164.34" y1="287.07" x2="168.14" y2="287.07" stroke="#666" stroke-width="1.1"/>
<line x1="164.54" y1="284.87" x2="167.94" y2="284.87" stroke="#222" stroke-width="0.5"/>
<line x1="178.80" y1="296.08" x2="182.60" y2="296.08" stroke="#666" stroke-width="1.1"/>
<line x1="179.00" y1="293.88" x2="182.40" y2="293.88" stroke="#222" stroke-width="0.5"/>
<line x1="183.62" y1="299.04" x2="187.42" y2="299.04" stroke="#666" stroke-width="1.1"/>
<line x1="183.82" y1="296.84" x2="187.22" y2="296.84" stroke="#222" stroke-width="0.5"/>
<line x1="188.44" y1="299.85" x2="192.24" y2="299.85" stroke="#666" stroke-width="1.1"/>
<line x1="188.64" y1="297.65" x2="192.04" y2="297.65" stroke="#222" stroke-width="0.5"/>
<line x1="193.26" y1="300.52" x2="197.06" y2="300.52" stroke="#666" stroke-width="1.1"/>
<line x1="193.46" y1="298.32" x2="196.86" y2="298.32" stroke="#222" stroke-width="0.5"/>
<line x1="207.72" y1="302.00" x2="211.52" y2="302.00" stroke="#666" stroke-width="1.1"/>
<line x1="207.92" y1="299.80" x2="211.32" y2="299.80" stroke="#222" stroke-width="0.5"/>
<line x1="217.36" y1="302.00" x2="221.16" y2="302.00" stroke="#666" stroke-width="1.1"/>
<line x1="217.56" y1="299.80" x2="220.96" y2="299.80" stroke="#222" stroke-width="0.5"/>
<line x1="222.18" y1="302.00" x2="225.98" y2="302.00" stroke="#666" stroke-width="1.1"/>
<line x1="222.38" y1="299.80" x2="225.78" y2="299.80" stroke="#222" stroke-width="0.5"/>
<line x1="227.00" y1="302.27" x2="230.80" y2="302.27" stroke="#666" stroke-width="1.1"/>
<line x1="227.20" y1="300.07" x2="230.60" y2="300.07" stroke="#222" stroke-width="0.5"/>
<line x1="231.82" y1="302.54" x2="235.62" y2="302.54" stroke="#666" stroke-width="1.1"/>
<line x1="232.02" y1="300.34" x2="235.42" y2="300.34" stroke="#222" stroke-width="0.5"/>
<line x1="241.46" y1="302.81" x2="245.26" y2="302.81" stroke="#666" stroke-width="1.1"/>
<line x1="241.66" y1="300.61" x2="245.06" y2="300.61" stroke="#222" stroke-width="0.5"/>
<line x1="282.00" y1="229.00" x2="282.00" y2="311.30" stroke="#000" stroke-width="1.0"/>
<line x1="279.20" y1="230.95" x2="282.00" y2="230.95" stroke="#000" stroke-width="0.9"/>
<text x="276.60" y="232.40" font-size="4.1" text-anchor="end" fill="#3a3a3a" stroke="#3a3a3a" stroke-width="0.03" textLength="4.5" lengthAdjust="spacingAndGlyphs">10</text>
<line x1="279.20" y1="244.30" x2="282.00" y2="244.30" stroke="#000" stroke-width="0.9"/>
<text x="276.60" y="245.75" font-size="4.1" text-anchor="end" fill="#3a3a3a" stroke="#3a3a3a" stroke-width="0.03" textLength="2.25" lengthAdjust="spacingAndGlyphs">0</text>
<line x1="279.20" y1="257.65" x2="282.00" y2="257.65" stroke="#000" stroke-width="0.9"/>
<text x="276.60" y="259.10" font-size="4.1" text-anchor="end" fill="#3a3a3a" stroke="#3a3a3a" stroke-width="0.03" textLength="6.75" lengthAdjust="spacingAndGlyphs">−10</text>
<line x1="279.20" y1="271.00" x2="282.00" y2="271.00" stroke="#000" stroke-width="0.9"/>
<text x="276.60" y="272.45" font-size="4.1" text-anchor="end" fill="#3a3a3a" stroke="#3a3a3a" stroke-width="0.03" textLength="6.75" lengthAdjust="spacingAndGlyphs">−20</text>
<line x1="279.20" y1="284.35" x2="282.00" y2="284.35" stroke="#000" stroke-width="0.9"/>
<text x="276.60" y="285.80" font-size="4.1" text-anchor="end" fill="#3a3a3a" stroke="#3a3a3a" stroke-width="0.03" textLength="6.75" lengthAdjust="spacingAndGlyphs">−30</text>
<line x1="279.20" y1="297.70" x2="282.00" y2="297.70" stroke="#000" stroke-width="0.9"/>
<text x="276.60" y="299.15" font-size="4.1" text-anchor="end" fill="#3a3a3a" stroke="#3a3a3a" stroke-width="0.03" textLength="6.75" lengthAdjust="spacingAndGlyphs">−40</text>
<line x1="279.20" y1="311.05" x2="282.00" y2="311.05" stroke="#000" stroke-width="0.9"/>
<text x="276.60" y="312.50" font-size="4.1" text-anchor="end" fill="#3a3a3a" stroke="#3a3a3a" stroke-width="0.03" textLength="6.75" lengthAdjust="spacingAndGlyphs">−50</text>
<rect x="281.90" y="244.30" width="1.75" height="52.06" fill="#5aaae6"/>
<rect x="284.25" y="244.30" width="1.80" height="3.20" fill="#b5122e"/>
<line x1="283.90" y1="311.30" x2="283.90" y2="313.70" stroke="#000" stroke-width="0.9"/>
<text x="285.30" y="319.30" font-size="4.5" text-anchor="end" transform="rotate(-45 285.30 319.30)" fill="#111" stroke="#111" stroke-width="0.1">IL1B</text>
<rect x="286.85" y="244.30" width="1.75" height="26.43" fill="#5aaae6"/>
<rect x="289.20" y="244.30" width="1.80" height="2.67" fill="#b5122e"/>
<line x1="288.85" y1="311.30" x2="288.85" y2="313.70" stroke="#000" stroke-width="0.9"/>
<text x="290.25" y="319.30" font-size="4.5" text-anchor="end" transform="rotate(-45 290.25 319.30)" fill="#111" stroke="#111" stroke-width="0.1">CCL3L1</text>
<rect x="291.80" y="244.30" width="1.75" height="25.23" fill="#5aaae6"/>
<rect x="294.15" y="244.30" width="1.80" height="5.34" fill="#b5122e"/>
<line x1="293.80" y1="311.30" x2="293.80" y2="313.70" stroke="#000" stroke-width="0.9"/>
<text x="295.20" y="319.30" font-size="4.5" text-anchor="end" transform="rotate(-45 295.20 319.30)" fill="#111" stroke="#111" stroke-width="0.1">CCL4</text>
<rect x="296.75" y="244.30" width="1.75" height="23.50" fill="#5aaae6"/>
<rect x="299.10" y="244.30" width="1.80" height="3.47" fill="#b5122e"/>
<line x1="298.75" y1="311.30" x2="298.75" y2="313.70" stroke="#000" stroke-width="0.9"/>
<text x="300.15" y="319.30" font-size="4.5" text-anchor="end" transform="rotate(-45 300.15 319.30)" fill="#111" stroke="#111" stroke-width="0.1">CCL3</text>
<rect x="301.70" y="244.30" width="1.75" height="20.56" fill="#5aaae6"/>
<rect x="304.05" y="244.30" width="1.80" height="2.14" fill="#b5122e"/>
<line x1="303.70" y1="311.30" x2="303.70" y2="313.70" stroke="#000" stroke-width="0.9"/>
<text x="305.10" y="319.30" font-size="4.5" text-anchor="end" transform="rotate(-45 305.10 319.30)" fill="#111" stroke="#111" stroke-width="0.1">CXCL10</text>
<rect x="306.65" y="244.30" width="1.75" height="15.75" fill="#5aaae6"/>
<rect x="309.00" y="244.30" width="1.80" height="4.41" fill="#b5122e"/>
<line x1="308.65" y1="311.30" x2="308.65" y2="313.70" stroke="#000" stroke-width="0.9"/>
<text x="310.05" y="319.30" font-size="4.5" text-anchor="end" transform="rotate(-45 310.05 319.30)" fill="#111" stroke="#111" stroke-width="0.1">IL12B</text>
<rect x="311.60" y="244.30" width="1.75" height="15.75" fill="#5aaae6"/>
<rect x="313.95" y="242.97" width="1.80" height="1.34" fill="#b5122e"/>
<line x1="313.60" y1="311.30" x2="313.60" y2="313.70" stroke="#000" stroke-width="0.9"/>
<text x="315.00" y="319.30" font-size="4.5" text-anchor="end" transform="rotate(-45 315.00 319.30)" fill="#111" stroke="#111" stroke-width="0.1">CCL8</text>
<rect x="316.55" y="244.30" width="1.75" height="15.35" fill="#5aaae6"/>
<rect x="318.90" y="244.30" width="1.80" height="3.47" fill="#b5122e"/>
<line x1="318.55" y1="311.30" x2="318.55" y2="313.70" stroke="#000" stroke-width="0.9"/>
<text x="319.95" y="319.30" font-size="4.5" text-anchor="end" transform="rotate(-45 319.95 319.30)" fill="#111" stroke="#111" stroke-width="0.1">IFIT2</text>
<rect x="321.50" y="244.30" width="1.75" height="13.62" fill="#5aaae6"/>
<rect x="323.85" y="244.30" width="1.80" height="3.47" fill="#b5122e"/>
<line x1="323.50" y1="311.30" x2="323.50" y2="313.70" stroke="#000" stroke-width="0.9"/>
<text x="324.90" y="319.30" font-size="4.5" text-anchor="end" transform="rotate(-45 324.90 319.30)" fill="#111" stroke="#111" stroke-width="0.1">CXCL11</text>
<rect x="326.45" y="244.30" width="1.75" height="12.28" fill="#5aaae6"/>
<rect x="328.80" y="244.30" width="1.80" height="4.41" fill="#b5122e"/>
<line x1="328.45" y1="311.30" x2="328.45" y2="313.70" stroke="#000" stroke-width="0.9"/>
<text x="329.85" y="319.30" font-size="4.5" text-anchor="end" transform="rotate(-45 329.85 319.30)" fill="#111" stroke="#111" stroke-width="0.1">ISG15</text>
<rect x="331.40" y="244.30" width="1.75" height="11.35" fill="#5aaae6"/>
<rect x="333.75" y="244.30" width="1.80" height="2.14" fill="#b5122e"/>
<line x1="333.40" y1="311.30" x2="333.40" y2="313.70" stroke="#000" stroke-width="0.9"/>
<text x="334.80" y="319.30" font-size="4.5" text-anchor="end" transform="rotate(-45 334.80 319.30)" fill="#111" stroke="#111" stroke-width="0.1">IFIT3</text>
<rect x="336.35" y="244.30" width="1.75" height="10.41" fill="#5aaae6"/>
<rect x="338.70" y="244.30" width="1.80" height="3.47" fill="#b5122e"/>
<line x1="338.35" y1="311.30" x2="338.35" y2="313.70" stroke="#000" stroke-width="0.9"/>
<text x="339.75" y="319.30" font-size="4.5" text-anchor="end" transform="rotate(-45 339.75 319.30)" fill="#111" stroke="#111" stroke-width="0.1">CCL5</text>
<rect x="341.30" y="244.30" width="1.75" height="9.61" fill="#5aaae6"/>
<rect x="343.65" y="238.29" width="1.80" height="6.01" fill="#b5122e"/>
<line x1="343.30" y1="311.30" x2="343.30" y2="313.70" stroke="#000" stroke-width="0.9"/>
<text x="344.70" y="319.30" font-size="4.5" text-anchor="end" transform="rotate(-45 344.70 319.30)" fill="#111" stroke="#111" stroke-width="0.1">RSAD2</text>
<rect x="346.25" y="244.30" width="1.75" height="9.34" fill="#5aaae6"/>
<rect x="348.60" y="244.30" width="1.80" height="3.47" fill="#b5122e"/>
<line x1="348.25" y1="311.30" x2="348.25" y2="313.70" stroke="#000" stroke-width="0.9"/>
<text x="349.65" y="319.30" font-size="4.5" text-anchor="end" transform="rotate(-45 349.65 319.30)" fill="#111" stroke="#111" stroke-width="0.1">MX1</text>
<rect x="351.20" y="244.30" width="1.75" height="9.34" fill="#5aaae6"/>
<rect x="353.55" y="244.30" width="1.80" height="2.67" fill="#b5122e"/>
<line x1="353.20" y1="311.30" x2="353.20" y2="313.70" stroke="#000" stroke-width="0.9"/>
<text x="354.60" y="319.30" font-size="4.5" text-anchor="end" transform="rotate(-45 354.60 319.30)" fill="#111" stroke="#111" stroke-width="0.1">IFI44</text>
<rect x="356.15" y="244.30" width="1.75" height="9.08" fill="#5aaae6"/>
<rect x="358.50" y="244.30" width="1.80" height="3.47" fill="#b5122e"/>
<line x1="358.15" y1="311.30" x2="358.15" y2="313.70" stroke="#000" stroke-width="0.9"/>
<text x="359.55" y="319.30" font-size="4.5" text-anchor="end" transform="rotate(-45 359.55 319.30)" fill="#111" stroke="#111" stroke-width="0.1">OASL</text>
<rect x="361.10" y="244.30" width="1.75" height="9.08" fill="#5aaae6"/>
<rect x="363.45" y="244.30" width="1.80" height="3.20" fill="#b5122e"/>
<line x1="363.10" y1="311.30" x2="363.10" y2="313.70" stroke="#000" stroke-width="0.9"/>
<text x="364.50" y="319.30" font-size="4.5" text-anchor="end" transform="rotate(-45 364.50 319.30)" fill="#111" stroke="#111" stroke-width="0.1">IFIT1</text>
<rect x="366.05" y="244.30" width="1.75" height="8.81" fill="#5aaae6"/>
<rect x="368.40" y="244.30" width="1.80" height="3.47" fill="#b5122e"/>
<line x1="368.05" y1="311.30" x2="368.05" y2="313.70" stroke="#000" stroke-width="0.9"/>
<text x="369.45" y="319.30" font-size="4.5" text-anchor="end" transform="rotate(-45 369.45 319.30)" fill="#111" stroke="#111" stroke-width="0.1">CD38</text>
<rect x="371.00" y="244.30" width="1.75" height="8.54" fill="#5aaae6"/>
<rect x="373.35" y="242.97" width="1.80" height="1.34" fill="#b5122e"/>
<line x1="373.00" y1="311.30" x2="373.00" y2="313.70" stroke="#000" stroke-width="0.9"/>
<text x="374.40" y="319.30" font-size="4.5" text-anchor="end" transform="rotate(-45 374.40 319.30)" fill="#111" stroke="#111" stroke-width="0.1">ANKRD22</text>
<rect x="375.95" y="244.30" width="1.75" height="8.28" fill="#5aaae6"/>
<rect x="378.30" y="243.23" width="1.80" height="1.07" fill="#b5122e"/>
<line x1="377.95" y1="311.30" x2="377.95" y2="313.70" stroke="#000" stroke-width="0.9"/>
<text x="379.35" y="319.30" font-size="4.5" text-anchor="end" transform="rotate(-45 379.35 319.30)" fill="#111" stroke="#111" stroke-width="0.1">IL7R</text>
<line x1="282.00" y1="244.30" x2="378.60" y2="244.30" stroke="#000" stroke-width="1.0"/>
<line x1="282.00" y1="311.30" x2="378.60" y2="311.30" stroke="#000" stroke-width="1.0"/>
<text x="312.70" y="224.50" font-size="6.3" text-anchor="start" fill="#111">LPS+PGE<tspan font-size="3.8" dy="1.3">2</tspan></text>
<rect x="338.70" y="282.80" width="5.40" height="2.40" fill="#5aaae6"/>
<text x="347.10" y="285.60" font-size="4.6" text-anchor="start" fill="#111" stroke="#111" stroke-width="0.14" textLength="13.1" lengthAdjust="spacingAndGlyphs">M-CSF</text>
<rect x="338.70" y="289.10" width="5.40" height="2.50" fill="#b5122e"/>
<text x="347.10" y="291.90" font-size="4.6" text-anchor="start" fill="#111" stroke="#111" stroke-width="0.14" textLength="16.6" lengthAdjust="spacingAndGlyphs">GM-CSF</text>
<text x="264.20" y="269.60" font-size="5.3" text-anchor="middle" transform="rotate(-90 264.20 269.60)" fill="#111" stroke="#111" stroke-width="0.2" textLength="33.3" lengthAdjust="spacingAndGlyphs">Fold change/LPS</text>
<line x1="281.50" y1="297.97" x2="285.30" y2="297.97" stroke="#222" stroke-width="0.6"/>
<line x1="281.70" y1="299.97" x2="285.10" y2="299.97" stroke="#777" stroke-width="1.1"/>
<line x1="286.45" y1="272.33" x2="290.25" y2="272.33" stroke="#222" stroke-width="0.6"/>
<line x1="286.65" y1="274.33" x2="290.05" y2="274.33" stroke="#777" stroke-width="1.1"/>
<line x1="291.40" y1="271.13" x2="295.20" y2="271.13" stroke="#222" stroke-width="0.6"/>
<line x1="291.60" y1="273.13" x2="295.00" y2="273.13" stroke="#777" stroke-width="1.1"/>
<line x1="296.35" y1="269.40" x2="300.15" y2="269.40" stroke="#222" stroke-width="0.6"/>
<line x1="296.55" y1="271.40" x2="299.95" y2="271.40" stroke="#777" stroke-width="1.1"/>
<line x1="301.30" y1="266.46" x2="305.10" y2="266.46" stroke="#222" stroke-width="0.6"/>
<line x1="301.50" y1="268.46" x2="304.90" y2="268.46" stroke="#777" stroke-width="1.1"/>
<line x1="306.25" y1="261.65" x2="310.05" y2="261.65" stroke="#222" stroke-width="0.6"/>
<line x1="306.45" y1="263.65" x2="309.85" y2="263.65" stroke="#777" stroke-width="1.1"/>
<line x1="311.20" y1="261.65" x2="315.00" y2="261.65" stroke="#222" stroke-width="0.6"/>
<line x1="311.40" y1="263.65" x2="314.80" y2="263.65" stroke="#777" stroke-width="1.1"/>
<line x1="316.15" y1="261.25" x2="319.95" y2="261.25" stroke="#222" stroke-width="0.6"/>
<line x1="316.35" y1="263.25" x2="319.75" y2="263.25" stroke="#777" stroke-width="1.1"/>
<line x1="321.10" y1="259.52" x2="324.90" y2="259.52" stroke="#222" stroke-width="0.6"/>
<line x1="321.30" y1="261.52" x2="324.70" y2="261.52" stroke="#777" stroke-width="1.1"/>
<line x1="326.05" y1="258.18" x2="329.85" y2="258.18" stroke="#222" stroke-width="0.6"/>
<line x1="326.25" y1="260.18" x2="329.65" y2="260.18" stroke="#777" stroke-width="1.1"/>
<line x1="331.00" y1="257.25" x2="334.80" y2="257.25" stroke="#222" stroke-width="0.6"/>
<line x1="331.20" y1="259.25" x2="334.60" y2="259.25" stroke="#777" stroke-width="1.1"/>
<line x1="335.95" y1="256.31" x2="339.75" y2="256.31" stroke="#222" stroke-width="0.6"/>
<line x1="336.15" y1="258.31" x2="339.55" y2="258.31" stroke="#777" stroke-width="1.1"/>
<line x1="340.90" y1="255.51" x2="344.70" y2="255.51" stroke="#222" stroke-width="0.6"/>
<line x1="341.10" y1="257.51" x2="344.50" y2="257.51" stroke="#777" stroke-width="1.1"/>
<line x1="345.85" y1="255.25" x2="349.65" y2="255.25" stroke="#222" stroke-width="0.6"/>
<line x1="346.05" y1="257.25" x2="349.45" y2="257.25" stroke="#777" stroke-width="1.1"/>
<line x1="350.80" y1="255.25" x2="354.60" y2="255.25" stroke="#222" stroke-width="0.6"/>
<line x1="351.00" y1="257.25" x2="354.40" y2="257.25" stroke="#777" stroke-width="1.1"/>
<line x1="355.75" y1="254.98" x2="359.55" y2="254.98" stroke="#222" stroke-width="0.6"/>
<line x1="355.95" y1="256.98" x2="359.35" y2="256.98" stroke="#777" stroke-width="1.1"/>
<line x1="360.70" y1="254.98" x2="364.50" y2="254.98" stroke="#222" stroke-width="0.6"/>
<line x1="360.90" y1="256.98" x2="364.30" y2="256.98" stroke="#777" stroke-width="1.1"/>
<line x1="365.65" y1="254.71" x2="369.45" y2="254.71" stroke="#222" stroke-width="0.6"/>
<line x1="365.85" y1="256.71" x2="369.25" y2="256.71" stroke="#777" stroke-width="1.1"/>
<line x1="370.60" y1="254.44" x2="374.40" y2="254.44" stroke="#222" stroke-width="0.6"/>
<line x1="370.80" y1="256.44" x2="374.20" y2="256.44" stroke="#777" stroke-width="1.1"/>
<line x1="375.55" y1="254.18" x2="379.35" y2="254.18" stroke="#222" stroke-width="0.6"/>
<line x1="375.75" y1="256.18" x2="379.15" y2="256.18" stroke="#777" stroke-width="1.1"/>
<line x1="409.30" y1="229.00" x2="409.30" y2="311.30" stroke="#000" stroke-width="1.0"/>
<line x1="406.50" y1="230.50" x2="409.30" y2="230.50" stroke="#000" stroke-width="0.9"/>
<text x="403.90" y="231.95" font-size="4.1" text-anchor="end" fill="#3a3a3a" stroke="#3a3a3a" stroke-width="0.03" textLength="4.5" lengthAdjust="spacingAndGlyphs">10</text>
<line x1="406.50" y1="250.60" x2="409.30" y2="250.60" stroke="#000" stroke-width="0.9"/>
<text x="403.90" y="252.05" font-size="4.1" text-anchor="end" fill="#3a3a3a" stroke="#3a3a3a" stroke-width="0.03" textLength="2.25" lengthAdjust="spacingAndGlyphs">0</text>
<line x1="406.50" y1="270.70" x2="409.30" y2="270.70" stroke="#000" stroke-width="0.9"/>
<text x="403.90" y="272.15" font-size="4.1" text-anchor="end" fill="#3a3a3a" stroke="#3a3a3a" stroke-width="0.03" textLength="6.75" lengthAdjust="spacingAndGlyphs">−10</text>
<line x1="406.50" y1="290.80" x2="409.30" y2="290.80" stroke="#000" stroke-width="0.9"/>
<text x="403.90" y="292.25" font-size="4.1" text-anchor="end" fill="#3a3a3a" stroke="#3a3a3a" stroke-width="0.03" textLength="6.75" lengthAdjust="spacingAndGlyphs">−20</text>
<line x1="406.50" y1="310.90" x2="409.30" y2="310.90" stroke="#000" stroke-width="0.9"/>
<text x="403.90" y="312.35" font-size="4.1" text-anchor="end" fill="#3a3a3a" stroke="#3a3a3a" stroke-width="0.03" textLength="6.75" lengthAdjust="spacingAndGlyphs">−30</text>
<rect x="409.60" y="250.60" width="1.75" height="48.64" fill="#5aaae6"/>
<rect x="411.95" y="250.60" width="1.80" height="3.01" fill="#b5122e"/>
<line x1="411.60" y1="311.30" x2="411.60" y2="313.70" stroke="#000" stroke-width="0.9"/>
<text x="413.00" y="319.30" font-size="4.5" text-anchor="end" transform="rotate(-45 413.00 319.30)" fill="#111" stroke="#111" stroke-width="0.1">IL1B</text>
<rect x="414.55" y="250.60" width="1.75" height="21.91" fill="#5aaae6"/>
<rect x="416.90" y="250.60" width="1.80" height="3.01" fill="#b5122e"/>
<line x1="416.55" y1="311.30" x2="416.55" y2="313.70" stroke="#000" stroke-width="0.9"/>
<text x="417.95" y="319.30" font-size="4.5" text-anchor="end" transform="rotate(-45 417.95 319.30)" fill="#111" stroke="#111" stroke-width="0.1">CCL3L1</text>
<rect x="419.50" y="250.60" width="1.75" height="19.50" fill="#5aaae6"/>
<rect x="421.85" y="250.60" width="1.80" height="2.61" fill="#b5122e"/>
<line x1="421.50" y1="311.30" x2="421.50" y2="313.70" stroke="#000" stroke-width="0.9"/>
<text x="422.90" y="319.30" font-size="4.5" text-anchor="end" transform="rotate(-45 422.90 319.30)" fill="#111" stroke="#111" stroke-width="0.1">CCL4</text>
<rect x="424.45" y="250.60" width="1.75" height="17.49" fill="#5aaae6"/>
<rect x="426.80" y="250.60" width="1.80" height="5.83" fill="#b5122e"/>
<line x1="426.45" y1="311.30" x2="426.45" y2="313.70" stroke="#000" stroke-width="0.9"/>
<text x="427.85" y="319.30" font-size="4.5" text-anchor="end" transform="rotate(-45 427.85 319.30)" fill="#111" stroke="#111" stroke-width="0.1">CCL3</text>
<rect x="429.40" y="250.60" width="1.75" height="14.07" fill="#5aaae6"/>
<rect x="431.75" y="250.60" width="1.80" height="3.01" fill="#b5122e"/>
<line x1="431.40" y1="311.30" x2="431.40" y2="313.70" stroke="#000" stroke-width="0.9"/>
<text x="432.80" y="319.30" font-size="4.5" text-anchor="end" transform="rotate(-45 432.80 319.30)" fill="#111" stroke="#111" stroke-width="0.1">IL12B</text>
<rect x="434.35" y="250.60" width="1.75" height="12.86" fill="#5aaae6"/>
<rect x="436.70" y="248.59" width="1.80" height="2.01" fill="#b5122e"/>
<line x1="436.35" y1="311.30" x2="436.35" y2="313.70" stroke="#000" stroke-width="0.9"/>
<text x="437.75" y="319.30" font-size="4.5" text-anchor="end" transform="rotate(-45 437.75 319.30)" fill="#111" stroke="#111" stroke-width="0.1">CXCL10</text>
<rect x="439.30" y="250.60" width="1.75" height="12.86" fill="#5aaae6"/>
<rect x="441.65" y="250.60" width="1.80" height="3.01" fill="#b5122e"/>
<line x1="441.30" y1="311.30" x2="441.30" y2="313.70" stroke="#000" stroke-width="0.9"/>
<text x="442.70" y="319.30" font-size="4.5" text-anchor="end" transform="rotate(-45 442.70 319.30)" fill="#111" stroke="#111" stroke-width="0.1">CCL8</text>
<rect x="444.25" y="250.60" width="1.75" height="12.86" fill="#5aaae6"/>
<rect x="446.60" y="250.60" width="1.80" height="3.01" fill="#b5122e"/>
<line x1="446.25" y1="311.30" x2="446.25" y2="313.70" stroke="#000" stroke-width="0.9"/>
<text x="447.65" y="319.30" font-size="4.5" text-anchor="end" transform="rotate(-45 447.65 319.30)" fill="#111" stroke="#111" stroke-width="0.1">CXCL11</text>
<rect x="449.20" y="250.60" width="1.75" height="12.86" fill="#5aaae6"/>
<rect x="451.55" y="250.60" width="1.80" height="3.01" fill="#b5122e"/>
<line x1="451.20" y1="311.30" x2="451.20" y2="313.70" stroke="#000" stroke-width="0.9"/>
<text x="452.60" y="319.30" font-size="4.5" text-anchor="end" transform="rotate(-45 452.60 319.30)" fill="#111" stroke="#111" stroke-width="0.1">IFIT2</text>
<rect x="454.15" y="250.60" width="1.75" height="12.06" fill="#5aaae6"/>
<rect x="456.50" y="250.60" width="1.80" height="3.01" fill="#b5122e"/>
<line x1="456.15" y1="311.30" x2="456.15" y2="313.70" stroke="#000" stroke-width="0.9"/>
<text x="457.55" y="319.30" font-size="4.5" text-anchor="end" transform="rotate(-45 457.55 319.30)" fill="#111" stroke="#111" stroke-width="0.1">ISG15</text>
<rect x="459.10" y="250.60" width="1.75" height="10.05" fill="#5aaae6"/>
<rect x="461.45" y="250.60" width="1.80" height="3.01" fill="#b5122e"/>
<line x1="461.10" y1="311.30" x2="461.10" y2="313.70" stroke="#000" stroke-width="0.9"/>
<text x="462.50" y="319.30" font-size="4.5" text-anchor="end" transform="rotate(-45 462.50 319.30)" fill="#111" stroke="#111" stroke-width="0.1">CCL5</text>
<rect x="464.05" y="250.60" width="1.75" height="10.05" fill="#5aaae6"/>
<rect x="466.40" y="250.60" width="1.80" height="2.61" fill="#b5122e"/>
<line x1="466.05" y1="311.30" x2="466.05" y2="313.70" stroke="#000" stroke-width="0.9"/>
<text x="467.45" y="319.30" font-size="4.5" text-anchor="end" transform="rotate(-45 467.45 319.30)" fill="#111" stroke="#111" stroke-width="0.1">IFIT3</text>
<rect x="469.00" y="250.60" width="1.75" height="9.85" fill="#5aaae6"/>
<rect x="471.35" y="250.60" width="1.80" height="3.01" fill="#b5122e"/>
<line x1="471.00" y1="311.30" x2="471.00" y2="313.70" stroke="#000" stroke-width="0.9"/>
<text x="472.40" y="319.30" font-size="4.5" text-anchor="end" transform="rotate(-45 472.40 319.30)" fill="#111" stroke="#111" stroke-width="0.1">RSAD2</text>
<rect x="473.95" y="250.60" width="1.75" height="9.85" fill="#5aaae6"/>
<rect x="476.30" y="250.60" width="1.80" height="3.01" fill="#b5122e"/>
<line x1="475.95" y1="311.30" x2="475.95" y2="313.70" stroke="#000" stroke-width="0.9"/>
<text x="477.35" y="319.30" font-size="4.5" text-anchor="end" transform="rotate(-45 477.35 319.30)" fill="#111" stroke="#111" stroke-width="0.1">MX1</text>
<rect x="478.90" y="250.60" width="1.75" height="9.65" fill="#5aaae6"/>
<rect x="481.25" y="250.60" width="1.80" height="3.01" fill="#b5122e"/>
<line x1="480.90" y1="311.30" x2="480.90" y2="313.70" stroke="#000" stroke-width="0.9"/>
<text x="482.30" y="319.30" font-size="4.5" text-anchor="end" transform="rotate(-45 482.30 319.30)" fill="#111" stroke="#111" stroke-width="0.1">OASL</text>
<rect x="483.85" y="250.60" width="1.75" height="9.65" fill="#5aaae6"/>
<rect x="486.20" y="248.59" width="1.80" height="2.01" fill="#b5122e"/>
<line x1="485.85" y1="311.30" x2="485.85" y2="313.70" stroke="#000" stroke-width="0.9"/>
<text x="487.25" y="319.30" font-size="4.5" text-anchor="end" transform="rotate(-45 487.25 319.30)" fill="#111" stroke="#111" stroke-width="0.1">IFI44</text>
<rect x="488.80" y="250.60" width="1.75" height="9.65" fill="#5aaae6"/>
<rect x="491.15" y="250.60" width="1.80" height="2.61" fill="#b5122e"/>
<line x1="490.80" y1="311.30" x2="490.80" y2="313.70" stroke="#000" stroke-width="0.9"/>
<text x="492.20" y="319.30" font-size="4.5" text-anchor="end" transform="rotate(-45 492.20 319.30)" fill="#111" stroke="#111" stroke-width="0.1">GBP1</text>
<rect x="493.75" y="250.60" width="1.75" height="9.45" fill="#5aaae6"/>
<rect x="496.10" y="250.60" width="1.80" height="3.01" fill="#b5122e"/>
<line x1="495.75" y1="311.30" x2="495.75" y2="313.70" stroke="#000" stroke-width="0.9"/>
<text x="497.15" y="319.30" font-size="4.5" text-anchor="end" transform="rotate(-45 497.15 319.30)" fill="#111" stroke="#111" stroke-width="0.1">IFIT1</text>
<rect x="498.70" y="250.60" width="1.75" height="9.45" fill="#5aaae6"/>
<rect x="501.05" y="250.60" width="1.80" height="3.01" fill="#b5122e"/>
<line x1="500.70" y1="311.30" x2="500.70" y2="313.70" stroke="#000" stroke-width="0.9"/>
<text x="502.10" y="319.30" font-size="4.5" text-anchor="end" transform="rotate(-45 502.10 319.30)" fill="#111" stroke="#111" stroke-width="0.1">CD38</text>
<rect x="503.65" y="250.60" width="1.75" height="9.45" fill="#5aaae6"/>
<rect x="506.00" y="250.60" width="1.80" height="3.01" fill="#b5122e"/>
<line x1="505.65" y1="311.30" x2="505.65" y2="313.70" stroke="#000" stroke-width="0.9"/>
<text x="507.05" y="319.30" font-size="4.5" text-anchor="end" transform="rotate(-45 507.05 319.30)" fill="#111" stroke="#111" stroke-width="0.1">IL7R</text>
<line x1="409.30" y1="250.60" x2="506.00" y2="250.60" stroke="#000" stroke-width="1.0"/>
<line x1="409.30" y1="311.30" x2="506.00" y2="311.30" stroke="#000" stroke-width="1.0"/>
<text x="444.10" y="224.50" font-size="6.3" text-anchor="start" fill="#111">LPS+Ado</text>
<rect x="468.80" y="283.50" width="5.40" height="2.40" fill="#5aaae6"/>
<text x="477.20" y="286.30" font-size="4.6" text-anchor="start" fill="#111" stroke="#111" stroke-width="0.14" textLength="13.1" lengthAdjust="spacingAndGlyphs">M-CSF</text>
<rect x="468.80" y="289.80" width="5.40" height="2.50" fill="#b5122e"/>
<text x="477.20" y="292.60" font-size="4.6" text-anchor="start" fill="#111" stroke="#111" stroke-width="0.14" textLength="16.6" lengthAdjust="spacingAndGlyphs">GM-CSF</text>
<text x="391.90" y="269.60" font-size="5.3" text-anchor="middle" transform="rotate(-90 391.90 269.60)" fill="#111" stroke="#111" stroke-width="0.2" textLength="33.3" lengthAdjust="spacingAndGlyphs">Fold change/LPS</text>
<line x1="409.20" y1="300.84" x2="413.00" y2="300.84" stroke="#222" stroke-width="0.6"/>
<line x1="409.40" y1="302.84" x2="412.80" y2="302.84" stroke="#777" stroke-width="1.1"/>
<line x1="414.15" y1="274.11" x2="417.95" y2="274.11" stroke="#222" stroke-width="0.6"/>
<line x1="414.35" y1="276.11" x2="417.75" y2="276.11" stroke="#777" stroke-width="1.1"/>
<line x1="419.10" y1="271.70" x2="422.90" y2="271.70" stroke="#222" stroke-width="0.6"/>
<line x1="419.30" y1="273.70" x2="422.70" y2="273.70" stroke="#777" stroke-width="1.1"/>
<line x1="424.05" y1="269.69" x2="427.85" y2="269.69" stroke="#222" stroke-width="0.6"/>
<line x1="424.25" y1="271.69" x2="427.65" y2="271.69" stroke="#777" stroke-width="1.1"/>
<line x1="429.00" y1="266.27" x2="432.80" y2="266.27" stroke="#222" stroke-width="0.6"/>
<line x1="429.20" y1="268.27" x2="432.60" y2="268.27" stroke="#777" stroke-width="1.1"/>
<line x1="433.95" y1="265.06" x2="437.75" y2="265.06" stroke="#222" stroke-width="0.6"/>
<line x1="434.15" y1="267.06" x2="437.55" y2="267.06" stroke="#777" stroke-width="1.1"/>
<line x1="438.90" y1="265.06" x2="442.70" y2="265.06" stroke="#222" stroke-width="0.6"/>
<line x1="439.10" y1="267.06" x2="442.50" y2="267.06" stroke="#777" stroke-width="1.1"/>
<line x1="443.85" y1="265.06" x2="447.65" y2="265.06" stroke="#222" stroke-width="0.6"/>
<line x1="444.05" y1="267.06" x2="447.45" y2="267.06" stroke="#777" stroke-width="1.1"/>
<line x1="448.80" y1="265.06" x2="452.60" y2="265.06" stroke="#222" stroke-width="0.6"/>
<line x1="449.00" y1="267.06" x2="452.40" y2="267.06" stroke="#777" stroke-width="1.1"/>
<line x1="453.75" y1="264.26" x2="457.55" y2="264.26" stroke="#222" stroke-width="0.6"/>
<line x1="453.95" y1="266.26" x2="457.35" y2="266.26" stroke="#777" stroke-width="1.1"/>
<line x1="458.70" y1="262.25" x2="462.50" y2="262.25" stroke="#222" stroke-width="0.6"/>
<line x1="458.90" y1="264.25" x2="462.30" y2="264.25" stroke="#777" stroke-width="1.1"/>
<line x1="463.65" y1="262.25" x2="467.45" y2="262.25" stroke="#222" stroke-width="0.6"/>
<line x1="463.85" y1="264.25" x2="467.25" y2="264.25" stroke="#777" stroke-width="1.1"/>
<line x1="468.60" y1="262.05" x2="472.40" y2="262.05" stroke="#222" stroke-width="0.6"/>
<line x1="468.80" y1="264.05" x2="472.20" y2="264.05" stroke="#777" stroke-width="1.1"/>
<line x1="473.55" y1="262.05" x2="477.35" y2="262.05" stroke="#222" stroke-width="0.6"/>
<line x1="473.75" y1="264.05" x2="477.15" y2="264.05" stroke="#777" stroke-width="1.1"/>
<line x1="478.50" y1="261.85" x2="482.30" y2="261.85" stroke="#222" stroke-width="0.6"/>
<line x1="478.70" y1="263.85" x2="482.10" y2="263.85" stroke="#777" stroke-width="1.1"/>
<line x1="483.45" y1="261.85" x2="487.25" y2="261.85" stroke="#222" stroke-width="0.6"/>
<line x1="483.65" y1="263.85" x2="487.05" y2="263.85" stroke="#777" stroke-width="1.1"/>
<line x1="488.40" y1="261.85" x2="492.20" y2="261.85" stroke="#222" stroke-width="0.6"/>
<line x1="488.60" y1="263.85" x2="492.00" y2="263.85" stroke="#777" stroke-width="1.1"/>
<line x1="493.35" y1="261.65" x2="497.15" y2="261.65" stroke="#222" stroke-width="0.6"/>
<line x1="493.55" y1="263.65" x2="496.95" y2="263.65" stroke="#777" stroke-width="1.1"/>
<line x1="498.30" y1="261.65" x2="502.10" y2="261.65" stroke="#222" stroke-width="0.6"/>
<line x1="498.50" y1="263.65" x2="501.90" y2="263.65" stroke="#777" stroke-width="1.1"/>
<line x1="503.25" y1="261.65" x2="507.05" y2="261.65" stroke="#222" stroke-width="0.6"/>
<line x1="503.45" y1="263.65" x2="506.85" y2="263.65" stroke="#777" stroke-width="1.1"/>
<rect x="0.5" y="0.5" width="519" height="342" fill="none" stroke="#000" stroke-width="1"/>
</svg>
</body></html>
